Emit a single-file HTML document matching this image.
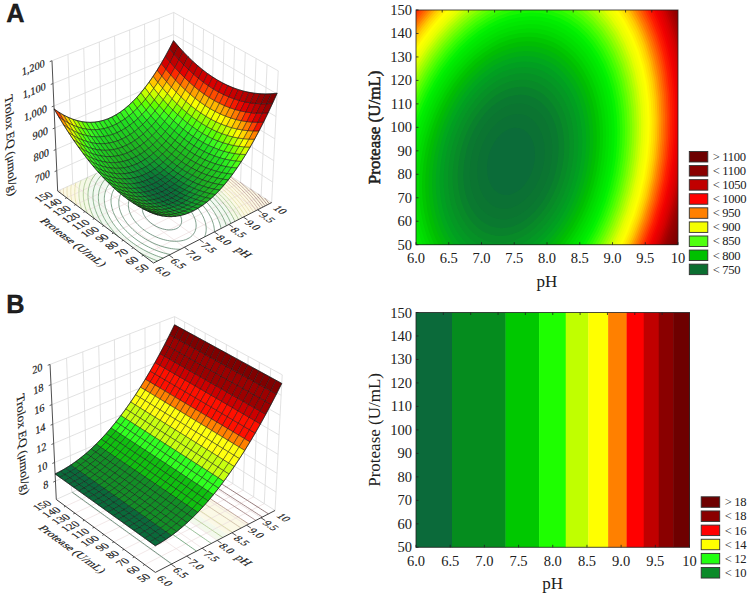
<!DOCTYPE html>
<html><head><meta charset="utf-8"><style>
html,body{margin:0;padding:0;background:#fff;}
body{width:750px;height:597px;overflow:hidden;position:relative;font-family:"Liberation Serif",serif;}
svg{position:absolute;left:0;top:0;}
</style></head><body>
<svg width="750" height="597" viewBox="0 0 750 597" fill="#202020">
<path d="M153.53,263.03 L156.68,261.42 L159.82,259.81 L162.91,258.23 L159.93,257.27 L156.54,256.06 L154.15,255.11 L151.83,254.13 L148.5,252.61 L146.36,251.55 L143.27,249.91 L141.29,248.79 L138.42,247.06 L135.67,245.28 L133.04,243.46 L130.51,241.59 L128.1,239.68 L125.79,237.73 L123.59,235.74 L121.83,234.06 L120.14,232.34 L118.21,230.25 L116.98,228.84 L115.22,226.69 L114.11,225.23 L112.93,223.6 L111.53,221.52 L110.59,220 L109.69,218.47 L108.76,216.73 L107.8,214.77 L107,212.93 L106.36,211.3 L105.78,209.65 L105.28,207.97 L104.88,206.42 L104.58,204.97 L104.34,203.57 L104.13,201.85 L104.01,200.02 L103.99,198.45 L104.04,197.19 L104.23,195.22 L104.43,193.96 L104.84,192.15 L105.2,190.93 L105.89,189.05 L106.52,187.67 L107.17,186.43 L108.19,184.81 L109.33,183.28 L110.59,181.85 L111.96,180.5 L114.23,178.65 L115.89,177.53 L118.6,176 L121.58,174.68 L124.85,173.56 L127.2,172.94 L129.69,172.43 L132.36,172.02 L135.17,171.74 L138.19,171.6 L141.06,171.59 L143.13,171.67 L146.25,171.89 L148.7,172.16 L150.87,172.47 L153.71,172.96 L156.42,173.52 L159.01,174.14 L161.49,174.8 L163.89,175.52 L166.2,176.27 L169.33,177.4 L171.68,178.32 L173.77,179.19 L176.8,180.56 L178.75,181.51 L181.6,182.98 L184.34,184.5 L187,186.08 L188.72,187.16 L191.23,188.83 L193.66,190.54 L195.23,191.72 L197.52,193.52 L199.73,195.36 L201.87,197.26 L203.25,198.56 L205.25,200.54 L206.54,201.89 L208.41,203.96 L209.61,205.38 L210.77,206.81 L212.41,208.98 L213.49,210.52 L214.5,212.05 L215.47,213.61 L216.39,215.2 L217.32,216.95 L218.17,218.7 L218.91,220.37 L219.55,221.98 L220.15,223.69 L220.7,225.51 L221.17,227.38 L221.7,228.17 L224.65,226.66 L227.59,225.15 L230.52,223.65 L233.44,222.16 L233.89,220.88 L233.09,219.19 L232.25,217.53 L231.36,215.9 L230.44,214.29 L229.3,212.44 L227.97,210.4 L226.91,208.88 L225.83,207.38 L224.72,205.91 L222.98,203.74 L221.79,202.32 L220.52,200.86 L218.68,198.87 L217.39,197.52 L215.4,195.53 L214.05,194.22 L211.95,192.31 L209.81,190.43 L208.34,189.2 L206.09,187.39 L203.78,185.62 L201.41,183.89 L198.98,182.2 L196.49,180.55 L193.93,178.94 L191.31,177.37 L188.62,175.85 L186.36,174.64 L183.97,173.41 L181.07,172 L179.1,171.09 L176.06,169.77 L173.98,168.92 L171.63,168 L168.58,166.9 L166.33,166.14 L164.02,165.41 L161.65,164.71 L159.21,164.05 L156.7,163.42 L154.09,162.84 L151.39,162.3 L148.58,161.82 L145.85,161.43 L143.91,161.19 L140.93,160.92 L138.48,160.76 L135.72,160.66 L133.52,160.65 L130.45,160.73 L127.53,160.92 L124.97,161.18 L122.17,161.59 L120.21,162.48 L117.31,163.8 L114.4,165.13 L111.49,166.46 L108.57,167.8 L105.64,169.13 L102.7,170.47 L99.76,171.82 L97.97,172.84 L96.65,174.21 L95.43,175.65 L94.3,177.17 L93.26,178.76 L92.31,180.42 L91.64,181.8 L91.08,183.07 L90.39,184.94 L90.02,186.17 L89.57,187.92 L89.31,189.23 L89.02,191.13 L88.91,192.25 L88.8,194.07 L88.77,195.79 L88.81,197.03 L88.91,198.65 L89.11,200.43 L89.37,202.19 L89.68,203.82 L90.01,205.3 L90.41,206.84 L90.88,208.44 L91.43,210.1 L92.06,211.82 L92.79,213.62 L93.6,215.44 L94.35,217.02 L95.15,218.58 L96.25,220.01 L98.64,221.81 L101.04,223.61 L103.45,225.42 L105.87,227.23 L108.29,229.05 L110.73,230.88 L113.17,232.71 L115.62,234.56 L118.08,236.4 L120.55,238.26 L123.03,240.12 L125.52,241.99 L128.02,243.87 L130.53,245.75 L133.05,247.64 L135.57,249.54 L138.11,251.45 L140.66,253.36 L143.21,255.28 L145.78,257.2 L148.35,259.14 L150.94,261.08 L153.53,263.03Z" fill="#f2f9f1" fill-rule="evenodd"/>
<path d="M234.27,221.74 L236.36,220.67 L239.27,219.18 L242.16,217.7 L242.56,216.45 L241.63,214.84 L240.66,213.25 L239.42,211.3 L238.12,209.37 L237.05,207.86 L235.95,206.37 L234.75,204.8 L233.09,202.73 L231.9,201.3 L230.6,199.8 L228.81,197.82 L227.54,196.46 L225.59,194.45 L224.25,193.13 L222.21,191.18 L220.82,189.9 L218.7,188.02 L216.52,186.16 L215.05,184.95 L212.79,183.16 L210.48,181.4 L208.12,179.68 L205.71,178 L203.25,176.35 L200.73,174.73 L198.16,173.15 L195.54,171.61 L192.86,170.1 L191.03,169.12 L188.25,167.68 L185.39,166.27 L183.45,165.36 L180.49,164.03 L178.46,163.16 L175.36,161.9 L173.25,161.09 L171.09,160.3 L168.32,159.34 L165.51,158.43 L163.19,157.73 L160.81,157.05 L158.38,156.41 L155.87,155.8 L153.3,155.22 L150.64,154.69 L147.91,154.2 L145.84,153.87 L143.57,153.55 L140.53,153.2 L138.38,154.18 L135.53,155.49 L132.67,156.79 L129.81,158.1 L126.94,159.41 L124.06,160.72 L123.43,161.39 L126.13,161.05 L128.97,160.81 L131.85,160.68 L133.83,160.64 L136.78,160.69 L139.26,160.8 L142.04,161.01 L144.12,161.22 L147.13,161.6 L149.96,162.05 L152.15,162.45 L154.44,162.91 L156.85,163.46 L159.39,164.09 L162.1,164.84 L165,165.71 L167.46,166.51 L169.68,167.29 L171.86,168.09 L175.03,169.34 L177.08,170.21 L180.09,171.54 L182.05,172.47 L184.91,173.89 L186.78,174.86 L189.52,176.35 L192.19,177.89 L194.79,179.47 L197.33,181.09 L199.8,182.76 L202.21,184.46 L204.56,186.2 L206.85,187.99 L209.08,189.81 L210.53,191.05 L212.66,192.94 L214.27,194.44 L216.07,196.19 L217.76,197.89 L219.32,199.55 L220.57,200.93 L222.39,203.03 L223.57,204.46 L224.76,205.97 L226.38,208.13 L227.44,209.64 L228.48,211.16 L229.48,212.72 L230.5,214.4 L231.57,216.26 L232.53,218.07 L233.39,219.81 L234.16,221.49Z" fill="#f5f9e6" fill-rule="evenodd"/>
<path d="M95.46,219.41 L95.15,218.58 L94.35,217.02 L93.6,215.44 L92.79,213.62 L92.06,211.82 L91.43,210.1 L90.88,208.44 L90.41,206.84 L90.01,205.3 L89.68,203.82 L89.37,202.19 L89.11,200.43 L88.91,198.65 L88.81,197.03 L88.77,195.79 L88.8,194.07 L88.91,192.25 L89.02,191.13 L89.31,189.23 L89.57,187.92 L90.02,186.17 L90.39,184.94 L91.08,183.07 L91.64,181.8 L92.31,180.42 L93.26,178.76 L94.3,177.17 L95.43,175.65 L96.65,174.21 L97.97,172.84 L96.81,173.17 L93.85,174.52 L90.88,175.87 L87.9,177.23 L84.91,178.6 L81.92,179.96 L79.27,181.18 L78.87,182.49 L78.43,184.25 L78.16,185.56 L77.9,187.21 L77.7,188.84 L77.6,190.07 L77.52,191.93 L77.51,193.56 L77.55,194.81 L77.65,196.47 L77.83,198.24 L78.06,199.98 L78.33,201.56 L78.63,203.02 L78.97,204.53 L79.38,206.08 L79.84,207.69 L82.1,209.38 L84.43,211.13 L86.78,212.9 L89.14,214.67 L91.5,216.44 L93.87,218.22Z" fill="#f5f9e6" fill-rule="evenodd"/>
<path d="M243.02,217.26 L245.06,216.22 L247.94,214.74 L250.81,213.27 L253.68,211.81 L256.54,210.35 L259.39,208.89 L262.23,207.44 L265.06,205.99 L267.89,204.54 L270.7,203.1 L269.87,201.47 L267.21,199.74 L264.56,198.02 L261.92,196.3 L259.3,194.6 L256.68,192.89 L254.07,191.2 L251.47,189.51 L248.88,187.82 L246.29,186.14 L243.72,184.47 L241.16,182.8 L238.6,181.14 L236.06,179.49 L233.52,177.84 L231,176.2 L228.48,174.56 L225.97,172.93 L223.47,171.3 L220.97,169.68 L218.49,168.07 L216.01,166.46 L213.55,164.86 L211.09,163.26 L208.64,161.67 L206.2,160.08 L203.77,158.5 L201.34,156.92 L198.93,155.35 L196.52,153.79 L194.12,152.23 L191.73,150.67 L189.35,149.12 L186.97,147.58 L184.6,146.04 L182.25,144.51 L179.9,142.98 L177.55,141.45 L175.22,139.94 L172.89,138.42 L170.13,139.68 L167.37,140.94 L164.6,142.21 L161.82,143.48 L159.03,144.75 L156.24,146.03 L153.44,147.31 L150.63,148.59 L147.82,149.87 L144.99,151.16 L142.16,152.46 L141.9,153.35 L143.84,153.59 L146.48,153.97 L149.28,154.43 L151.98,154.95 L154.6,155.5 L157.07,156.08 L159.6,156.73 L162.01,157.39 L164.36,158.08 L166.65,158.79 L168.89,159.53 L171.67,160.51 L174.31,161.5 L176.41,162.32 L179.48,163.59 L181.48,164.47 L184.43,165.82 L186.35,166.74 L189.18,168.15 L191.06,169.13 L193.76,170.6 L196.42,172.12 L199.03,173.67 L201.58,175.27 L204.08,176.89 L206.52,178.55 L208.91,180.25 L211.25,181.99 L213.55,183.75 L215.71,185.49 L217.25,186.78 L219.41,188.64 L221.14,190.19 L222.9,191.83 L224.92,193.78 L226.24,195.11 L228.04,196.98 L229.44,198.51 L230.68,199.89 L232.5,202.01 L233.67,203.45 L234.82,204.9 L236.47,207.07 L237.58,208.62 L238.64,210.14 L239.67,211.68 L240.69,213.29 L241.84,215.2 L242.9,217.05Z" fill="#fcf9e4" fill-rule="evenodd"/>
<path d="M79.77,207.63 L79.57,206.77 L79.12,205.1 L78.71,203.41 L78.36,201.71 L78.09,200.14 L77.89,198.76 L77.73,197.36 L77.59,195.57 L77.51,193.77 L77.51,192.34 L77.55,191.01 L77.67,189.13 L77.83,187.72 L78.05,186.23 L78.37,184.52 L78.68,183.24 L79.16,181.51 L77.92,181.79 L74.9,183.17 L71.88,184.55 L68.85,185.93 L65.82,187.32 L62.77,188.71 L59.72,190.1 L58.42,191.6 L60.68,193.29 L62.94,194.99 L65.21,196.69 L67.48,198.4 L69.77,200.12 L72.06,201.84 L74.36,203.57 L76.67,205.31 L78.99,207.05Z" fill="#fcf9e4" fill-rule="evenodd"/>
<line x1="169.06" y1="255.09" x2="72.77" y2="184.15" stroke="#ecdede" stroke-width="0.7"/>
<line x1="184.35" y1="247.27" x2="87.65" y2="177.35" stroke="#ecdede" stroke-width="0.7"/>
<line x1="199.43" y1="239.56" x2="102.34" y2="170.64" stroke="#ecdede" stroke-width="0.7"/>
<line x1="214.29" y1="231.96" x2="116.83" y2="164.03" stroke="#ecdede" stroke-width="0.7"/>
<line x1="228.93" y1="224.47" x2="131.12" y2="157.5" stroke="#ecdede" stroke-width="0.7"/>
<line x1="243.37" y1="217.08" x2="145.23" y2="151.06" stroke="#ecdede" stroke-width="0.7"/>
<line x1="257.61" y1="209.8" x2="159.15" y2="144.7" stroke="#ecdede" stroke-width="0.7"/>
<line x1="143.3" y1="255.34" x2="261.13" y2="195.79" stroke="#ecdede" stroke-width="0.7"/>
<line x1="133.21" y1="247.77" x2="250.78" y2="189.06" stroke="#ecdede" stroke-width="0.7"/>
<line x1="123.28" y1="240.31" x2="240.56" y2="182.42" stroke="#ecdede" stroke-width="0.7"/>
<line x1="113.5" y1="232.96" x2="230.49" y2="175.87" stroke="#ecdede" stroke-width="0.7"/>
<line x1="103.85" y1="225.72" x2="220.56" y2="169.41" stroke="#ecdede" stroke-width="0.7"/>
<line x1="94.35" y1="218.58" x2="210.76" y2="163.04" stroke="#ecdede" stroke-width="0.7"/>
<line x1="84.98" y1="211.55" x2="201.1" y2="156.76" stroke="#ecdede" stroke-width="0.7"/>
<line x1="75.75" y1="204.61" x2="191.57" y2="150.57" stroke="#ecdede" stroke-width="0.7"/>
<line x1="66.65" y1="197.78" x2="182.17" y2="144.45" stroke="#ecdede" stroke-width="0.7"/>
<line x1="72.77" y1="184.15" x2="67.98" y2="54.4" stroke="#dadada" stroke-width="0.8"/>
<line x1="87.65" y1="177.35" x2="83.73" y2="48.15" stroke="#dadada" stroke-width="0.8"/>
<line x1="102.34" y1="170.64" x2="99.27" y2="41.99" stroke="#dadada" stroke-width="0.8"/>
<line x1="116.83" y1="164.03" x2="114.58" y2="35.92" stroke="#dadada" stroke-width="0.8"/>
<line x1="131.12" y1="157.5" x2="129.67" y2="29.93" stroke="#dadada" stroke-width="0.8"/>
<line x1="145.23" y1="151.06" x2="144.56" y2="24.03" stroke="#dadada" stroke-width="0.8"/>
<line x1="159.15" y1="144.7" x2="159.24" y2="18.2" stroke="#dadada" stroke-width="0.8"/>
<line x1="172.89" y1="138.42" x2="173.72" y2="12.46" stroke="#dadada" stroke-width="0.8"/>
<line x1="271.64" y1="202.62" x2="278.24" y2="70.83" stroke="#dadada" stroke-width="0.8"/>
<line x1="261.13" y1="195.79" x2="267.08" y2="64.6" stroke="#dadada" stroke-width="0.8"/>
<line x1="250.78" y1="189.06" x2="256.09" y2="58.46" stroke="#dadada" stroke-width="0.8"/>
<line x1="240.56" y1="182.42" x2="245.26" y2="52.41" stroke="#dadada" stroke-width="0.8"/>
<line x1="230.49" y1="175.87" x2="234.59" y2="46.45" stroke="#dadada" stroke-width="0.8"/>
<line x1="220.56" y1="169.41" x2="224.07" y2="40.58" stroke="#dadada" stroke-width="0.8"/>
<line x1="210.76" y1="163.04" x2="213.71" y2="34.79" stroke="#dadada" stroke-width="0.8"/>
<line x1="201.1" y1="156.76" x2="203.5" y2="29.09" stroke="#dadada" stroke-width="0.8"/>
<line x1="191.57" y1="150.57" x2="193.43" y2="23.47" stroke="#dadada" stroke-width="0.8"/>
<line x1="182.17" y1="144.45" x2="183.5" y2="17.93" stroke="#dadada" stroke-width="0.8"/>
<polyline points="56.79,170.65 173.02,118.67 272.67,182.02" fill="none" stroke="#dadada" stroke-width="0.8"/>
<polyline points="55.86,149.48 173.16,98.17 273.75,160.61" fill="none" stroke="#dadada" stroke-width="0.8"/>
<polyline points="54.92,127.91 173.29,77.3 274.84,138.8" fill="none" stroke="#dadada" stroke-width="0.8"/>
<polyline points="53.96,105.94 173.43,56.07 275.95,116.57" fill="none" stroke="#dadada" stroke-width="0.8"/>
<polyline points="52.99,83.55 173.57,34.46 277.09,93.92" fill="none" stroke="#dadada" stroke-width="0.8"/>
<polyline points="51.99,60.74 173.72,12.46 278.24,70.83" fill="none" stroke="#dadada" stroke-width="0.8"/>
<polyline points="57.67,191.04 172.89,138.42 271.64,202.62" fill="none" stroke="#dadada" stroke-width="0.8"/>
<polyline points="175.67,228.96 173.47,229.59 171.25,229.89 168.82,229.93 166.61,229.73 164.76,229.42 162.28,228.81 160.17,228.11 158.02,227.24 156.15,226.34 153.86,225.03 152.28,223.99 150.35,222.52 149.02,221.37 147.4,219.76 146.31,218.5 145.33,217.19 144.45,215.83 143.7,214.42 143.08,212.94 142.76,211.92 142.44,210.32 142.36,209.18 142.41,207.99 142.64,206.71 143.18,205.29 143.88,204.11 145.05,202.82 146.52,201.74 148.97,200.65 151.2,200.12 153.13,199.92 155.52,199.92 157.52,200.12 159.7,200.5 161.68,201.01 163.83,201.71 165.8,202.51 168.21,203.68 169.87,204.63 171.92,205.98 173.8,207.43 175.11,208.57 176.69,210.17 177.77,211.43 178.76,212.75 179.63,214.12 180.38,215.56 180.89,216.79 181.3,218.13 181.55,219.4 181.66,220.9 181.55,222.26 181.25,223.49 180.8,224.61 179.83,226.1 178.54,227.36 176.93,228.4 175.67,228.96" fill="none" stroke="#5f8472" stroke-width="0.9" stroke-opacity="0.9"/>
<polyline points="185.53,239.7 183.36,240.37 180.95,240.87 178.77,241.15 176.34,241.28 174.24,241.27 171.97,241.12 169.49,240.82 167.55,240.49 165.26,240 163.29,239.49 160.95,238.78 158.75,238.01 156.66,237.18 154.68,236.3 152.64,235.31 150.39,234.1 148.12,232.76 146.51,231.72 144.46,230.28 142.53,228.8 141.15,227.65 139.41,226.08 137.78,224.47 136.63,223.23 135.53,221.97 134.32,220.44 133.23,218.92 132.35,217.56 131.56,216.21 130.93,215.02 130.36,213.81 129.76,212.34 129.26,210.88 128.96,209.8 128.63,208.25 128.48,207.14 128.38,205.89 128.38,204.45 128.49,203.09 128.71,201.84 129.04,200.62 129.45,199.49 129.96,198.39 130.85,196.94 131.67,195.88 132.73,194.76 134.17,193.56 136.17,192.29 138.55,191.19 140.62,190.5 142.94,189.97 145.2,189.63 147.54,189.47 149.87,189.45 151.99,189.57 154.02,189.77 155.84,190.04 158.26,190.51 159.96,190.91 162.22,191.53 164.35,192.22 166.38,192.97 168.31,193.76 170.16,194.59 172.52,195.76 174.2,196.68 176.36,197.96 178.4,199.3 180.35,200.69 182.21,202.13 183.54,203.25 185.23,204.79 186.44,205.97 187.96,207.6 189.04,208.86 190.07,210.16 191.04,211.48 191.94,212.85 192.78,214.24 193.55,215.68 194.09,216.82 194.66,218.18 195.19,219.71 195.5,220.83 195.83,222.28 196.03,223.65 196.12,224.85 196.13,226.09 196.03,227.43 195.82,228.74 195.44,230.18 194.86,231.67 194.32,232.74 193.33,234.22 192.16,235.58 190.79,236.81 189.23,237.91 186.85,239.17 185.53,239.7" fill="none" stroke="#608771" stroke-width="0.9" stroke-opacity="0.9"/>
<polyline points="180.45,249.26 177.97,249.24 175.7,249.11 173.59,248.9 171.59,248.63 169.26,248.23 167,247.76 164.71,247.19 162.85,246.67 160.53,245.93 158.3,245.15 156.17,244.33 154.12,243.47 152.15,242.57 149.63,241.32 147.82,240.35 145.5,239.02 143.83,237.99 141.68,236.57 139.63,235.12 137.67,233.64 135.8,232.11 134.45,230.95 132.73,229.36 131.24,227.88 129.93,226.5 128.8,225.25 127.38,223.55 126.38,222.24 125.42,220.92 124.51,219.58 123.66,218.22 122.86,216.84 122.12,215.43 121.44,214.01 120.96,212.89 120.45,211.56 119.95,210.06 119.64,208.99 119.29,207.49 119.09,206.4 118.88,204.81 118.8,203.7 118.77,202.55 118.83,201.15 118.97,199.81 119.19,198.54 119.49,197.32 119.85,196.16 120.29,195.05 121.01,193.59 121.67,192.5 122.65,191.14 123.45,190.21 124.65,189.01 126,187.88 128.01,186.52 129.67,185.61 131.46,184.8 134.07,183.89 136.21,183.32 138.5,182.88 140.85,182.58 142.75,182.43 144.82,182.37 147.11,182.4 149.21,182.52 151.17,182.71 153.33,183 155.63,183.39 157.33,183.73 159.64,184.28 161.89,184.9 163.78,185.48 165.7,186.13 167.83,186.92 170,187.8 171.86,188.62 173.66,189.46 175.97,190.64 177.64,191.55 179.8,192.81 181.88,194.12 183.88,195.46 185.81,196.85 187.67,198.28 189.35,199.67 190.75,200.89 192.42,202.44 193.62,203.62 194.78,204.84 196.24,206.46 197.33,207.76 198.35,209.06 199.33,210.38 200.26,211.73 201.14,213.11 201.97,214.53 202.61,215.71 203.23,216.95 203.9,218.46 204.42,219.77 204.87,221.06 205.3,222.5 205.62,223.79 205.86,225.02 206.08,226.59 206.18,227.88 206.21,229.12 206.16,230.4 206.03,231.73 205.79,233.12 205.42,234.58 204.97,235.89 204.53,236.95" fill="none" stroke="#618a70" stroke-width="0.9" stroke-opacity="0.9"/>
<polyline points="170.18,254.51 167.66,253.97 165.81,253.51 163.35,252.83 160.98,252.1 158.96,251.41 156.89,250.65 154.63,249.75 152.37,248.78 150.4,247.87 148.48,246.93 146.01,245.65 144.23,244.65 141.93,243.29 140.26,242.25 138.11,240.83 136.04,239.37 134.06,237.88 132.14,236.37 130.31,234.82 128.98,233.64 127.27,232.04 126.04,230.82 124.46,229.18 123.32,227.93 121.88,226.25 120.83,224.94 119.83,223.63 118.88,222.31 117.97,220.97 117.1,219.62 116.28,218.25 115.51,216.86 114.79,215.45 114.12,214.02 113.52,212.6 113.12,211.56 112.61,210.1 112.17,208.66 111.88,207.56 111.54,206.01 111.36,204.95 111.17,203.54 111.06,202.24 111.02,201.13 111.03,199.81 111.11,198.43 111.27,197.11 111.5,195.84 111.79,194.62 112.14,193.45 112.55,192.32 113.04,191.2 113.8,189.73 114.42,188.71 115.4,187.32 116.13,186.43 117.31,185.17 118.59,184 119.98,182.9 121.99,181.57 123.64,180.66 126,179.58 127.91,178.87 130.42,178.12 132.72,177.59 134.6,177.26 136.85,176.97 139.13,176.78 141.32,176.7 143.26,176.7 145.3,176.76 147.45,176.91 149.73,177.14 151.81,177.42 153.55,177.7 156.05,178.18 157.65,178.54 159.95,179.11 162.17,179.73 164.08,180.31 165.98,180.95 168.04,181.69 170.3,182.57 172.18,183.36 174.02,184.18 175.98,185.11 178.11,186.18 180.11,187.25 181.97,188.31 184.09,189.59 186.14,190.9 188.12,192.24 190.05,193.62 191.91,195.04 193.72,196.5 195.04,197.61 196.74,199.13 197.98,200.29 199.59,201.87 200.75,203.08 201.88,204.31 203.01,205.6 204.31,207.18 205.39,208.57 206.36,209.9 207.3,211.26 208.15,212.57 208.88,213.76 209.58,214.99 210.35,216.45 211.08,217.93 211.61,219.13 212.16,220.48 212.71,221.99 213.08,223.13 213.51,224.65 213.8,225.89 214.04,227.15 214.27,228.73 214.39,230 214.45,231.24 214.46,231.87" fill="none" stroke="#618d6f" stroke-width="0.9" stroke-opacity="0.9"/>
<polyline points="163.25,258.06 160.88,257.32 158.6,256.54 156.41,255.73 154.24,254.88 152.16,254 150.14,253.1 148.18,252.17 145.94,251.05 143.8,249.92 142.01,248.92 139.69,247.55 137.45,246.16 135.82,245.09 133.71,243.64 131.68,242.16 129.71,240.65 127.81,239.12 126.43,237.95 124.65,236.38 122.94,234.78 121.7,233.56 120.09,231.91 118.94,230.67 117.55,229.1 116.38,227.7 115.35,226.41 114.35,225.1 113.31,223.66 112.26,222.13 111.34,220.69 110.52,219.32 109.78,218.03 109.12,216.79 108.5,215.55 107.84,214.12 107.22,212.67 106.67,211.25 106.3,210.22 105.83,208.72 105.46,207.4 105.16,206.18 104.87,204.77 104.67,203.56 104.51,202.31 104.39,200.86 104.34,199.76 104.33,198.55 104.39,197.15 104.52,195.8 104.69,194.55 104.93,193.33 105.24,192.07 105.6,190.86 106.01,189.73 106.46,188.64 107.1,187.34 107.8,186.08 108.46,185.06 109.43,183.74 110.49,182.48 111.42,181.5 112.58,180.41 114.1,179.17 115.88,177.92 117.45,176.98 119.69,175.82 122.11,174.8 124.04,174.12 126.59,173.38 128.88,172.87 130.78,172.52 132.94,172.22 135.43,171.99 137.28,171.88 139.25,171.83 141.53,171.85 143.67,171.94 145.69,172.08 147.61,172.27 149.85,172.55 152.09,172.9 153.78,173.2 156.21,173.7 157.9,174.09 160.06,174.64 162.26,175.26 164.38,175.91 166.38,176.57 168.41,177.29 170.41,178.05 172.31,178.81 174.17,179.61 175.98,180.42 178.34,181.55 180.06,182.41 182.29,183.6 183.98,184.54 186.06,185.77 188.14,187.05 190.16,188.37 192.12,189.72 194.03,191.1 195.9,192.52 197.26,193.6 199.03,195.07 200.75,196.57 202.01,197.72 203.5,199.13 204.84,200.47 206,201.68 207.26,203.04 208.6,204.57 209.66,205.85 210.69,207.14 211.69,208.46 212.66,209.79 213.59,211.15 214.48,212.54 215.34,213.94 216.07,215.23 216.68,216.34 217.42,217.82 218.12,219.32 218.6,220.44 219.18,221.9 219.67,223.28 220.09,224.57 220.48,225.94 220.82,227.35 221.05,228.49 221.05,228.49" fill="none" stroke="#64926f" stroke-width="0.9" stroke-opacity="0.9"/>
<polyline points="157.63,260.93 155.42,260.11 153.28,259.25 151.19,258.37 149.16,257.46 146.62,256.26 144.61,255.25 142.75,254.28 140.33,252.94 139.37,252.39" fill="none" stroke="#6c9b72" stroke-width="0.9" stroke-opacity="0.9"/>
<polyline points="118.58,236.78 117.03,235.24 115.65,233.81 114.29,232.33 113.17,231.06 111.74,229.36 110.7,228.06 109.7,226.76 108.73,225.44 107.78,224.08 106.77,222.57 105.87,221.15 105.07,219.79 104.33,218.49 103.67,217.24 102.98,215.86 102.32,214.43 101.69,212.99 101.15,211.63 100.76,210.55 100.26,209.07 99.85,207.69 99.54,206.55 99.19,205.01 98.98,203.98 98.73,202.45 98.59,201.33 98.47,200.07 98.39,198.62 98.38,197.51 98.4,196.38 98.49,195 98.63,193.66 98.83,192.37 99.08,191.12 99.38,189.91 99.73,188.74 100.12,187.61 100.56,186.51 101.19,185.15 101.85,183.91 102.44,182.93 103.4,181.51 104.15,180.52 105.18,179.3 106.37,178.07 107.63,176.9 108.99,175.79 110.42,174.75 112.45,173.46 114.1,172.56 116.41,171.47 118.88,170.5 120.84,169.85 122.9,169.27 125.07,168.77 127.34,168.34 129.74,168 131.73,167.79 134.01,167.63 135.83,167.55 138.07,167.53 140.29,167.58 142.38,167.68 144.37,167.83 146.28,168.02 148.46,168.3 150.75,168.64 152.44,168.94 154.89,169.42 156.47,169.76 158.77,170.32 160.96,170.9 162.63,171.38 164.56,171.97 166.62,172.65 168.63,173.35 170.59,174.08 172.65,174.89 174.99,175.87 176.81,176.67 178.59,177.5 180.91,178.63 182.61,179.5 184.83,180.69 186.61,181.69 188.58,182.85 190.65,184.12 192.68,185.43 194.65,186.77 196.58,188.13 198.47,189.53 200.13,190.81 201.65,192.04 203.41,193.51 204.7,194.63 206.38,196.16 207.61,197.32 209.21,198.9 210.38,200.1 211.52,201.32 212.78,202.72 214.09,204.24 215.14,205.52 216.17,206.82 217.16,208.14 218.13,209.48 219.06,210.85 219.96,212.23 220.83,213.63 221.52,214.8 222.2,216.02 222.97,217.49 223.7,218.98 224.22,220.11 224.83,221.53 225.41,223.01 225.82,224.17 226.33,225.75 226.35,225.79" fill="none" stroke="#6c9b72" stroke-width="0.9" stroke-opacity="0.9"/>
<polyline points="103.29,225.29 102.29,223.81 101.43,222.45 100.6,221.09 99.8,219.71 99.04,218.32 98.4,217.08 97.82,215.89 97.2,214.55 96.58,213.11 96,211.66 95.56,210.45 95.14,209.21 94.68,207.71 94.36,206.59 94.01,205.18 93.74,203.91 93.5,202.6 93.31,201.39 93.15,199.96 93.05,198.88 92.98,197.49 92.96,196.13 92.99,195.01 93.05,193.87 93.17,192.56 93.35,191.25 93.58,189.98 93.85,188.75 94.17,187.55 94.53,186.39 94.94,185.27 95.46,183.99 96.12,182.6 96.67,181.58 97.36,180.41 98.18,179.17 99.03,178.02 99.92,176.93 101.07,175.67 102.3,174.48 103.6,173.34 104.97,172.26 106.43,171.23 108.48,169.96 110.12,169.08 112.41,167.99 114.86,167.01 116.79,166.34 118.86,165.73 121.36,165.12 123.42,164.7 125.45,164.36 127.88,164.05 129.85,163.87 132.19,163.72 134.01,163.66 136.1,163.64 138.31,163.69 140.41,163.78 142.41,163.92 144.33,164.1 146.53,164.36 148.85,164.68 150.56,164.96 152.82,165.37 154.65,165.75 156.99,166.27 158.56,166.66 160.73,167.23 162.88,167.85 164.99,168.49 167.04,169.16 169.04,169.86 171,170.58 172.92,171.32 174.79,172.09 176.63,172.87 178.97,173.92 180.79,174.78 182.52,175.62 184.78,176.78 186.71,177.81 188.61,178.88 190.73,180.12 192.8,181.38 194.83,182.68 196.82,184 198.76,185.35 200.66,186.72 202.52,188.13 204.34,189.56 205.68,190.65 207.43,192.12 208.78,193.31 210.39,194.78 211.62,195.94 213.22,197.51 214.4,198.71 215.55,199.92 217.01,201.53 218.14,202.82 219.21,204.1 220.26,205.39 221.28,206.69 222.27,208.02 223.23,209.36 224.16,210.72 225.07,212.11 225.94,213.51 226.79,214.94 227.42,216.06 228.12,217.36 228.87,218.85 229.54,220.27 230.03,221.39 230.68,222.94 230.88,223.47" fill="none" stroke="#74a376" stroke-width="0.9" stroke-opacity="0.9"/>
<polyline points="94.38,218.61 93.74,217.36 93.06,215.94 92.41,214.52 91.79,213.08 91.26,211.74 90.86,210.66 90.35,209.18 89.89,207.72 89.6,206.69 89.21,205.18 88.95,204.05 88.66,202.62 88.47,201.48 88.26,200 88.14,198.94 88.03,197.49 87.98,196.24 87.96,195.13 87.99,193.82 88.07,192.43 88.18,191.17 88.34,190 88.54,188.82 88.78,187.61 89.08,186.38 89.45,185.13 89.88,183.85 90.34,182.64 90.81,181.57 91.33,180.48 92.1,179.06 92.72,178.03 93.55,176.79 94.34,175.71 95.41,174.39 96.29,173.4 96.29,173.4" fill="none" stroke="#87b17f" stroke-width="0.9" stroke-opacity="0.9"/>
<polyline points="124.19,160.66 126.43,160.41 128.56,160.24 130.78,160.12 132.62,160.08 134.67,160.07 136.86,160.12 138.94,160.22 140.93,160.36 142.85,160.53 145.12,160.79 147.38,161.09 149.1,161.36 151.32,161.75 153.22,162.12 155.44,162.59 157.12,162.99 159.36,163.55 161.55,164.14 163.26,164.64 165.07,165.2 167.12,165.86 169.13,166.55 171.09,167.26 173.1,168.03 175.5,168.99 177.36,169.77 179.17,170.57 181.14,171.47 183.26,172.49 184.97,173.34 187.21,174.51 189.33,175.66 191,176.61 193.11,177.84 195.18,179.11 197.21,180.39 199.19,181.71 201.14,183.05 203.05,184.42 204.92,185.81 206.75,187.22 208.1,188.3 209.86,189.76 211.45,191.12 212.87,192.38 214.29,193.69 215.75,195.08 216.95,196.26 218.52,197.85 219.67,199.07 220.8,200.3 221.91,201.55 223.1,202.94 224.34,204.45 225.43,205.82 226.43,207.14 227.41,208.48 228.36,209.84 229.23,211.13 230.02,212.34 230.76,213.54 231.61,214.97 232.43,216.42 233.22,217.89 233.78,219.01 234.45,220.39 234.91,221.41" fill="none" stroke="#87b17f" stroke-width="0.9" stroke-opacity="0.9"/>
<polyline points="87.46,213.41 86.88,211.96 86.34,210.51 85.9,209.22 85.52,208.05 85.08,206.55 84.77,205.4 84.44,204.03 84.17,202.72 83.94,201.46 83.73,200.18 83.57,198.84 83.46,197.77 83.35,196.22 83.31,195.08 83.3,193.99 83.33,192.56 83.41,191.19 83.52,190.04 83.66,188.89 83.85,187.71 84.08,186.52 84.35,185.31 84.69,184.07 85.08,182.81 85.54,181.52 86.06,180.24 86.55,179.18 87.06,178.15 87.44,177.44" fill="none" stroke="#a8c690" stroke-width="0.9" stroke-opacity="0.9"/>
<polyline points="132.75,156.75 134.95,156.79 137.04,156.88 139.05,157.01 140.99,157.17 142.96,157.37 145.29,157.66 147.3,157.95 149,158.23 151.47,158.68 153.07,159 155.42,159.5 157.23,159.93 159.18,160.42 161.36,161.01 163.49,161.63 165.41,162.21 167.25,162.81 169.2,163.47 171.25,164.21 173.44,165.03 175.37,165.79 177.22,166.55 179.05,167.33 181.24,168.31 183.18,169.22 184.91,170.05 187.17,171.19 188.84,172.06 191.02,173.24 193.16,174.45 194.74,175.37 196.82,176.63 198.85,177.9 200.85,179.21 202.81,180.53 204.73,181.88 206.62,183.26 208.01,184.3 209.84,185.72 211.63,187.16 212.95,188.25 214.68,189.73 215.96,190.86 217.63,192.38 218.86,193.54 220.46,195.11 221.65,196.3 222.81,197.51 224.18,198.98 225.44,200.39 226.54,201.64 227.61,202.92 228.66,204.2 229.69,205.51 230.69,206.83 231.67,208.17 232.63,209.52 233.56,210.89 234.47,212.28 235.35,213.69 236.2,215.12 236.86,216.28 237.55,217.55 238.32,219.03 238.57,219.53" fill="none" stroke="#a8c690" stroke-width="0.9" stroke-opacity="0.9"/>
<polyline points="81.62,209.02 81.23,207.79 80.79,206.3 80.49,205.18 80.16,203.79 79.88,202.48 79.64,201.23 79.43,199.92 79.25,198.63 79.12,197.49 79,195.98 78.95,194.9 78.91,193.67 78.92,192.22 78.97,191.05 79.04,189.92 79.15,188.76 79.32,187.44 79.53,186.16 79.78,184.91 80.07,183.69 80.39,182.5 80.75,181.34 81.1,180.34" fill="none" stroke="#c5d59d" stroke-width="0.9" stroke-opacity="0.9"/>
<polyline points="138.8,153.99 140.7,154.17 142.54,154.37 144.61,154.63 146.93,154.97 148.61,155.25 150.89,155.66 152.66,156.01 155,156.52 156.52,156.87 158.76,157.43 160.94,158.01 162.78,158.53 164.49,159.04 166.53,159.68 168.55,160.34 170.53,161.03 172.47,161.74 174.41,162.47 176.79,163.42 178.71,164.22 180.52,165 182.3,165.8 184.64,166.88 186.36,167.71 188.61,168.85 190.27,169.71 192.46,170.89 194.6,172.09 196.18,173.01 198.26,174.25 200.3,175.52 202.31,176.8 204.28,178.12 206.22,179.45 208.12,180.81 209.99,182.19 211.37,183.24 213.19,184.66 214.97,186.1 216.28,187.2 218.01,188.68 219.28,189.81 220.95,191.33 222.18,192.49 223.79,194.06 224.97,195.25 226.14,196.45 227.44,197.83 228.79,199.32 229.89,200.57 230.98,201.83 232.04,203.12 233.08,204.41 234.1,205.72 235.09,207.05 236.07,208.4 237.02,209.76 237.95,211.14 238.85,212.53 239.73,213.95 240.59,215.38 241.22,216.49 241.95,217.81 241.95,217.81" fill="none" stroke="#c5d59d" stroke-width="0.9" stroke-opacity="0.9"/>
<polyline points="76.49,205.17 76.19,203.96 75.85,202.45 75.64,201.42 75.37,199.87 75.22,198.84 75.04,197.4 74.93,196.21 74.84,195.04 74.78,193.53 74.76,192.44 74.77,191.33 74.82,189.91 74.92,188.56 75.04,187.42 75.19,186.27 75.38,185.1 75.6,183.92 75.87,182.73 75.87,182.73" fill="none" stroke="#e0dea6" stroke-width="0.9" stroke-opacity="0.9"/>
<polyline points="143.73,151.74 145.46,151.99 147.91,152.38 149.63,152.69 151.85,153.12 153.6,153.48 155.89,154 157.57,154.41 159.59,154.93 161.75,155.52 163.86,156.13 165.77,156.71 167.6,157.3 169.52,157.94 171.53,158.64 173.66,159.42 175.72,160.22 177.59,160.96 179.42,161.72 181.23,162.49 183.59,163.55 185.34,164.36 187.32,165.31 189.32,166.31 191.4,167.38 193.19,168.33 195.34,169.51 197.17,170.56 199.02,171.65 201.08,172.9 203.11,174.17 205.1,175.46 207.05,176.78 208.98,178.11 210.88,179.47 212.74,180.85 214.12,181.9 215.93,183.32 217.71,184.76 219.03,185.86 220.75,187.33 222.03,188.46 223.7,189.98 224.94,191.13 226.36,192.49 227.75,193.87 228.93,195.07 230.11,196.3 231.6,197.91 232.72,199.15 233.82,200.41 234.89,201.68 235.95,202.97 236.99,204.27 238.01,205.58 239.01,206.91 239.98,208.26 240.94,209.62 241.87,211 242.78,212.39 243.67,213.81 244.53,215.24 245.09,216.2" fill="none" stroke="#e0dea6" stroke-width="0.9" stroke-opacity="0.9"/>
<polyline points="71.87,201.7 71.64,200.5 71.41,199.12 71.24,197.91 71.09,196.66 70.96,195.29 70.89,194.23 70.83,192.78 70.81,191.53 70.82,190.44 70.87,189.16 70.96,187.78 71.08,186.53 71.23,185.39 71.31,184.81" fill="none" stroke="#e5ddab" stroke-width="0.9" stroke-opacity="0.9"/>
<polyline points="147.99,149.79 150.39,150.23 152,150.56 154.32,151.06 155.97,151.44 158.06,151.95 160.25,152.52 162.19,153.06 163.88,153.55 165.85,154.15 167.88,154.8 169.87,155.46 171.83,156.15 173.76,156.85 175.66,157.56 177.95,158.47 179.97,159.3 181.78,160.07 183.56,160.86 185.9,161.92 187.63,162.74 189.89,163.85 191.57,164.7 193.77,165.85 195.4,166.72 197.54,167.91 199.64,169.13 201.57,170.27 203.25,171.3 205.27,172.57 207.25,173.86 209.21,175.17 211.13,176.51 212.56,177.52 214.43,178.89 216.27,180.28 218.09,181.69 219.43,182.76 221.2,184.21 222.8,185.57 224.22,186.8 225.75,188.17 227.15,189.45 228.38,190.61 229.99,192.17 231.18,193.35 232.35,194.55 233.89,196.17 235.03,197.4 236.14,198.64 237.24,199.9 238.32,201.17 239.4,202.47 240.54,203.89 241.61,205.27 242.61,206.61 243.56,207.91 244.46,209.18 245.34,210.47 246.26,211.86 247.16,213.27 248.04,214.69 248.04,214.69" fill="none" stroke="#e5ddab" stroke-width="0.9" stroke-opacity="0.9"/>
<polyline points="67.64,198.52 67.48,197.44 67.32,196.06 67.21,194.83 67.12,193.69 67.06,192.17 67.04,191.09 67.04,189.96 67.08,188.54 67.16,187.24 67.21,186.68" fill="none" stroke="#e5d9ae" stroke-width="0.9" stroke-opacity="0.9"/>
<polyline points="151.8,148.05 153.35,148.38 155.62,148.9 157.62,149.38 159.3,149.82 161.45,150.4 163.56,151 165.62,151.62 167.59,152.23 169.47,152.85 171.44,153.53 173.5,154.26 175.46,154.99 177.33,155.72 179.18,156.46 181.01,157.21 183.17,158.13 185.17,159.02 186.91,159.82 189.21,160.91 190.9,161.74 193.13,162.87 194.78,163.72 196.95,164.89 198.93,165.99 200.66,166.98 202.74,168.2 204.79,169.45 206.81,170.71 208.79,171.99 210.75,173.3 212.68,174.62 214.59,175.97 216.46,177.33 218.31,178.72 219.68,179.77 221.48,181.19 223.25,182.63 224.56,183.72 226.28,185.2 227.56,186.32 229.24,187.83 230.47,188.98 231.7,190.14 233.31,191.71 234.49,192.9 235.66,194.1 237.2,195.72 238.33,196.95 239.45,198.19 240.55,199.45 241.63,200.72 242.7,202.01 243.84,203.43 244.92,204.81 245.93,206.15 246.89,207.45 247.8,208.73 248.69,210.01 249.62,211.39 250.53,212.8 250.83,213.27" fill="none" stroke="#e5d9ae" stroke-width="0.9" stroke-opacity="0.9"/>
<polyline points="63.71,195.57 63.6,194.3 63.52,193.21 63.44,191.68 63.42,190.58 63.42,189.46 63.44,188.4" fill="none" stroke="#e1cead" stroke-width="0.9" stroke-opacity="0.9"/>
<polyline points="155.27,146.47 157.49,147.01 159.55,147.53 161.14,147.96 163.21,148.54 165.28,149.16 167.31,149.79 169.31,150.44 171.28,151.11 173.22,151.79 175.13,152.49 177.02,153.2 178.88,153.93 180.87,154.74 183.12,155.69 184.9,156.46 186.65,157.25 188.96,158.32 190.67,159.14 192.92,160.25 194.58,161.09 196.76,162.24 198.4,163.12 200.51,164.29 202.62,165.5 204.69,166.72 206.73,167.96 208.24,168.91 210.23,170.18 212.2,171.48 214.13,172.79 215.57,173.79 217.46,175.14 219.32,176.51 221.16,177.9 222.52,178.96 224.31,180.38 226.07,181.82 227.38,182.92 229.1,184.4 230.37,185.52 232.05,187.03 233.29,188.18 234.69,189.51 236.12,190.9 237.31,192.09 238.53,193.34 240.02,194.91 241.16,196.13 242.28,197.37 243.38,198.63 244.47,199.89 245.68,201.34 246.84,202.76 247.93,204.15 248.97,205.5 249.94,206.81 250.87,208.09 251.75,209.34 252.59,210.57 253.48,211.91 253.48,211.91" fill="none" stroke="#e1cead" stroke-width="0.9" stroke-opacity="0.9"/>
<polyline points="60.05,192.82 59.98,191.61 59.95,190.53 59.94,190" fill="none" stroke="#d1b6a5" stroke-width="0.9" stroke-opacity="0.9"/>
<polyline points="158.48,145 160.16,145.45 162.04,145.96 164.13,146.56 166.18,147.18 168.2,147.81 170.18,148.47 172.14,149.13 174.07,149.82 175.97,150.52 177.85,151.23 179.7,151.96 181.63,152.74 183.93,153.71 185.7,154.48 187.46,155.26 189.76,156.33 191.47,157.14 193.72,158.24 195.38,159.08 197.57,160.22 199.19,161.09 201.32,162.26 203.43,163.46 205.51,164.67 207.05,165.59 209.08,166.84 211.08,168.1 213.05,169.39 215,170.69 216.92,172.01 218.48,173.11 220.23,174.37 222.08,175.74 223.91,177.13 225.26,178.19 227.05,179.62 228.81,181.06 230.11,182.16 231.83,183.64 233.1,184.76 234.77,186.27 236.01,187.42 237.26,188.61 238.84,190.14 240.03,191.33 241.21,192.52 242.75,194.14 243.89,195.36 245.02,196.6 246.13,197.85 247.22,199.11 248.38,200.48 249.56,201.92 250.67,203.31 251.73,204.67 252.73,206 253.68,207.29 254.59,208.55 255.45,209.79 256.01,210.62" fill="none" stroke="#d1b6a5" stroke-width="0.9" stroke-opacity="0.9"/>
<polyline points="161.47,143.64 163.56,144.23 165.62,144.84 167.65,145.47 169.64,146.11 171.56,146.75 173.54,147.44 175.45,148.13 177.34,148.83 179.2,149.55 181.04,150.28 182.85,151.02 185.24,152.03 187,152.81 188.75,153.59 191.04,154.65 192.74,155.47 194.98,156.57 196.64,157.41 198.83,158.54 200.45,159.41 202.58,160.58 204.68,161.76 206.76,162.97 208.3,163.89 210.33,165.13 212.34,166.39 214.31,167.66 216.27,168.96 218.2,170.27 220.1,171.6 221.51,172.61 223.37,173.98 225.21,175.36 227.03,176.76 228.37,177.82 230.14,179.25 231.46,180.34 233.19,181.81 234.47,182.92 236.16,184.42 237.41,185.55 239.05,187.09 240.27,188.25 241.51,189.45 243.06,191 244.24,192.2 245.4,193.41 246.67,194.78 248.04,196.29 249.15,197.54 250.25,198.8 251.33,200.08 252.39,201.37 253.44,202.67 254.47,203.98 255.49,205.31 256.49,206.65 257.47,208.01 258.44,209.38 258.44,209.38" fill="none" stroke="#c3a39c" stroke-width="0.9" stroke-opacity="0.9"/>
<polyline points="221.28,169.88 222.72,170.9 224.59,172.25 226.43,173.63 228.26,175.02 229.61,176.07 231.4,177.49 232.82,178.66 234.46,180.02 236.12,181.44 237.46,182.61 238.88,183.87 240.38,185.25 241.62,186.4 243.24,187.95 244.44,189.13 245.63,190.32 247.09,191.81 248.35,193.13 249.49,194.36 250.62,195.59 251.74,196.84 252.97,198.26 254.22,199.73 255.35,201.09 256.4,202.39 257.43,203.71 258.45,205.03 259.46,206.37 260.44,207.73 260.77,208.18" fill="none" stroke="#b69693" stroke-width="0.9" stroke-opacity="0.9"/>
<polyline points="164.29,142.35 166.33,142.96 168.34,143.59 170.33,144.24 172.28,144.9 174.21,145.57 176.11,146.26 177.99,146.96 179.85,147.67 181.68,148.4 184.08,149.38 185.87,150.15 187.64,150.92 189.82,151.9 191.68,152.75 193.38,153.56 195.62,154.66 197.28,155.49 199.46,156.62 201.62,157.76 203.22,158.63 205.33,159.81 207.42,161.01 209.48,162.23 209.85,162.45" fill="none" stroke="#b69693" stroke-width="0.9" stroke-opacity="0.9"/>
<polyline points="240.23,182.2 241.64,183.46 242.88,184.6 244.52,186.14 245.74,187.3 246.96,188.5 248.52,190.06 249.69,191.26 250.85,192.48 252.05,193.76 253.51,195.35 254.62,196.6 255.72,197.86 256.81,199.13 257.88,200.42 258.94,201.72 259.98,203.03 261.01,204.35 262.02,205.69 263.01,207.03 263.01,207.03" fill="none" stroke="#a98989" stroke-width="0.9" stroke-opacity="0.9"/>
<polyline points="166.95,141.14 168.95,141.76 170.93,142.41 172.87,143.07 174.8,143.74 176.69,144.43 178.57,145.13 180.69,145.95 182.85,146.81 184.65,147.55 186.43,148.3 188.57,149.23 190.51,150.1 191.68,150.64" fill="none" stroke="#a98989" stroke-width="0.9" stroke-opacity="0.9"/>
<polyline points="250.21,188.69 251.74,190.24 252.91,191.45 254.06,192.66 255.2,193.89 256.58,195.41 257.81,196.8 258.91,198.07 259.99,199.35 261.06,200.64 262.11,201.94 263.15,203.26 264.17,204.58 265.18,205.92 265.18,205.92" fill="none" stroke="#a28282" stroke-width="0.9" stroke-opacity="0.9"/>
<polyline points="169.49,139.98 171.45,140.62 173.39,141.28 175.31,141.95 177.2,142.63 179.07,143.33 180.92,144.04 182.48,144.66" fill="none" stroke="#a28282" stroke-width="0.9" stroke-opacity="0.9"/>
<polyline points="258.03,193.77 259.44,195.34 260.57,196.62 261.67,197.89 262.75,199.17 263.82,200.46 264.88,201.76 265.92,203.08 266.94,204.4 267.28,204.85" fill="none" stroke="#9b7b7b" stroke-width="0.9" stroke-opacity="0.9"/>
<polyline points="171.91,138.87 173.85,139.53 175.45,140.09" fill="none" stroke="#9b7b7b" stroke-width="0.9" stroke-opacity="0.9"/>
<polyline points="264.71,198.11 265.82,199.44 266.89,200.74 267.94,202.05 268.98,203.37 269.32,203.81" fill="none" stroke="#947474" stroke-width="0.9" stroke-opacity="0.9"/>
<polyline points="270.65,201.98 271.3,202.8" fill="none" stroke="#8e6e6e" stroke-width="0.9" stroke-opacity="0.9"/>
<line x1="57.67" y1="191.04" x2="51.99" y2="60.74" stroke="#505050" stroke-width="1"/>
<line x1="56.79" y1="170.65" x2="54.64" y2="171.61" stroke="#505050" stroke-width="0.9"/>
<line x1="55.86" y1="149.48" x2="53.69" y2="150.43" stroke="#505050" stroke-width="0.9"/>
<line x1="54.92" y1="127.91" x2="52.73" y2="128.84" stroke="#505050" stroke-width="0.9"/>
<line x1="53.96" y1="105.94" x2="51.75" y2="106.86" stroke="#505050" stroke-width="0.9"/>
<line x1="52.99" y1="83.55" x2="50.75" y2="84.46" stroke="#505050" stroke-width="0.9"/>
<line x1="51.99" y1="60.74" x2="49.74" y2="61.63" stroke="#505050" stroke-width="0.9"/>
<polygon points="157.82,82.44 161.91,76.05 157.16,70.05 153.08,76.35" fill="#ff8500" stroke="#101010" stroke-opacity="0.6" stroke-width="0.75" stroke-linejoin="round"/>
<polygon points="161.91,76.05 166.01,69.25 161.25,63.34 157.16,70.05" fill="#fb2800" stroke="#101010" stroke-opacity="0.6" stroke-width="0.75" stroke-linejoin="round"/>
<polygon points="153.72,88.41 157.82,82.44 153.08,76.35 148.99,82.24" fill="#ffc700" stroke="#101010" stroke-opacity="0.6" stroke-width="0.75" stroke-linejoin="round"/>
<polygon points="166.01,69.25 170.11,62.02 165.34,56.2 161.25,63.34" fill="#d40000" stroke="#101010" stroke-opacity="0.6" stroke-width="0.75" stroke-linejoin="round"/>
<polygon points="149.62,93.98 153.72,88.41 148.99,82.24 144.9,87.73" fill="#fcff00" stroke="#101010" stroke-opacity="0.6" stroke-width="0.75" stroke-linejoin="round"/>
<polygon points="170.11,62.02 174.21,54.38 169.43,48.65 165.34,56.2" fill="#b00000" stroke="#101010" stroke-opacity="0.6" stroke-width="0.75" stroke-linejoin="round"/>
<polygon points="145.52,99.14 149.62,93.98 144.9,87.73 140.8,92.8" fill="#c1ff00" stroke="#101010" stroke-opacity="0.6" stroke-width="0.75" stroke-linejoin="round"/>
<polygon points="174.21,54.38 178.33,46.31 173.53,40.66 169.43,48.65" fill="#940000" stroke="#101010" stroke-opacity="0.6" stroke-width="0.75" stroke-linejoin="round"/>
<polygon points="141.41,103.9 145.52,99.14 140.8,92.8 136.69,97.47" fill="#8fff00" stroke="#101010" stroke-opacity="0.6" stroke-width="0.75" stroke-linejoin="round"/>
<polygon points="162.58,88.22 166.68,81.74 161.91,76.05 157.82,82.44" fill="#ffb100" stroke="#101010" stroke-opacity="0.6" stroke-width="0.75" stroke-linejoin="round"/>
<polygon points="137.29,108.26 141.41,103.9 136.69,97.47 132.57,101.74" fill="#62ff00" stroke="#101010" stroke-opacity="0.6" stroke-width="0.75" stroke-linejoin="round"/>
<polygon points="158.47,94.28 162.58,88.22 157.82,82.44 153.72,88.41" fill="#fff400" stroke="#101010" stroke-opacity="0.6" stroke-width="0.75" stroke-linejoin="round"/>
<polygon points="166.68,81.74 170.79,74.85 166.01,69.25 161.91,76.05" fill="#ff5f00" stroke="#101010" stroke-opacity="0.6" stroke-width="0.75" stroke-linejoin="round"/>
<polygon points="154.37,99.94 158.47,94.28 153.72,88.41 149.62,93.98" fill="#c9ff00" stroke="#101010" stroke-opacity="0.6" stroke-width="0.75" stroke-linejoin="round"/>
<polygon points="170.79,74.85 174.9,67.54 170.11,62.02 166.01,69.25" fill="#ec0800" stroke="#101010" stroke-opacity="0.6" stroke-width="0.75" stroke-linejoin="round"/>
<polygon points="150.25,105.19 154.37,99.94 149.62,93.98 145.52,99.14" fill="#8eff00" stroke="#101010" stroke-opacity="0.6" stroke-width="0.75" stroke-linejoin="round"/>
<polygon points="174.9,67.54 179.02,59.81 174.21,54.38 170.11,62.02" fill="#c10000" stroke="#101010" stroke-opacity="0.6" stroke-width="0.75" stroke-linejoin="round"/>
<polygon points="133.15,112.21 137.29,108.26 132.57,101.74 128.45,105.61" fill="#4fff11" stroke="#101010" stroke-opacity="0.6" stroke-width="0.75" stroke-linejoin="round"/>
<polygon points="146.14,110.03 150.25,105.19 145.52,99.14 141.41,103.9" fill="#5dff03" stroke="#101010" stroke-opacity="0.6" stroke-width="0.75" stroke-linejoin="round"/>
<polygon points="179.02,59.81 183.15,51.65 178.33,46.31 174.21,54.38" fill="#9f0000" stroke="#101010" stroke-opacity="0.6" stroke-width="0.75" stroke-linejoin="round"/>
<polygon points="142.01,114.47 146.14,110.03 141.41,103.9 137.29,108.26" fill="#47ff19" stroke="#101010" stroke-opacity="0.6" stroke-width="0.75" stroke-linejoin="round"/>
<polygon points="129.01,115.77 133.15,112.21 128.45,105.61 124.3,109.08" fill="#40ff20" stroke="#101010" stroke-opacity="0.6" stroke-width="0.75" stroke-linejoin="round"/>
<polygon points="167.36,93.69 171.48,87.13 166.68,81.74 162.58,88.22" fill="#ffd900" stroke="#101010" stroke-opacity="0.6" stroke-width="0.75" stroke-linejoin="round"/>
<polygon points="163.25,99.85 167.36,93.69 162.58,88.22 158.47,94.28" fill="#dfff00" stroke="#101010" stroke-opacity="0.6" stroke-width="0.75" stroke-linejoin="round"/>
<polygon points="171.48,87.13 175.6,80.15 170.79,74.85 166.68,81.74" fill="#ff8f00" stroke="#101010" stroke-opacity="0.6" stroke-width="0.75" stroke-linejoin="round"/>
<polygon points="159.13,105.59 163.25,99.85 158.47,94.28 154.37,99.94" fill="#9cff00" stroke="#101010" stroke-opacity="0.6" stroke-width="0.75" stroke-linejoin="round"/>
<polygon points="175.6,80.15 179.72,72.75 174.9,67.54 170.79,74.85" fill="#fc2900" stroke="#101010" stroke-opacity="0.6" stroke-width="0.75" stroke-linejoin="round"/>
<polygon points="155.01,110.93 159.13,105.59 154.37,99.94 150.25,105.19" fill="#60ff00" stroke="#101010" stroke-opacity="0.6" stroke-width="0.75" stroke-linejoin="round"/>
<polygon points="137.88,118.52 142.01,114.47 137.29,108.26 133.15,112.21" fill="#37f620" stroke="#101010" stroke-opacity="0.6" stroke-width="0.75" stroke-linejoin="round"/>
<polygon points="179.72,72.75 183.85,64.92 179.02,59.81 174.9,67.54" fill="#d00000" stroke="#101010" stroke-opacity="0.6" stroke-width="0.75" stroke-linejoin="round"/>
<polygon points="124.85,118.92 129.01,115.77 124.3,109.08 120.14,112.14" fill="#37f620" stroke="#101010" stroke-opacity="0.6" stroke-width="0.75" stroke-linejoin="round"/>
<polygon points="150.89,115.86 155.01,110.93 150.25,105.19 146.14,110.03" fill="#46ff1a" stroke="#101010" stroke-opacity="0.6" stroke-width="0.75" stroke-linejoin="round"/>
<polygon points="183.85,64.92 188,56.67 183.15,51.65 179.02,59.81" fill="#aa0000" stroke="#101010" stroke-opacity="0.6" stroke-width="0.75" stroke-linejoin="round"/>
<polygon points="133.73,122.16 137.88,118.52 133.15,112.21 129.01,115.77" fill="#2bea20" stroke="#101010" stroke-opacity="0.6" stroke-width="0.75" stroke-linejoin="round"/>
<polygon points="146.76,120.39 150.89,115.86 146.14,110.03 142.01,114.47" fill="#33f320" stroke="#101010" stroke-opacity="0.6" stroke-width="0.75" stroke-linejoin="round"/>
<polygon points="172.17,98.86 176.3,92.21 171.48,87.13 167.36,93.69" fill="#fffb00" stroke="#101010" stroke-opacity="0.6" stroke-width="0.75" stroke-linejoin="round"/>
<polygon points="168.05,105.11 172.17,98.86 167.36,93.69 163.25,99.85" fill="#b8ff00" stroke="#101010" stroke-opacity="0.6" stroke-width="0.75" stroke-linejoin="round"/>
<polygon points="120.67,121.68 124.85,118.92 120.14,112.14 115.96,114.81" fill="#30f020" stroke="#101010" stroke-opacity="0.6" stroke-width="0.75" stroke-linejoin="round"/>
<polygon points="176.3,92.21 180.43,85.14 175.6,80.15 171.48,87.13" fill="#ffb000" stroke="#101010" stroke-opacity="0.6" stroke-width="0.75" stroke-linejoin="round"/>
<polygon points="163.92,110.94 168.05,105.11 163.25,99.85 159.13,105.59" fill="#75ff00" stroke="#101010" stroke-opacity="0.6" stroke-width="0.75" stroke-linejoin="round"/>
<polygon points="142.62,124.52 146.76,120.39 142.01,114.47 137.88,118.52" fill="#24e420" stroke="#101010" stroke-opacity="0.6" stroke-width="0.75" stroke-linejoin="round"/>
<polygon points="180.43,85.14 184.57,77.65 179.72,72.75 175.6,80.15" fill="#ff5200" stroke="#101010" stroke-opacity="0.6" stroke-width="0.75" stroke-linejoin="round"/>
<polygon points="129.57,125.4 133.73,122.16 129.01,115.77 124.85,118.92" fill="#21e120" stroke="#101010" stroke-opacity="0.6" stroke-width="0.75" stroke-linejoin="round"/>
<polygon points="159.8,116.36 163.92,110.94 159.13,105.59 155.01,110.93" fill="#4cff14" stroke="#101010" stroke-opacity="0.6" stroke-width="0.75" stroke-linejoin="round"/>
<polygon points="184.57,77.65 188.72,69.73 183.85,64.92 179.72,72.75" fill="#e30000" stroke="#101010" stroke-opacity="0.6" stroke-width="0.75" stroke-linejoin="round"/>
<polygon points="155.67,121.38 159.8,116.36 155.01,110.93 150.89,115.86" fill="#35f420" stroke="#101010" stroke-opacity="0.6" stroke-width="0.75" stroke-linejoin="round"/>
<polygon points="138.47,128.25 142.62,124.52 137.88,118.52 133.73,122.16" fill="#20db20" stroke="#101010" stroke-opacity="0.6" stroke-width="0.75" stroke-linejoin="round"/>
<polygon points="188.72,69.73 192.87,61.39 188,56.67 183.85,64.92" fill="#b60000" stroke="#101010" stroke-opacity="0.6" stroke-width="0.75" stroke-linejoin="round"/>
<polygon points="116.47,124.03 120.67,121.68 115.96,114.81 111.76,117.07" fill="#2cec20" stroke="#101010" stroke-opacity="0.6" stroke-width="0.75" stroke-linejoin="round"/>
<polygon points="151.53,126 155.67,121.38 150.89,115.86 146.76,120.39" fill="#23e320" stroke="#101010" stroke-opacity="0.6" stroke-width="0.75" stroke-linejoin="round"/>
<polygon points="125.39,128.24 129.57,125.4 124.85,118.92 120.67,121.68" fill="#20dc20" stroke="#101010" stroke-opacity="0.6" stroke-width="0.75" stroke-linejoin="round"/>
<polygon points="172.87,110.06 177.01,103.73 172.17,98.86 168.05,105.11" fill="#97ff00" stroke="#101010" stroke-opacity="0.6" stroke-width="0.75" stroke-linejoin="round"/>
<polygon points="177.01,103.73 181.15,96.99 176.3,92.21 172.17,98.86" fill="#e3ff00" stroke="#101010" stroke-opacity="0.6" stroke-width="0.75" stroke-linejoin="round"/>
<polygon points="134.31,131.58 138.47,128.25 133.73,122.16 129.57,125.4" fill="#20d520" stroke="#101010" stroke-opacity="0.6" stroke-width="0.75" stroke-linejoin="round"/>
<polygon points="147.39,130.22 151.53,126 146.76,120.39 142.62,124.52" fill="#20d820" stroke="#101010" stroke-opacity="0.6" stroke-width="0.75" stroke-linejoin="round"/>
<polygon points="168.74,115.98 172.87,110.06 168.05,105.11 163.92,110.94" fill="#59ff07" stroke="#101010" stroke-opacity="0.6" stroke-width="0.75" stroke-linejoin="round"/>
<polygon points="181.15,96.99 185.29,89.82 180.43,85.14 176.3,92.21" fill="#ffcd00" stroke="#101010" stroke-opacity="0.6" stroke-width="0.75" stroke-linejoin="round"/>
<polygon points="164.6,121.5 168.74,115.98 163.92,110.94 159.8,116.36" fill="#3cfb20" stroke="#101010" stroke-opacity="0.6" stroke-width="0.75" stroke-linejoin="round"/>
<polygon points="185.29,89.82 189.45,82.24 184.57,77.65 180.43,85.14" fill="#ff7800" stroke="#101010" stroke-opacity="0.6" stroke-width="0.75" stroke-linejoin="round"/>
<polygon points="112.25,125.98 116.47,124.03 111.76,117.07 107.54,118.94" fill="#2aea20" stroke="#101010" stroke-opacity="0.6" stroke-width="0.75" stroke-linejoin="round"/>
<polygon points="121.19,130.68 125.39,128.24 120.67,121.68 116.47,124.03" fill="#20da20" stroke="#101010" stroke-opacity="0.6" stroke-width="0.75" stroke-linejoin="round"/>
<polygon points="160.46,126.61 164.6,121.5 159.8,116.36 155.67,121.38" fill="#27e720" stroke="#101010" stroke-opacity="0.6" stroke-width="0.75" stroke-linejoin="round"/>
<polygon points="189.45,82.24 193.61,74.23 188.72,69.73 184.57,77.65" fill="#ef0f00" stroke="#101010" stroke-opacity="0.6" stroke-width="0.75" stroke-linejoin="round"/>
<polygon points="143.23,134.04 147.39,130.22 142.62,124.52 138.47,128.25" fill="#20d020" stroke="#101010" stroke-opacity="0.6" stroke-width="0.75" stroke-linejoin="round"/>
<polygon points="130.13,134.51 134.31,131.58 129.57,125.4 125.39,128.24" fill="#20d020" stroke="#101010" stroke-opacity="0.6" stroke-width="0.75" stroke-linejoin="round"/>
<polygon points="156.32,131.32 160.46,126.61 155.67,121.38 151.53,126" fill="#20d920" stroke="#101010" stroke-opacity="0.6" stroke-width="0.75" stroke-linejoin="round"/>
<polygon points="193.61,74.23 197.79,65.79 192.87,61.39 188.72,69.73" fill="#c00000" stroke="#101010" stroke-opacity="0.6" stroke-width="0.75" stroke-linejoin="round"/>
<polygon points="139.06,137.45 143.23,134.04 138.47,128.25 134.31,131.58" fill="#20ca20" stroke="#101010" stroke-opacity="0.6" stroke-width="0.75" stroke-linejoin="round"/>
<polygon points="152.17,135.62 156.32,131.32 151.53,126 147.39,130.22" fill="#20cf20" stroke="#101010" stroke-opacity="0.6" stroke-width="0.75" stroke-linejoin="round"/>
<polygon points="177.73,114.72 181.88,108.29 177.01,103.73 172.87,110.06" fill="#7cff00" stroke="#101010" stroke-opacity="0.6" stroke-width="0.75" stroke-linejoin="round"/>
<polygon points="116.97,132.73 121.19,130.68 116.47,124.03 112.25,125.98" fill="#20d820" stroke="#101010" stroke-opacity="0.6" stroke-width="0.75" stroke-linejoin="round"/>
<polygon points="181.88,108.29 186.03,101.46 181.15,96.99 177.01,103.73" fill="#c8ff00" stroke="#101010" stroke-opacity="0.6" stroke-width="0.75" stroke-linejoin="round"/>
<polygon points="108,127.53 112.25,125.98 107.54,118.94 103.29,120.4" fill="#2beb20" stroke="#101010" stroke-opacity="0.6" stroke-width="0.75" stroke-linejoin="round"/>
<polygon points="173.58,120.73 177.73,114.72 172.87,110.06 168.74,115.98" fill="#4bff15" stroke="#101010" stroke-opacity="0.6" stroke-width="0.75" stroke-linejoin="round"/>
<polygon points="186.03,101.46 190.19,94.2 185.29,89.82 181.15,96.99" fill="#ffe400" stroke="#101010" stroke-opacity="0.6" stroke-width="0.75" stroke-linejoin="round"/>
<polygon points="125.93,137.04 130.13,134.51 125.39,128.24 121.19,130.68" fill="#20cd20" stroke="#101010" stroke-opacity="0.6" stroke-width="0.75" stroke-linejoin="round"/>
<polygon points="169.44,126.33 173.58,120.73 168.74,115.98 164.6,121.5" fill="#31f020" stroke="#101010" stroke-opacity="0.6" stroke-width="0.75" stroke-linejoin="round"/>
<polygon points="190.19,94.2 194.36,86.52 189.45,82.24 185.29,89.82" fill="#ff9100" stroke="#101010" stroke-opacity="0.6" stroke-width="0.75" stroke-linejoin="round"/>
<polygon points="148.01,139.53 152.17,135.62 147.39,130.22 143.23,134.04" fill="#20c720" stroke="#101010" stroke-opacity="0.6" stroke-width="0.75" stroke-linejoin="round"/>
<polygon points="165.29,131.53 169.44,126.33 164.6,121.5 160.46,126.61" fill="#20dd20" stroke="#101010" stroke-opacity="0.6" stroke-width="0.75" stroke-linejoin="round"/>
<polygon points="134.88,140.47 139.06,137.45 134.31,131.58 130.13,134.51" fill="#1fc520" stroke="#101010" stroke-opacity="0.6" stroke-width="0.75" stroke-linejoin="round"/>
<polygon points="194.36,86.52 198.54,78.42 193.61,74.23 189.45,82.24" fill="#f82200" stroke="#101010" stroke-opacity="0.6" stroke-width="0.75" stroke-linejoin="round"/>
<polygon points="161.14,136.33 165.29,131.53 160.46,126.61 156.32,131.32" fill="#20d220" stroke="#101010" stroke-opacity="0.6" stroke-width="0.75" stroke-linejoin="round"/>
<polygon points="198.54,78.42 202.73,69.88 197.79,65.79 193.61,74.23" fill="#c80000" stroke="#101010" stroke-opacity="0.6" stroke-width="0.75" stroke-linejoin="round"/>
<polygon points="143.84,143.03 148.01,139.53 143.23,134.04 139.06,137.45" fill="#1fc020" stroke="#101010" stroke-opacity="0.6" stroke-width="0.75" stroke-linejoin="round"/>
<polygon points="112.73,134.36 116.97,132.73 112.25,125.98 108,127.53" fill="#20d920" stroke="#101010" stroke-opacity="0.6" stroke-width="0.75" stroke-linejoin="round"/>
<polygon points="121.71,139.17 125.93,137.04 121.19,130.68 116.97,132.73" fill="#20cb20" stroke="#101010" stroke-opacity="0.6" stroke-width="0.75" stroke-linejoin="round"/>
<polygon points="103.73,128.68 108,127.53 103.29,120.4 99.01,121.45" fill="#2eee20" stroke="#101010" stroke-opacity="0.6" stroke-width="0.75" stroke-linejoin="round"/>
<polygon points="156.98,140.72 161.14,136.33 156.32,131.32 152.17,135.62" fill="#20c820" stroke="#101010" stroke-opacity="0.6" stroke-width="0.75" stroke-linejoin="round"/>
<polygon points="130.68,143.09 134.88,140.47 130.13,134.51 125.93,137.04" fill="#1fc220" stroke="#101010" stroke-opacity="0.6" stroke-width="0.75" stroke-linejoin="round"/>
<polygon points="182.61,119.06 186.78,112.55 181.88,108.29 177.73,114.72" fill="#65ff00" stroke="#101010" stroke-opacity="0.6" stroke-width="0.75" stroke-linejoin="round"/>
<polygon points="186.78,112.55 190.94,105.62 186.03,101.46 181.88,108.29" fill="#b3ff00" stroke="#101010" stroke-opacity="0.6" stroke-width="0.75" stroke-linejoin="round"/>
<polygon points="178.46,125.17 182.61,119.06 177.73,114.72 173.58,120.73" fill="#40ff20" stroke="#101010" stroke-opacity="0.6" stroke-width="0.75" stroke-linejoin="round"/>
<polygon points="190.94,105.62 195.12,98.27 190.19,94.2 186.03,101.46" fill="#fff600" stroke="#101010" stroke-opacity="0.6" stroke-width="0.75" stroke-linejoin="round"/>
<polygon points="174.3,130.86 178.46,125.17 173.58,120.73 169.44,126.33" fill="#28e820" stroke="#101010" stroke-opacity="0.6" stroke-width="0.75" stroke-linejoin="round"/>
<polygon points="139.66,146.14 143.84,143.03 139.06,137.45 134.88,140.47" fill="#1ebb20" stroke="#101010" stroke-opacity="0.6" stroke-width="0.75" stroke-linejoin="round"/>
<polygon points="152.82,144.71 156.98,140.72 152.17,135.62 148.01,139.53" fill="#1fbf20" stroke="#101010" stroke-opacity="0.6" stroke-width="0.75" stroke-linejoin="round"/>
<polygon points="195.12,98.27 199.3,90.5 194.36,86.52 190.19,94.2" fill="#ffa200" stroke="#101010" stroke-opacity="0.6" stroke-width="0.75" stroke-linejoin="round"/>
<polygon points="170.14,136.15 174.3,130.86 169.44,126.33 165.29,131.53" fill="#20d720" stroke="#101010" stroke-opacity="0.6" stroke-width="0.75" stroke-linejoin="round"/>
<polygon points="117.47,140.9 121.71,139.17 116.97,132.73 112.73,134.36" fill="#20cb20" stroke="#101010" stroke-opacity="0.6" stroke-width="0.75" stroke-linejoin="round"/>
<polygon points="108.46,135.6 112.73,134.36 108,127.53 103.73,128.68" fill="#20da20" stroke="#101010" stroke-opacity="0.6" stroke-width="0.75" stroke-linejoin="round"/>
<polygon points="199.3,90.5 203.5,82.29 198.54,78.42 194.36,86.52" fill="#ff3100" stroke="#101010" stroke-opacity="0.6" stroke-width="0.75" stroke-linejoin="round"/>
<polygon points="126.46,145.31 130.68,143.09 125.93,137.04 121.71,139.17" fill="#1fc020" stroke="#101010" stroke-opacity="0.6" stroke-width="0.75" stroke-linejoin="round"/>
<polygon points="165.98,141.04 170.14,136.15 165.29,131.53 161.14,136.33" fill="#20cb20" stroke="#101010" stroke-opacity="0.6" stroke-width="0.75" stroke-linejoin="round"/>
<polygon points="148.64,148.31 152.82,144.71 148.01,139.53 143.84,143.03" fill="#1db820" stroke="#101010" stroke-opacity="0.6" stroke-width="0.75" stroke-linejoin="round"/>
<polygon points="99.42,129.42 103.73,128.68 99.01,121.45 94.7,122.1" fill="#34f420" stroke="#101010" stroke-opacity="0.6" stroke-width="0.75" stroke-linejoin="round"/>
<polygon points="135.45,148.84 139.66,146.14 134.88,140.47 130.68,143.09" fill="#1db720" stroke="#101010" stroke-opacity="0.6" stroke-width="0.75" stroke-linejoin="round"/>
<polygon points="203.5,82.29 207.71,73.66 202.73,69.88 198.54,78.42" fill="#cf0000" stroke="#101010" stroke-opacity="0.6" stroke-width="0.75" stroke-linejoin="round"/>
<polygon points="161.82,145.52 165.98,141.04 161.14,136.33 156.98,140.72" fill="#1fc120" stroke="#101010" stroke-opacity="0.6" stroke-width="0.75" stroke-linejoin="round"/>
<polygon points="144.45,151.5 148.64,148.31 143.84,143.03 139.66,146.14" fill="#1cb220" stroke="#101010" stroke-opacity="0.6" stroke-width="0.75" stroke-linejoin="round"/>
<polygon points="187.53,123.11 191.71,116.5 186.78,112.55 182.61,119.06" fill="#5aff06" stroke="#101010" stroke-opacity="0.6" stroke-width="0.75" stroke-linejoin="round"/>
<polygon points="183.36,129.31 187.53,123.11 182.61,119.06 178.46,125.17" fill="#39f820" stroke="#101010" stroke-opacity="0.6" stroke-width="0.75" stroke-linejoin="round"/>
<polygon points="191.71,116.5 195.89,109.47 190.94,105.62 186.78,112.55" fill="#a3ff00" stroke="#101010" stroke-opacity="0.6" stroke-width="0.75" stroke-linejoin="round"/>
<polygon points="157.65,149.6 161.82,145.52 156.98,140.72 152.82,144.71" fill="#1db820" stroke="#101010" stroke-opacity="0.6" stroke-width="0.75" stroke-linejoin="round"/>
<polygon points="113.2,142.22 117.47,140.9 112.73,134.36 108.46,135.6" fill="#20cd20" stroke="#101010" stroke-opacity="0.6" stroke-width="0.75" stroke-linejoin="round"/>
<polygon points="122.22,147.13 126.46,145.31 121.71,139.17 117.47,140.9" fill="#1fbf20" stroke="#101010" stroke-opacity="0.6" stroke-width="0.75" stroke-linejoin="round"/>
<polygon points="179.2,135.09 183.36,129.31 178.46,125.17 174.3,130.86" fill="#21e120" stroke="#101010" stroke-opacity="0.6" stroke-width="0.75" stroke-linejoin="round"/>
<polygon points="195.89,109.47 200.08,102.03 195.12,98.27 190.94,105.62" fill="#faff00" stroke="#101010" stroke-opacity="0.6" stroke-width="0.75" stroke-linejoin="round"/>
<polygon points="104.16,136.43 108.46,135.6 103.73,128.68 99.42,129.42" fill="#20de20" stroke="#101010" stroke-opacity="0.6" stroke-width="0.75" stroke-linejoin="round"/>
<polygon points="131.23,151.15 135.45,148.84 130.68,143.09 126.46,145.31" fill="#1db520" stroke="#101010" stroke-opacity="0.6" stroke-width="0.75" stroke-linejoin="round"/>
<polygon points="175.03,140.47 179.2,135.09 174.3,130.86 170.14,136.15" fill="#20d320" stroke="#101010" stroke-opacity="0.6" stroke-width="0.75" stroke-linejoin="round"/>
<polygon points="200.08,102.03 204.29,94.16 199.3,90.5 195.12,98.27" fill="#ffaf00" stroke="#101010" stroke-opacity="0.6" stroke-width="0.75" stroke-linejoin="round"/>
<polygon points="95.09,129.75 99.42,129.42 94.7,122.1 90.36,122.33" fill="#3cfc20" stroke="#101010" stroke-opacity="0.6" stroke-width="0.75" stroke-linejoin="round"/>
<polygon points="153.46,153.29 157.65,149.6 152.82,144.71 148.64,148.31" fill="#1cb120" stroke="#101010" stroke-opacity="0.6" stroke-width="0.75" stroke-linejoin="round"/>
<polygon points="170.86,145.45 175.03,140.47 170.14,136.15 165.98,141.04" fill="#20c620" stroke="#101010" stroke-opacity="0.6" stroke-width="0.75" stroke-linejoin="round"/>
<polygon points="140.25,154.3 144.45,151.5 139.66,146.14 135.45,148.84" fill="#1bae21" stroke="#101010" stroke-opacity="0.6" stroke-width="0.75" stroke-linejoin="round"/>
<polygon points="204.29,94.16 208.5,85.86 203.5,82.29 199.3,90.5" fill="#ff4100" stroke="#101010" stroke-opacity="0.6" stroke-width="0.75" stroke-linejoin="round"/>
<polygon points="166.68,150.02 170.86,145.45 165.98,141.04 161.82,145.52" fill="#1ebc20" stroke="#101010" stroke-opacity="0.6" stroke-width="0.75" stroke-linejoin="round"/>
<polygon points="208.5,85.86 212.74,77.12 207.71,73.66 203.5,82.29" fill="#d50000" stroke="#101010" stroke-opacity="0.6" stroke-width="0.75" stroke-linejoin="round"/>
<polygon points="117.96,148.54 122.22,147.13 117.47,140.9 113.2,142.22" fill="#1fc120" stroke="#101010" stroke-opacity="0.6" stroke-width="0.75" stroke-linejoin="round"/>
<polygon points="108.91,143.14 113.2,142.22 108.46,135.6 104.16,136.43" fill="#20d020" stroke="#101010" stroke-opacity="0.6" stroke-width="0.75" stroke-linejoin="round"/>
<polygon points="126.99,153.05 131.23,151.15 126.46,145.31 122.22,147.13" fill="#1db520" stroke="#101010" stroke-opacity="0.6" stroke-width="0.75" stroke-linejoin="round"/>
<polygon points="149.27,156.57 153.46,153.29 148.64,148.31 144.45,151.5" fill="#19ab24" stroke="#101010" stroke-opacity="0.6" stroke-width="0.75" stroke-linejoin="round"/>
<polygon points="99.83,136.85 104.16,136.43 99.42,129.42 95.09,129.75" fill="#24e420" stroke="#101010" stroke-opacity="0.6" stroke-width="0.75" stroke-linejoin="round"/>
<polygon points="162.5,154.19 166.68,150.02 161.82,145.52 157.65,149.6" fill="#1cb320" stroke="#101010" stroke-opacity="0.6" stroke-width="0.75" stroke-linejoin="round"/>
<polygon points="136.03,156.69 140.25,154.3 135.45,148.84 131.23,151.15" fill="#1aac23" stroke="#101010" stroke-opacity="0.6" stroke-width="0.75" stroke-linejoin="round"/>
<polygon points="192.49,126.85 196.68,120.14 191.71,116.5 187.53,123.11" fill="#55ff0b" stroke="#101010" stroke-opacity="0.6" stroke-width="0.75" stroke-linejoin="round"/>
<polygon points="188.31,133.14 192.49,126.85 187.53,123.11 183.36,129.31" fill="#34f420" stroke="#101010" stroke-opacity="0.6" stroke-width="0.75" stroke-linejoin="round"/>
<polygon points="196.68,120.14 200.88,113.02 195.89,109.47 191.71,116.5" fill="#99ff00" stroke="#101010" stroke-opacity="0.6" stroke-width="0.75" stroke-linejoin="round"/>
<polygon points="184.12,139.02 188.31,133.14 183.36,129.31 179.2,135.09" fill="#20dd20" stroke="#101010" stroke-opacity="0.6" stroke-width="0.75" stroke-linejoin="round"/>
<polygon points="200.88,113.02 205.09,105.48 200.08,102.03 195.89,109.47" fill="#f1ff00" stroke="#101010" stroke-opacity="0.6" stroke-width="0.75" stroke-linejoin="round"/>
<polygon points="179.95,144.49 184.12,139.02 179.2,135.09 175.03,140.47" fill="#20cf20" stroke="#101010" stroke-opacity="0.6" stroke-width="0.75" stroke-linejoin="round"/>
<polygon points="90.72,129.66 95.09,129.75 90.36,122.33 85.98,122.16" fill="#49ff17" stroke="#101010" stroke-opacity="0.6" stroke-width="0.75" stroke-linejoin="round"/>
<polygon points="145.06,159.45 149.27,156.57 144.45,151.5 140.25,154.3" fill="#17a627" stroke="#101010" stroke-opacity="0.6" stroke-width="0.75" stroke-linejoin="round"/>
<polygon points="158.32,157.96 162.5,154.19 157.65,149.6 153.46,153.29" fill="#19ab24" stroke="#101010" stroke-opacity="0.6" stroke-width="0.75" stroke-linejoin="round"/>
<polygon points="205.09,105.48 209.31,97.51 204.29,94.16 200.08,102.03" fill="#ffb600" stroke="#101010" stroke-opacity="0.6" stroke-width="0.75" stroke-linejoin="round"/>
<polygon points="175.76,149.55 179.95,144.49 175.03,140.47 170.86,145.45" fill="#1fc320" stroke="#101010" stroke-opacity="0.6" stroke-width="0.75" stroke-linejoin="round"/>
<polygon points="113.67,149.55 117.96,148.54 113.2,142.22 108.91,143.14" fill="#1fc420" stroke="#101010" stroke-opacity="0.6" stroke-width="0.75" stroke-linejoin="round"/>
<polygon points="122.73,154.56 126.99,153.05 122.22,147.13 117.96,148.54" fill="#1db620" stroke="#101010" stroke-opacity="0.6" stroke-width="0.75" stroke-linejoin="round"/>
<polygon points="209.31,97.51 213.55,89.11 208.5,85.86 204.29,94.16" fill="#ff4a00" stroke="#101010" stroke-opacity="0.6" stroke-width="0.75" stroke-linejoin="round"/>
<polygon points="104.58,143.65 108.91,143.14 104.16,136.43 99.83,136.85" fill="#20d520" stroke="#101010" stroke-opacity="0.6" stroke-width="0.75" stroke-linejoin="round"/>
<polygon points="131.79,158.68 136.03,156.69 131.23,151.15 126.99,153.05" fill="#19ab24" stroke="#101010" stroke-opacity="0.6" stroke-width="0.75" stroke-linejoin="round"/>
<polygon points="171.58,154.22 175.76,149.55 170.86,145.45 166.68,150.02" fill="#1db820" stroke="#101010" stroke-opacity="0.6" stroke-width="0.75" stroke-linejoin="round"/>
<polygon points="154.12,161.33 158.32,157.96 153.46,153.29 149.27,156.57" fill="#15a429" stroke="#101010" stroke-opacity="0.6" stroke-width="0.75" stroke-linejoin="round"/>
<polygon points="213.55,89.11 217.8,80.27 212.74,77.12 208.5,85.86" fill="#d90000" stroke="#101010" stroke-opacity="0.6" stroke-width="0.75" stroke-linejoin="round"/>
<polygon points="95.47,136.86 99.83,136.85 95.09,129.75 90.72,129.66" fill="#2eee20" stroke="#101010" stroke-opacity="0.6" stroke-width="0.75" stroke-linejoin="round"/>
<polygon points="140.84,161.93 145.06,159.45 140.25,154.3 136.03,156.69" fill="#15a329" stroke="#101010" stroke-opacity="0.6" stroke-width="0.75" stroke-linejoin="round"/>
<polygon points="167.39,158.48 171.58,154.22 166.68,150.02 162.5,154.19" fill="#1bae21" stroke="#101010" stroke-opacity="0.6" stroke-width="0.75" stroke-linejoin="round"/>
<polygon points="197.49,130.27 201.69,123.47 196.68,120.14 192.49,126.85" fill="#52ff0e" stroke="#101010" stroke-opacity="0.6" stroke-width="0.75" stroke-linejoin="round"/>
<polygon points="193.29,136.66 197.49,130.27 192.49,126.85 188.31,133.14" fill="#31f120" stroke="#101010" stroke-opacity="0.6" stroke-width="0.75" stroke-linejoin="round"/>
<polygon points="201.69,123.47 205.91,116.25 200.88,113.02 196.68,120.14" fill="#94ff00" stroke="#101010" stroke-opacity="0.6" stroke-width="0.75" stroke-linejoin="round"/>
<polygon points="189.09,142.63 193.29,136.66 188.31,133.14 184.12,139.02" fill="#20db20" stroke="#101010" stroke-opacity="0.6" stroke-width="0.75" stroke-linejoin="round"/>
<polygon points="86.31,129.16 90.72,129.66 85.98,122.16 81.56,121.56" fill="#5bff05" stroke="#101010" stroke-opacity="0.6" stroke-width="0.75" stroke-linejoin="round"/>
<polygon points="118.44,155.66 122.73,154.56 117.96,148.54 113.67,149.55" fill="#1db820" stroke="#101010" stroke-opacity="0.6" stroke-width="0.75" stroke-linejoin="round"/>
<polygon points="149.91,164.3 154.12,161.33 149.27,156.57 145.06,159.45" fill="#139f2c" stroke="#101010" stroke-opacity="0.6" stroke-width="0.75" stroke-linejoin="round"/>
<polygon points="127.52,160.28 131.79,158.68 126.99,153.05 122.73,154.56" fill="#1aac23" stroke="#101010" stroke-opacity="0.6" stroke-width="0.75" stroke-linejoin="round"/>
<polygon points="109.35,150.15 113.67,149.55 108.91,143.14 104.58,143.65" fill="#20c820" stroke="#101010" stroke-opacity="0.6" stroke-width="0.75" stroke-linejoin="round"/>
<polygon points="205.91,116.25 210.14,108.61 205.09,105.48 200.88,113.02" fill="#ecff00" stroke="#101010" stroke-opacity="0.6" stroke-width="0.75" stroke-linejoin="round"/>
<polygon points="184.9,148.2 189.09,142.63 184.12,139.02 179.95,144.49" fill="#20cd20" stroke="#101010" stroke-opacity="0.6" stroke-width="0.75" stroke-linejoin="round"/>
<polygon points="163.2,162.34 167.39,158.48 162.5,154.19 158.32,157.96" fill="#16a528" stroke="#101010" stroke-opacity="0.6" stroke-width="0.75" stroke-linejoin="round"/>
<polygon points="136.6,164.01 140.84,161.93 136.03,156.69 131.79,158.68" fill="#14a22a" stroke="#101010" stroke-opacity="0.6" stroke-width="0.75" stroke-linejoin="round"/>
<polygon points="210.14,108.61 214.38,100.54 209.31,97.51 205.09,105.48" fill="#ffb900" stroke="#101010" stroke-opacity="0.6" stroke-width="0.75" stroke-linejoin="round"/>
<polygon points="100.23,143.76 104.58,143.65 99.83,136.85 95.47,136.86" fill="#20db20" stroke="#101010" stroke-opacity="0.6" stroke-width="0.75" stroke-linejoin="round"/>
<polygon points="180.71,153.36 184.9,148.2 179.95,144.49 175.76,149.55" fill="#1fc020" stroke="#101010" stroke-opacity="0.6" stroke-width="0.75" stroke-linejoin="round"/>
<polygon points="214.38,100.54 218.64,92.04 213.55,89.11 209.31,97.51" fill="#ff4c00" stroke="#101010" stroke-opacity="0.6" stroke-width="0.75" stroke-linejoin="round"/>
<polygon points="176.51,158.11 180.71,153.36 175.76,149.55 171.58,154.22" fill="#1db520" stroke="#101010" stroke-opacity="0.6" stroke-width="0.75" stroke-linejoin="round"/>
<polygon points="158.99,165.8 163.2,162.34 158.32,157.96 154.12,161.33" fill="#129e2d" stroke="#101010" stroke-opacity="0.6" stroke-width="0.75" stroke-linejoin="round"/>
<polygon points="145.68,166.87 149.91,164.3 145.06,159.45 140.84,161.93" fill="#119c2f" stroke="#101010" stroke-opacity="0.6" stroke-width="0.75" stroke-linejoin="round"/>
<polygon points="91.07,136.46 95.47,136.86 90.72,129.66 86.31,129.16" fill="#3bfa20" stroke="#101010" stroke-opacity="0.6" stroke-width="0.75" stroke-linejoin="round"/>
<polygon points="218.64,92.04 222.91,83.1 217.8,80.27 213.55,89.11" fill="#d90000" stroke="#101010" stroke-opacity="0.6" stroke-width="0.75" stroke-linejoin="round"/>
<polygon points="172.31,162.46 176.51,158.11 171.58,154.22 167.39,158.48" fill="#19ab24" stroke="#101010" stroke-opacity="0.6" stroke-width="0.75" stroke-linejoin="round"/>
<polygon points="123.24,161.46 127.52,160.28 122.73,154.56 118.44,155.66" fill="#1bae21" stroke="#101010" stroke-opacity="0.6" stroke-width="0.75" stroke-linejoin="round"/>
<polygon points="114.13,156.35 118.44,155.66 113.67,149.55 109.35,150.15" fill="#1ebc20" stroke="#101010" stroke-opacity="0.6" stroke-width="0.75" stroke-linejoin="round"/>
<polygon points="132.33,165.69 136.6,164.01 131.79,158.68 127.52,160.28" fill="#15a22a" stroke="#101010" stroke-opacity="0.6" stroke-width="0.75" stroke-linejoin="round"/>
<polygon points="104.99,150.35 109.35,150.15 104.58,143.65 100.23,143.76" fill="#20ce20" stroke="#101010" stroke-opacity="0.6" stroke-width="0.75" stroke-linejoin="round"/>
<polygon points="154.78,168.86 158.99,165.8 154.12,161.33 149.91,164.3" fill="#109830" stroke="#101010" stroke-opacity="0.6" stroke-width="0.75" stroke-linejoin="round"/>
<polygon points="81.86,128.25 86.31,129.16 81.56,121.56 77.1,120.55" fill="#80ff00" stroke="#101010" stroke-opacity="0.6" stroke-width="0.75" stroke-linejoin="round"/>
<polygon points="198.31,139.88 202.52,133.39 197.49,130.27 193.29,136.66" fill="#31f020" stroke="#101010" stroke-opacity="0.6" stroke-width="0.75" stroke-linejoin="round"/>
<polygon points="202.52,133.39 206.75,126.49 201.69,123.47 197.49,130.27" fill="#51ff0f" stroke="#101010" stroke-opacity="0.6" stroke-width="0.75" stroke-linejoin="round"/>
<polygon points="194.1,145.94 198.31,139.88 193.29,136.66 189.09,142.63" fill="#20da20" stroke="#101010" stroke-opacity="0.6" stroke-width="0.75" stroke-linejoin="round"/>
<polygon points="206.75,126.49 210.98,119.18 205.91,116.25 201.69,123.47" fill="#94ff00" stroke="#101010" stroke-opacity="0.6" stroke-width="0.75" stroke-linejoin="round"/>
<polygon points="168.11,166.41 172.31,162.46 167.39,158.48 163.2,162.34" fill="#14a22a" stroke="#101010" stroke-opacity="0.6" stroke-width="0.75" stroke-linejoin="round"/>
<polygon points="141.43,169.04 145.68,166.87 140.84,161.93 136.6,164.01" fill="#109a30" stroke="#101010" stroke-opacity="0.6" stroke-width="0.75" stroke-linejoin="round"/>
<polygon points="95.83,143.44 100.23,143.76 95.47,136.86 91.07,136.46" fill="#24e420" stroke="#101010" stroke-opacity="0.6" stroke-width="0.75" stroke-linejoin="round"/>
<polygon points="189.89,151.6 194.1,145.94 189.09,142.63 184.9,148.2" fill="#20cc20" stroke="#101010" stroke-opacity="0.6" stroke-width="0.75" stroke-linejoin="round"/>
<polygon points="210.98,119.18 215.23,111.43 210.14,108.61 205.91,116.25" fill="#eeff00" stroke="#101010" stroke-opacity="0.6" stroke-width="0.75" stroke-linejoin="round"/>
<polygon points="185.69,156.86 189.89,151.6 184.9,148.2 180.71,153.36" fill="#1ebf20" stroke="#101010" stroke-opacity="0.6" stroke-width="0.75" stroke-linejoin="round"/>
<polygon points="215.23,111.43 219.49,103.26 214.38,100.54 210.14,108.61" fill="#ffb600" stroke="#101010" stroke-opacity="0.6" stroke-width="0.75" stroke-linejoin="round"/>
<polygon points="150.54,171.52 154.78,168.86 149.91,164.3 145.68,166.87" fill="#0e8e32" stroke="#101010" stroke-opacity="0.6" stroke-width="0.75" stroke-linejoin="round"/>
<polygon points="163.9,169.96 168.11,166.41 163.2,162.34 158.99,165.8" fill="#109a30" stroke="#101010" stroke-opacity="0.6" stroke-width="0.75" stroke-linejoin="round"/>
<polygon points="86.63,135.63 91.07,136.46 86.31,129.16 81.86,128.25" fill="#4eff12" stroke="#101010" stroke-opacity="0.6" stroke-width="0.75" stroke-linejoin="round"/>
<polygon points="118.92,162.25 123.24,161.46 118.44,155.66 114.13,156.35" fill="#1cb220" stroke="#101010" stroke-opacity="0.6" stroke-width="0.75" stroke-linejoin="round"/>
<polygon points="181.48,161.7 185.69,156.86 180.71,153.36 176.51,158.11" fill="#1db320" stroke="#101010" stroke-opacity="0.6" stroke-width="0.75" stroke-linejoin="round"/>
<polygon points="128.05,166.97 132.33,165.69 127.52,160.28 123.24,161.46" fill="#16a528" stroke="#101010" stroke-opacity="0.6" stroke-width="0.75" stroke-linejoin="round"/>
<polygon points="109.78,156.63 114.13,156.35 109.35,150.15 104.99,150.35" fill="#1fc220" stroke="#101010" stroke-opacity="0.6" stroke-width="0.75" stroke-linejoin="round"/>
<polygon points="219.49,103.26 223.77,94.65 218.64,92.04 214.38,100.54" fill="#ff4700" stroke="#101010" stroke-opacity="0.6" stroke-width="0.75" stroke-linejoin="round"/>
<polygon points="137.17,170.81 141.43,169.04 136.6,164.01 132.33,165.69" fill="#109a30" stroke="#101010" stroke-opacity="0.6" stroke-width="0.75" stroke-linejoin="round"/>
<polygon points="100.61,150.13 104.99,150.35 100.23,143.76 95.83,143.44" fill="#20d520" stroke="#101010" stroke-opacity="0.6" stroke-width="0.75" stroke-linejoin="round"/>
<polygon points="177.27,166.14 181.48,161.7 176.51,158.11 172.31,162.46" fill="#18a925" stroke="#101010" stroke-opacity="0.6" stroke-width="0.75" stroke-linejoin="round"/>
<polygon points="223.77,94.65 228.07,85.61 222.91,83.1 218.64,92.04" fill="#d60000" stroke="#101010" stroke-opacity="0.6" stroke-width="0.75" stroke-linejoin="round"/>
<polygon points="159.68,173.11 163.9,169.96 158.99,165.8 154.78,168.86" fill="#0d8c33" stroke="#101010" stroke-opacity="0.6" stroke-width="0.75" stroke-linejoin="round"/>
<polygon points="77.37,126.9 81.86,128.25 77.1,120.55 72.6,119.11" fill="#b0ff00" stroke="#101010" stroke-opacity="0.6" stroke-width="0.75" stroke-linejoin="round"/>
<polygon points="146.3,173.77 150.54,171.52 145.68,166.87 141.43,169.04" fill="#0d8933" stroke="#101010" stroke-opacity="0.6" stroke-width="0.75" stroke-linejoin="round"/>
<polygon points="91.4,142.71 95.83,143.44 91.07,136.46 86.63,135.63" fill="#33f220" stroke="#101010" stroke-opacity="0.6" stroke-width="0.75" stroke-linejoin="round"/>
<polygon points="173.06,170.18 177.27,166.14 172.31,162.46 168.11,166.41" fill="#139f2c" stroke="#101010" stroke-opacity="0.6" stroke-width="0.75" stroke-linejoin="round"/>
<polygon points="203.37,142.78 207.6,136.2 202.52,133.39 198.31,139.88" fill="#32f120" stroke="#101010" stroke-opacity="0.6" stroke-width="0.75" stroke-linejoin="round"/>
<polygon points="207.6,136.2 211.84,129.2 206.75,126.49 202.52,133.39" fill="#53ff0d" stroke="#101010" stroke-opacity="0.6" stroke-width="0.75" stroke-linejoin="round"/>
<polygon points="199.14,148.95 203.37,142.78 198.31,139.88 194.1,145.94" fill="#20db20" stroke="#101010" stroke-opacity="0.6" stroke-width="0.75" stroke-linejoin="round"/>
<polygon points="211.84,129.2 216.1,121.78 210.98,119.18 206.75,126.49" fill="#99ff00" stroke="#101010" stroke-opacity="0.6" stroke-width="0.75" stroke-linejoin="round"/>
<polygon points="194.92,154.7 199.14,148.95 194.1,145.94 189.89,151.6" fill="#20cc20" stroke="#101010" stroke-opacity="0.6" stroke-width="0.75" stroke-linejoin="round"/>
<polygon points="123.74,167.84 128.05,166.97 123.24,161.46 118.92,162.25" fill="#18a826" stroke="#101010" stroke-opacity="0.6" stroke-width="0.75" stroke-linejoin="round"/>
<polygon points="114.58,162.62 118.92,162.25 114.13,156.35 109.78,156.63" fill="#1db720" stroke="#101010" stroke-opacity="0.6" stroke-width="0.75" stroke-linejoin="round"/>
<polygon points="216.1,121.78 220.37,113.94 215.23,111.43 210.98,119.18" fill="#f5ff00" stroke="#101010" stroke-opacity="0.6" stroke-width="0.75" stroke-linejoin="round"/>
<polygon points="132.88,172.18 137.17,170.81 132.33,165.69 128.05,166.97" fill="#119c2e" stroke="#101010" stroke-opacity="0.6" stroke-width="0.75" stroke-linejoin="round"/>
<polygon points="155.44,175.86 159.68,173.11 154.78,168.86 150.54,171.52" fill="#0b8135" stroke="#101010" stroke-opacity="0.6" stroke-width="0.75" stroke-linejoin="round"/>
<polygon points="190.7,160.05 194.92,154.7 189.89,151.6 185.69,156.86" fill="#1ebf20" stroke="#101010" stroke-opacity="0.6" stroke-width="0.75" stroke-linejoin="round"/>
<polygon points="105.4,156.5 109.78,156.63 104.99,150.35 100.61,150.13" fill="#20c920" stroke="#101010" stroke-opacity="0.6" stroke-width="0.75" stroke-linejoin="round"/>
<polygon points="168.84,173.82 173.06,170.18 168.11,166.41 163.9,169.96" fill="#0f9431" stroke="#101010" stroke-opacity="0.6" stroke-width="0.75" stroke-linejoin="round"/>
<polygon points="82.15,134.39 86.63,135.63 81.86,128.25 77.37,126.9" fill="#6aff00" stroke="#101010" stroke-opacity="0.6" stroke-width="0.75" stroke-linejoin="round"/>
<polygon points="220.37,113.94 224.65,105.66 219.49,103.26 215.23,111.43" fill="#ffaf00" stroke="#101010" stroke-opacity="0.6" stroke-width="0.75" stroke-linejoin="round"/>
<polygon points="142.03,175.63 146.3,173.77 141.43,169.04 137.17,170.81" fill="#0d8933" stroke="#101010" stroke-opacity="0.6" stroke-width="0.75" stroke-linejoin="round"/>
<polygon points="186.49,164.99 190.7,160.05 185.69,156.86 181.48,161.7" fill="#1cb320" stroke="#101010" stroke-opacity="0.6" stroke-width="0.75" stroke-linejoin="round"/>
<polygon points="96.19,149.49 100.61,150.13 95.83,143.44 91.4,142.71" fill="#20de20" stroke="#101010" stroke-opacity="0.6" stroke-width="0.75" stroke-linejoin="round"/>
<polygon points="224.65,105.66 228.96,96.95 223.77,94.65 219.49,103.26" fill="#ff3b00" stroke="#101010" stroke-opacity="0.6" stroke-width="0.75" stroke-linejoin="round"/>
<polygon points="182.27,169.52 186.49,164.99 181.48,161.7 177.27,166.14" fill="#18a826" stroke="#101010" stroke-opacity="0.6" stroke-width="0.75" stroke-linejoin="round"/>
<polygon points="164.61,177.06 168.84,173.82 163.9,169.96 159.68,173.11" fill="#0c8434" stroke="#101010" stroke-opacity="0.6" stroke-width="0.75" stroke-linejoin="round"/>
<polygon points="151.19,178.2 155.44,175.86 150.54,171.52 146.3,173.77" fill="#0a7b36" stroke="#101010" stroke-opacity="0.6" stroke-width="0.75" stroke-linejoin="round"/>
<polygon points="72.84,125.13 77.37,126.9 72.6,119.11 68.05,117.24" fill="#e8ff00" stroke="#101010" stroke-opacity="0.6" stroke-width="0.75" stroke-linejoin="round"/>
<polygon points="228.96,96.95 233.28,87.79 228.07,85.61 223.77,94.65" fill="#d10000" stroke="#101010" stroke-opacity="0.6" stroke-width="0.75" stroke-linejoin="round"/>
<polygon points="86.93,141.56 91.4,142.71 86.63,135.63 82.15,134.39" fill="#45ff1b" stroke="#101010" stroke-opacity="0.6" stroke-width="0.75" stroke-linejoin="round"/>
<polygon points="119.39,168.3 123.74,167.84 118.92,162.25 114.58,162.62" fill="#1bae21" stroke="#101010" stroke-opacity="0.6" stroke-width="0.75" stroke-linejoin="round"/>
<polygon points="128.57,173.13 132.88,172.18 128.05,166.97 123.74,167.84" fill="#13a02c" stroke="#101010" stroke-opacity="0.6" stroke-width="0.75" stroke-linejoin="round"/>
<polygon points="110.2,162.58 114.58,162.62 109.78,156.63 105.4,156.5" fill="#1ebe20" stroke="#101010" stroke-opacity="0.6" stroke-width="0.75" stroke-linejoin="round"/>
<polygon points="178.04,173.65 182.27,169.52 177.27,166.14 173.06,170.18" fill="#129e2d" stroke="#101010" stroke-opacity="0.6" stroke-width="0.75" stroke-linejoin="round"/>
<polygon points="137.74,177.08 142.03,175.63 137.17,170.81 132.88,172.18" fill="#0e8d32" stroke="#101010" stroke-opacity="0.6" stroke-width="0.75" stroke-linejoin="round"/>
<polygon points="208.48,145.37 212.73,138.69 207.6,136.2 203.37,142.78" fill="#35f420" stroke="#101010" stroke-opacity="0.6" stroke-width="0.75" stroke-linejoin="round"/>
<polygon points="212.73,138.69 216.99,131.59 211.84,129.2 207.6,136.2" fill="#58ff08" stroke="#101010" stroke-opacity="0.6" stroke-width="0.75" stroke-linejoin="round"/>
<polygon points="204.23,151.64 208.48,145.37 203.37,142.78 199.14,148.95" fill="#20dc20" stroke="#101010" stroke-opacity="0.6" stroke-width="0.75" stroke-linejoin="round"/>
<polygon points="100.98,155.96 105.4,156.5 100.61,150.13 96.19,149.49" fill="#20d220" stroke="#101010" stroke-opacity="0.6" stroke-width="0.75" stroke-linejoin="round"/>
<polygon points="160.37,179.89 164.61,177.06 159.68,173.11 155.44,175.86" fill="#0a7936" stroke="#101010" stroke-opacity="0.6" stroke-width="0.75" stroke-linejoin="round"/>
<polygon points="216.99,131.59 221.26,124.07 216.1,121.78 211.84,129.2" fill="#a4ff00" stroke="#101010" stroke-opacity="0.6" stroke-width="0.75" stroke-linejoin="round"/>
<polygon points="200,157.49 204.23,151.64 199.14,148.95 194.92,154.7" fill="#20cd20" stroke="#101010" stroke-opacity="0.6" stroke-width="0.75" stroke-linejoin="round"/>
<polygon points="146.92,180.14 151.19,178.2 146.3,173.77 142.03,175.63" fill="#0a7a36" stroke="#101010" stroke-opacity="0.6" stroke-width="0.75" stroke-linejoin="round"/>
<polygon points="173.81,177.38 178.04,173.65 173.06,170.18 168.84,173.82" fill="#0e9032" stroke="#101010" stroke-opacity="0.6" stroke-width="0.75" stroke-linejoin="round"/>
<polygon points="221.26,124.07 225.56,116.12 220.37,113.94 216.1,121.78" fill="#fffd00" stroke="#101010" stroke-opacity="0.6" stroke-width="0.75" stroke-linejoin="round"/>
<polygon points="77.62,132.71 82.15,134.39 77.37,126.9 72.84,125.13" fill="#a0ff00" stroke="#101010" stroke-opacity="0.6" stroke-width="0.75" stroke-linejoin="round"/>
<polygon points="195.76,162.93 200,157.49 194.92,154.7 190.7,160.05" fill="#1fc020" stroke="#101010" stroke-opacity="0.6" stroke-width="0.75" stroke-linejoin="round"/>
<polygon points="91.72,148.43 96.19,149.49 91.4,142.71 86.93,141.56" fill="#2eed20" stroke="#101010" stroke-opacity="0.6" stroke-width="0.75" stroke-linejoin="round"/>
<polygon points="225.56,116.12 229.86,107.74 224.65,105.66 220.37,113.94" fill="#ffa300" stroke="#101010" stroke-opacity="0.6" stroke-width="0.75" stroke-linejoin="round"/>
<polygon points="191.53,167.96 195.76,162.93 190.7,160.05 186.49,164.99" fill="#1db420" stroke="#101010" stroke-opacity="0.6" stroke-width="0.75" stroke-linejoin="round"/>
<polygon points="124.23,173.69 128.57,173.13 123.74,167.84 119.39,168.3" fill="#16a528" stroke="#101010" stroke-opacity="0.6" stroke-width="0.75" stroke-linejoin="round"/>
<polygon points="156.11,182.33 160.37,179.89 155.44,175.86 151.19,178.2" fill="#0a7438" stroke="#101010" stroke-opacity="0.6" stroke-width="0.75" stroke-linejoin="round"/>
<polygon points="115.02,168.35 119.39,168.3 114.58,162.62 110.2,162.58" fill="#1db520" stroke="#101010" stroke-opacity="0.6" stroke-width="0.75" stroke-linejoin="round"/>
<polygon points="169.58,180.71 173.81,177.38 168.84,173.82 164.61,177.06" fill="#0b7f35" stroke="#101010" stroke-opacity="0.6" stroke-width="0.75" stroke-linejoin="round"/>
<polygon points="229.86,107.74 234.19,98.91 228.96,96.95 224.65,105.66" fill="#fd2b00" stroke="#101010" stroke-opacity="0.6" stroke-width="0.75" stroke-linejoin="round"/>
<polygon points="133.43,178.13 137.74,177.08 132.88,172.18 128.57,173.13" fill="#0f9631" stroke="#101010" stroke-opacity="0.6" stroke-width="0.75" stroke-linejoin="round"/>
<polygon points="187.3,172.59 191.53,167.96 186.49,164.99 182.27,169.52" fill="#18a925" stroke="#101010" stroke-opacity="0.6" stroke-width="0.75" stroke-linejoin="round"/>
<polygon points="105.79,162.13 110.2,162.58 105.4,156.5 100.98,155.96" fill="#20c720" stroke="#101010" stroke-opacity="0.6" stroke-width="0.75" stroke-linejoin="round"/>
<polygon points="82.42,139.98 86.93,141.56 82.15,134.39 77.62,132.71" fill="#5fff01" stroke="#101010" stroke-opacity="0.6" stroke-width="0.75" stroke-linejoin="round"/>
<polygon points="68.25,122.92 72.84,125.13 68.05,117.24 63.45,114.93" fill="#ffdb00" stroke="#101010" stroke-opacity="0.6" stroke-width="0.75" stroke-linejoin="round"/>
<polygon points="142.63,181.68 146.92,180.14 142.03,175.63 137.74,177.08" fill="#0b7e35" stroke="#101010" stroke-opacity="0.6" stroke-width="0.75" stroke-linejoin="round"/>
<polygon points="234.19,98.91 238.54,89.65 233.28,87.79 228.96,96.95" fill="#c90000" stroke="#101010" stroke-opacity="0.6" stroke-width="0.75" stroke-linejoin="round"/>
<polygon points="183.07,176.81 187.3,172.59 182.27,169.52 178.04,173.65" fill="#139f2d" stroke="#101010" stroke-opacity="0.6" stroke-width="0.75" stroke-linejoin="round"/>
<polygon points="96.53,154.99 100.98,155.96 96.19,149.49 91.72,148.43" fill="#20dc20" stroke="#101010" stroke-opacity="0.6" stroke-width="0.75" stroke-linejoin="round"/>
<polygon points="165.33,183.63 169.58,180.71 164.61,177.06 160.37,179.89" fill="#0a7537" stroke="#101010" stroke-opacity="0.6" stroke-width="0.75" stroke-linejoin="round"/>
<polygon points="151.84,184.36 156.11,182.33 151.19,178.2 146.92,180.14" fill="#0a7238" stroke="#101010" stroke-opacity="0.6" stroke-width="0.75" stroke-linejoin="round"/>
<polygon points="213.63,147.65 217.9,140.87 212.73,138.69 208.48,145.37" fill="#3af920" stroke="#101010" stroke-opacity="0.6" stroke-width="0.75" stroke-linejoin="round"/>
<polygon points="209.37,154.01 213.63,147.65 208.48,145.37 204.23,151.64" fill="#20df20" stroke="#101010" stroke-opacity="0.6" stroke-width="0.75" stroke-linejoin="round"/>
<polygon points="217.9,140.87 222.19,133.67 216.99,131.59 212.73,138.69" fill="#5fff01" stroke="#101010" stroke-opacity="0.6" stroke-width="0.75" stroke-linejoin="round"/>
<polygon points="205.12,159.96 209.37,154.01 204.23,151.64 200,157.49" fill="#20d020" stroke="#101010" stroke-opacity="0.6" stroke-width="0.75" stroke-linejoin="round"/>
<polygon points="178.83,180.63 183.07,176.81 178.04,173.65 173.81,177.38" fill="#0e9032" stroke="#101010" stroke-opacity="0.6" stroke-width="0.75" stroke-linejoin="round"/>
<polygon points="222.19,133.67 226.48,126.04 221.26,124.07 216.99,131.59" fill="#b4ff00" stroke="#101010" stroke-opacity="0.6" stroke-width="0.75" stroke-linejoin="round"/>
<polygon points="73.05,130.6 77.62,132.71 72.84,125.13 68.25,122.92" fill="#deff00" stroke="#101010" stroke-opacity="0.6" stroke-width="0.75" stroke-linejoin="round"/>
<polygon points="87.22,146.95 91.72,148.43 86.93,141.56 82.42,139.98" fill="#42ff1e" stroke="#101010" stroke-opacity="0.6" stroke-width="0.75" stroke-linejoin="round"/>
<polygon points="119.86,173.82 124.23,173.69 119.39,168.3 115.02,168.35" fill="#1aac23" stroke="#101010" stroke-opacity="0.6" stroke-width="0.75" stroke-linejoin="round"/>
<polygon points="200.87,165.5 205.12,159.96 200,157.49 195.76,162.93" fill="#1fc220" stroke="#101010" stroke-opacity="0.6" stroke-width="0.75" stroke-linejoin="round"/>
<polygon points="129.09,178.77 133.43,178.13 128.57,173.13 124.23,173.69" fill="#129e2d" stroke="#101010" stroke-opacity="0.6" stroke-width="0.75" stroke-linejoin="round"/>
<polygon points="226.48,126.04 230.8,117.98 225.56,116.12 221.26,124.07" fill="#ffed00" stroke="#101010" stroke-opacity="0.6" stroke-width="0.75" stroke-linejoin="round"/>
<polygon points="110.62,167.99 115.02,168.35 110.2,162.58 105.79,162.13" fill="#1ebd20" stroke="#101010" stroke-opacity="0.6" stroke-width="0.75" stroke-linejoin="round"/>
<polygon points="138.32,182.82 142.63,181.68 137.74,177.08 133.43,178.13" fill="#0c8634" stroke="#101010" stroke-opacity="0.6" stroke-width="0.75" stroke-linejoin="round"/>
<polygon points="196.62,170.63 200.87,165.5 195.76,162.93 191.53,167.96" fill="#1db620" stroke="#101010" stroke-opacity="0.6" stroke-width="0.75" stroke-linejoin="round"/>
<polygon points="161.06,186.15 165.33,183.63 160.37,179.89 156.11,182.33" fill="#0a6f39" stroke="#101010" stroke-opacity="0.6" stroke-width="0.75" stroke-linejoin="round"/>
<polygon points="230.8,117.98 235.13,109.49 229.86,107.74 225.56,116.12" fill="#ff9200" stroke="#101010" stroke-opacity="0.6" stroke-width="0.75" stroke-linejoin="round"/>
<polygon points="101.34,161.25 105.79,162.13 100.98,155.96 96.53,154.99" fill="#20d120" stroke="#101010" stroke-opacity="0.6" stroke-width="0.75" stroke-linejoin="round"/>
<polygon points="174.58,184.05 178.83,180.63 173.81,177.38 169.58,180.71" fill="#0b7e35" stroke="#101010" stroke-opacity="0.6" stroke-width="0.75" stroke-linejoin="round"/>
<polygon points="192.38,175.35 196.62,170.63 191.53,167.96 187.3,172.59" fill="#19ab24" stroke="#101010" stroke-opacity="0.6" stroke-width="0.75" stroke-linejoin="round"/>
<polygon points="147.54,185.99 151.84,184.36 146.92,180.14 142.63,181.68" fill="#0a7437" stroke="#101010" stroke-opacity="0.6" stroke-width="0.75" stroke-linejoin="round"/>
<polygon points="77.86,137.97 82.42,139.98 77.62,132.71 73.05,130.6" fill="#9aff00" stroke="#101010" stroke-opacity="0.6" stroke-width="0.75" stroke-linejoin="round"/>
<polygon points="235.13,109.49 239.48,100.56 234.19,98.91 229.86,107.74" fill="#f51b00" stroke="#101010" stroke-opacity="0.6" stroke-width="0.75" stroke-linejoin="round"/>
<polygon points="63.62,120.27 68.25,122.92 63.45,114.93 58.8,112.18" fill="#ff9b00" stroke="#101010" stroke-opacity="0.6" stroke-width="0.75" stroke-linejoin="round"/>
<polygon points="92.03,153.6 96.53,154.99 91.72,148.43 87.22,146.95" fill="#2dec20" stroke="#101010" stroke-opacity="0.6" stroke-width="0.75" stroke-linejoin="round"/>
<polygon points="188.13,179.66 192.38,175.35 187.3,172.59 183.07,176.81" fill="#14a02b" stroke="#101010" stroke-opacity="0.6" stroke-width="0.75" stroke-linejoin="round"/>
<polygon points="170.32,187.06 174.58,184.05 169.58,180.71 165.33,183.63" fill="#0a7438" stroke="#101010" stroke-opacity="0.6" stroke-width="0.75" stroke-linejoin="round"/>
<polygon points="156.79,188.27 161.06,186.15 156.11,182.33 151.84,184.36" fill="#0a6d39" stroke="#101010" stroke-opacity="0.6" stroke-width="0.75" stroke-linejoin="round"/>
<polygon points="239.48,100.56 243.86,91.18 238.54,89.65 234.19,98.91" fill="#c20000" stroke="#101010" stroke-opacity="0.6" stroke-width="0.75" stroke-linejoin="round"/>
<polygon points="124.73,178.99 129.09,178.77 124.23,173.69 119.86,173.82" fill="#16a429" stroke="#101010" stroke-opacity="0.6" stroke-width="0.75" stroke-linejoin="round"/>
<polygon points="115.46,173.55 119.86,173.82 115.02,168.35 110.62,167.99" fill="#1db420" stroke="#101010" stroke-opacity="0.6" stroke-width="0.75" stroke-linejoin="round"/>
<polygon points="133.98,183.54 138.32,182.82 133.43,178.13 129.09,178.77" fill="#0f9331" stroke="#101010" stroke-opacity="0.6" stroke-width="0.75" stroke-linejoin="round"/>
<polygon points="218.84,149.61 223.13,142.73 217.9,140.87 213.63,147.65" fill="#42ff1e" stroke="#101010" stroke-opacity="0.6" stroke-width="0.75" stroke-linejoin="round"/>
<polygon points="106.18,167.21 110.62,167.99 105.79,162.13 101.34,161.25" fill="#20c720" stroke="#101010" stroke-opacity="0.6" stroke-width="0.75" stroke-linejoin="round"/>
<polygon points="214.56,156.07 218.84,149.61 213.63,147.65 209.37,154.01" fill="#26e620" stroke="#101010" stroke-opacity="0.6" stroke-width="0.75" stroke-linejoin="round"/>
<polygon points="183.88,183.57 188.13,179.66 183.07,176.81 178.83,180.63" fill="#0f9431" stroke="#101010" stroke-opacity="0.6" stroke-width="0.75" stroke-linejoin="round"/>
<polygon points="82.67,145.03 87.22,146.95 82.42,139.98 77.86,137.97" fill="#5eff02" stroke="#101010" stroke-opacity="0.6" stroke-width="0.75" stroke-linejoin="round"/>
<polygon points="223.13,142.73 227.43,135.42 222.19,133.67 217.9,140.87" fill="#73ff00" stroke="#101010" stroke-opacity="0.6" stroke-width="0.75" stroke-linejoin="round"/>
<polygon points="68.43,128.06 73.05,130.6 68.25,122.92 63.62,120.27" fill="#ffdf00" stroke="#101010" stroke-opacity="0.6" stroke-width="0.75" stroke-linejoin="round"/>
<polygon points="210.29,162.12 214.56,156.07 209.37,154.01 205.12,159.96" fill="#20d420" stroke="#101010" stroke-opacity="0.6" stroke-width="0.75" stroke-linejoin="round"/>
<polygon points="143.23,187.21 147.54,185.99 142.63,181.68 138.32,182.82" fill="#0a7a36" stroke="#101010" stroke-opacity="0.6" stroke-width="0.75" stroke-linejoin="round"/>
<polygon points="227.43,135.42 231.75,127.68 226.48,126.04 222.19,133.67" fill="#caff00" stroke="#101010" stroke-opacity="0.6" stroke-width="0.75" stroke-linejoin="round"/>
<polygon points="206.02,167.76 210.29,162.12 205.12,159.96 200.87,165.5" fill="#20c620" stroke="#101010" stroke-opacity="0.6" stroke-width="0.75" stroke-linejoin="round"/>
<polygon points="166.05,189.67 170.32,187.06 165.33,183.63 161.06,186.15" fill="#0a6e39" stroke="#101010" stroke-opacity="0.6" stroke-width="0.75" stroke-linejoin="round"/>
<polygon points="96.86,159.96 101.34,161.25 96.53,154.99 92.03,153.6" fill="#20dc20" stroke="#101010" stroke-opacity="0.6" stroke-width="0.75" stroke-linejoin="round"/>
<polygon points="231.75,127.68 236.09,119.52 230.8,117.98 226.48,126.04" fill="#ffd900" stroke="#101010" stroke-opacity="0.6" stroke-width="0.75" stroke-linejoin="round"/>
<polygon points="201.76,172.98 206.02,167.76 200.87,165.5 196.62,170.63" fill="#1eb920" stroke="#101010" stroke-opacity="0.6" stroke-width="0.75" stroke-linejoin="round"/>
<polygon points="152.49,189.98 156.79,188.27 151.84,184.36 147.54,185.99" fill="#0a6f39" stroke="#101010" stroke-opacity="0.6" stroke-width="0.75" stroke-linejoin="round"/>
<polygon points="179.63,187.08 183.88,183.57 178.83,180.63 174.58,184.05" fill="#0b8235" stroke="#101010" stroke-opacity="0.6" stroke-width="0.75" stroke-linejoin="round"/>
<polygon points="236.09,119.52 240.45,110.91 235.13,109.49 230.8,117.98" fill="#ff7a00" stroke="#101010" stroke-opacity="0.6" stroke-width="0.75" stroke-linejoin="round"/>
<polygon points="197.5,177.8 201.76,172.98 196.62,170.63 192.38,175.35" fill="#1bae21" stroke="#101010" stroke-opacity="0.6" stroke-width="0.75" stroke-linejoin="round"/>
<polygon points="73.25,135.52 77.86,137.97 73.05,130.6 68.43,128.06" fill="#ddff00" stroke="#101010" stroke-opacity="0.6" stroke-width="0.75" stroke-linejoin="round"/>
<polygon points="87.49,151.78 92.03,153.6 87.22,146.95 82.67,145.03" fill="#43ff1d" stroke="#101010" stroke-opacity="0.6" stroke-width="0.75" stroke-linejoin="round"/>
<polygon points="120.33,178.81 124.73,178.99 119.86,173.82 115.46,173.55" fill="#1aad22" stroke="#101010" stroke-opacity="0.6" stroke-width="0.75" stroke-linejoin="round"/>
<polygon points="129.61,183.86 133.98,183.54 129.09,178.77 124.73,178.99" fill="#129e2d" stroke="#101010" stroke-opacity="0.6" stroke-width="0.75" stroke-linejoin="round"/>
<polygon points="240.45,110.91 244.83,101.87 239.48,100.56 235.13,109.49" fill="#eb0700" stroke="#101010" stroke-opacity="0.6" stroke-width="0.75" stroke-linejoin="round"/>
<polygon points="58.92,117.18 63.62,120.27 58.8,112.18 54.1,108.98" fill="#ff4400" stroke="#101010" stroke-opacity="0.6" stroke-width="0.75" stroke-linejoin="round"/>
<polygon points="111.03,172.86 115.46,173.55 110.62,167.99 106.18,167.21" fill="#1ebe20" stroke="#101010" stroke-opacity="0.6" stroke-width="0.75" stroke-linejoin="round"/>
<polygon points="161.77,191.87 166.05,189.67 161.06,186.15 156.79,188.27" fill="#0a6b3a" stroke="#101010" stroke-opacity="0.6" stroke-width="0.75" stroke-linejoin="round"/>
<polygon points="138.89,188.02 143.23,187.21 138.32,182.82 133.98,183.54" fill="#0c8634" stroke="#101010" stroke-opacity="0.6" stroke-width="0.75" stroke-linejoin="round"/>
<polygon points="175.36,190.18 179.63,187.08 174.58,184.05 170.32,187.06" fill="#0a7537" stroke="#101010" stroke-opacity="0.6" stroke-width="0.75" stroke-linejoin="round"/>
<polygon points="193.24,182.2 197.5,177.8 192.38,175.35 188.13,179.66" fill="#15a429" stroke="#101010" stroke-opacity="0.6" stroke-width="0.75" stroke-linejoin="round"/>
<polygon points="101.7,166 106.18,167.21 101.34,161.25 96.86,159.96" fill="#20d220" stroke="#101010" stroke-opacity="0.6" stroke-width="0.75" stroke-linejoin="round"/>
<polygon points="244.83,101.87 249.24,92.37 243.86,91.18 239.48,100.56" fill="#b80000" stroke="#101010" stroke-opacity="0.6" stroke-width="0.75" stroke-linejoin="round"/>
<polygon points="148.17,191.29 152.49,189.98 147.54,185.99 143.23,187.21" fill="#0a7338" stroke="#101010" stroke-opacity="0.6" stroke-width="0.75" stroke-linejoin="round"/>
<polygon points="78.07,142.68 82.67,145.03 77.86,137.97 73.25,135.52" fill="#9eff00" stroke="#101010" stroke-opacity="0.6" stroke-width="0.75" stroke-linejoin="round"/>
<polygon points="188.98,186.21 193.24,182.2 188.13,179.66 183.88,183.57" fill="#109b2f" stroke="#101010" stroke-opacity="0.6" stroke-width="0.75" stroke-linejoin="round"/>
<polygon points="63.75,125.06 68.43,128.06 63.62,120.27 58.92,117.18" fill="#ff9b00" stroke="#101010" stroke-opacity="0.6" stroke-width="0.75" stroke-linejoin="round"/>
<polygon points="219.8,157.81 224.1,151.25 218.84,149.61 214.56,156.07" fill="#2eee20" stroke="#101010" stroke-opacity="0.6" stroke-width="0.75" stroke-linejoin="round"/>
<polygon points="224.1,151.25 228.41,144.26 223.13,142.73 218.84,149.61" fill="#4eff12" stroke="#101010" stroke-opacity="0.6" stroke-width="0.75" stroke-linejoin="round"/>
<polygon points="215.51,163.96 219.8,157.81 214.56,156.07 210.29,162.12" fill="#20d920" stroke="#101010" stroke-opacity="0.6" stroke-width="0.75" stroke-linejoin="round"/>
<polygon points="92.33,158.23 96.86,159.96 92.03,153.6 87.49,151.78" fill="#2fef20" stroke="#101010" stroke-opacity="0.6" stroke-width="0.75" stroke-linejoin="round"/>
<polygon points="228.41,144.26 232.74,136.85 227.43,135.42 223.13,142.73" fill="#8cff00" stroke="#101010" stroke-opacity="0.6" stroke-width="0.75" stroke-linejoin="round"/>
<polygon points="171.08,192.88 175.36,190.18 170.32,187.06 166.05,189.67" fill="#0a6f39" stroke="#101010" stroke-opacity="0.6" stroke-width="0.75" stroke-linejoin="round"/>
<polygon points="157.47,193.68 161.77,191.87 156.79,188.27 152.49,189.98" fill="#0a6c3a" stroke="#101010" stroke-opacity="0.6" stroke-width="0.75" stroke-linejoin="round"/>
<polygon points="211.23,169.7 215.51,163.96 210.29,162.12 206.02,167.76" fill="#20cb20" stroke="#101010" stroke-opacity="0.6" stroke-width="0.75" stroke-linejoin="round"/>
<polygon points="232.74,136.85 237.08,129 231.75,127.68 227.43,135.42" fill="#e5ff00" stroke="#101010" stroke-opacity="0.6" stroke-width="0.75" stroke-linejoin="round"/>
<polygon points="125.22,183.76 129.61,183.86 124.73,178.99 120.33,178.81" fill="#17a627" stroke="#101010" stroke-opacity="0.6" stroke-width="0.75" stroke-linejoin="round"/>
<polygon points="184.71,189.8 188.98,186.21 183.88,183.57 179.63,187.08" fill="#0d8933" stroke="#101010" stroke-opacity="0.6" stroke-width="0.75" stroke-linejoin="round"/>
<polygon points="206.95,175.02 211.23,169.7 206.02,167.76 201.76,172.98" fill="#1ebe20" stroke="#101010" stroke-opacity="0.6" stroke-width="0.75" stroke-linejoin="round"/>
<polygon points="237.08,129 241.45,120.72 236.09,119.52 231.75,127.68" fill="#ffbf00" stroke="#101010" stroke-opacity="0.6" stroke-width="0.75" stroke-linejoin="round"/>
<polygon points="115.9,178.2 120.33,178.81 115.46,173.55 111.03,172.86" fill="#1db620" stroke="#101010" stroke-opacity="0.6" stroke-width="0.75" stroke-linejoin="round"/>
<polygon points="134.53,188.42 138.89,188.02 133.98,183.54 129.61,183.86" fill="#0f9731" stroke="#101010" stroke-opacity="0.6" stroke-width="0.75" stroke-linejoin="round"/>
<polygon points="106.55,171.74 111.03,172.86 106.18,167.21 101.7,166" fill="#20c920" stroke="#101010" stroke-opacity="0.6" stroke-width="0.75" stroke-linejoin="round"/>
<polygon points="68.59,132.63 73.25,135.52 68.43,128.06 63.75,125.06" fill="#ffdb00" stroke="#101010" stroke-opacity="0.6" stroke-width="0.75" stroke-linejoin="round"/>
<polygon points="82.91,149.53 87.49,151.78 82.67,145.03 78.07,142.68" fill="#64ff00" stroke="#101010" stroke-opacity="0.6" stroke-width="0.75" stroke-linejoin="round"/>
<polygon points="143.83,192.19 148.17,191.29 143.23,187.21 138.89,188.02" fill="#0a7c36" stroke="#101010" stroke-opacity="0.6" stroke-width="0.75" stroke-linejoin="round"/>
<polygon points="202.68,179.93 206.95,175.02 201.76,172.98 197.5,177.8" fill="#1cb320" stroke="#101010" stroke-opacity="0.6" stroke-width="0.75" stroke-linejoin="round"/>
<polygon points="241.45,120.72 245.83,112.01 240.45,110.91 236.09,119.52" fill="#ff5400" stroke="#101010" stroke-opacity="0.6" stroke-width="0.75" stroke-linejoin="round"/>
<polygon points="166.79,195.17 171.08,192.88 166.05,189.67 161.77,191.87" fill="#0a6b3a" stroke="#101010" stroke-opacity="0.6" stroke-width="0.75" stroke-linejoin="round"/>
<polygon points="180.44,193 184.71,189.8 179.63,187.08 175.36,190.18" fill="#0a7a36" stroke="#101010" stroke-opacity="0.6" stroke-width="0.75" stroke-linejoin="round"/>
<polygon points="97.17,164.36 101.7,166 96.86,159.96 92.33,158.23" fill="#20df20" stroke="#101010" stroke-opacity="0.6" stroke-width="0.75" stroke-linejoin="round"/>
<polygon points="198.4,184.43 202.68,179.93 197.5,177.8 193.24,182.2" fill="#18a826" stroke="#101010" stroke-opacity="0.6" stroke-width="0.75" stroke-linejoin="round"/>
<polygon points="245.83,112.01 250.24,102.84 244.83,101.87 240.45,110.91" fill="#dc0000" stroke="#101010" stroke-opacity="0.6" stroke-width="0.75" stroke-linejoin="round"/>
<polygon points="153.15,195.07 157.47,193.68 152.49,189.98 148.17,191.29" fill="#0a7039" stroke="#101010" stroke-opacity="0.6" stroke-width="0.75" stroke-linejoin="round"/>
<polygon points="73.42,139.89 78.07,142.68 73.25,135.52 68.59,132.63" fill="#e6ff00" stroke="#101010" stroke-opacity="0.6" stroke-width="0.75" stroke-linejoin="round"/>
<polygon points="194.13,188.53 198.4,184.43 193.24,182.2 188.98,186.21" fill="#139f2c" stroke="#101010" stroke-opacity="0.6" stroke-width="0.75" stroke-linejoin="round"/>
<polygon points="250.24,102.84 254.68,93.23 249.24,92.37 244.83,101.87" fill="#ac0000" stroke="#101010" stroke-opacity="0.6" stroke-width="0.75" stroke-linejoin="round"/>
<polygon points="87.75,156.07 92.33,158.23 87.49,151.78 82.91,149.53" fill="#48ff18" stroke="#101010" stroke-opacity="0.6" stroke-width="0.75" stroke-linejoin="round"/>
<polygon points="120.79,183.24 125.22,183.76 120.33,178.81 115.9,178.2" fill="#1cb020" stroke="#101010" stroke-opacity="0.6" stroke-width="0.75" stroke-linejoin="round"/>
<polygon points="130.13,188.41 134.53,188.42 129.61,183.86 125.22,183.76" fill="#14a12b" stroke="#101010" stroke-opacity="0.6" stroke-width="0.75" stroke-linejoin="round"/>
<polygon points="176.15,195.78 180.44,193 175.36,190.18 171.08,192.88" fill="#0a7338" stroke="#101010" stroke-opacity="0.6" stroke-width="0.75" stroke-linejoin="round"/>
<polygon points="162.49,197.06 166.79,195.17 161.77,191.87 157.47,193.68" fill="#0a6c3a" stroke="#101010" stroke-opacity="0.6" stroke-width="0.75" stroke-linejoin="round"/>
<polygon points="111.43,177.17 115.9,178.2 111.03,172.86 106.55,171.74" fill="#1fc120" stroke="#101010" stroke-opacity="0.6" stroke-width="0.75" stroke-linejoin="round"/>
<polygon points="139.47,192.68 143.83,192.19 138.89,188.02 134.53,188.42" fill="#0d8c33" stroke="#101010" stroke-opacity="0.6" stroke-width="0.75" stroke-linejoin="round"/>
<polygon points="225.1,159.23 229.42,152.56 224.1,151.25 219.8,157.81" fill="#39f820" stroke="#101010" stroke-opacity="0.6" stroke-width="0.75" stroke-linejoin="round"/>
<polygon points="229.42,152.56 233.75,145.47 228.41,144.26 224.1,151.25" fill="#5cff04" stroke="#101010" stroke-opacity="0.6" stroke-width="0.75" stroke-linejoin="round"/>
<polygon points="220.79,165.48 225.1,159.23 219.8,157.81 215.51,163.96" fill="#20df20" stroke="#101010" stroke-opacity="0.6" stroke-width="0.75" stroke-linejoin="round"/>
<polygon points="233.75,145.47 238.1,137.94 232.74,136.85 228.41,144.26" fill="#abff00" stroke="#101010" stroke-opacity="0.6" stroke-width="0.75" stroke-linejoin="round"/>
<polygon points="216.49,171.32 220.79,165.48 215.51,163.96 211.23,169.7" fill="#20d120" stroke="#101010" stroke-opacity="0.6" stroke-width="0.75" stroke-linejoin="round"/>
<polygon points="189.85,192.22 194.13,188.53 188.98,186.21 184.71,189.8" fill="#0f9331" stroke="#101010" stroke-opacity="0.6" stroke-width="0.75" stroke-linejoin="round"/>
<polygon points="238.1,137.94 242.47,129.99 237.08,129 232.74,136.85" fill="#fff900" stroke="#101010" stroke-opacity="0.6" stroke-width="0.75" stroke-linejoin="round"/>
<polygon points="102.04,170.19 106.55,171.74 101.7,166 97.17,164.36" fill="#20d520" stroke="#101010" stroke-opacity="0.6" stroke-width="0.75" stroke-linejoin="round"/>
<polygon points="148.81,196.05 153.15,195.07 148.17,191.29 143.83,192.19" fill="#0a7737" stroke="#101010" stroke-opacity="0.6" stroke-width="0.75" stroke-linejoin="round"/>
<polygon points="212.19,176.74 216.49,171.32 211.23,169.7 206.95,175.02" fill="#1fc420" stroke="#101010" stroke-opacity="0.6" stroke-width="0.75" stroke-linejoin="round"/>
<polygon points="78.27,146.83 82.91,149.53 78.07,142.68 73.42,139.89" fill="#abff00" stroke="#101010" stroke-opacity="0.6" stroke-width="0.75" stroke-linejoin="round"/>
<polygon points="242.47,129.99 246.86,121.6 241.45,120.72 237.08,129" fill="#ffa000" stroke="#101010" stroke-opacity="0.6" stroke-width="0.75" stroke-linejoin="round"/>
<polygon points="171.85,198.17 176.15,195.78 171.08,192.88 166.79,195.17" fill="#0a6f39" stroke="#101010" stroke-opacity="0.6" stroke-width="0.75" stroke-linejoin="round"/>
<polygon points="207.9,181.74 212.19,176.74 206.95,175.02 202.68,179.93" fill="#1db820" stroke="#101010" stroke-opacity="0.6" stroke-width="0.75" stroke-linejoin="round"/>
<polygon points="92.61,162.3 97.17,164.36 92.33,158.23 87.75,156.07" fill="#35f420" stroke="#101010" stroke-opacity="0.6" stroke-width="0.75" stroke-linejoin="round"/>
<polygon points="158.16,198.54 162.49,197.06 157.47,193.68 153.15,195.07" fill="#0a6f39" stroke="#101010" stroke-opacity="0.6" stroke-width="0.75" stroke-linejoin="round"/>
<polygon points="246.86,121.6 251.28,112.76 245.83,112.01 241.45,120.72" fill="#fc2a00" stroke="#101010" stroke-opacity="0.6" stroke-width="0.75" stroke-linejoin="round"/>
<polygon points="185.56,195.5 189.85,192.22 184.71,189.8 180.44,193" fill="#0c8434" stroke="#101010" stroke-opacity="0.6" stroke-width="0.75" stroke-linejoin="round"/>
<polygon points="203.61,186.34 207.9,181.74 202.68,179.93 198.4,184.43" fill="#1bae22" stroke="#101010" stroke-opacity="0.6" stroke-width="0.75" stroke-linejoin="round"/>
<polygon points="125.71,187.98 130.13,188.41 125.22,183.76 120.79,183.24" fill="#19aa24" stroke="#101010" stroke-opacity="0.6" stroke-width="0.75" stroke-linejoin="round"/>
<polygon points="135.07,192.75 139.47,192.68 134.53,188.42 130.13,188.41" fill="#119d2e" stroke="#101010" stroke-opacity="0.6" stroke-width="0.75" stroke-linejoin="round"/>
<polygon points="116.33,182.3 120.79,183.24 115.9,178.2 111.43,177.17" fill="#1eba20" stroke="#101010" stroke-opacity="0.6" stroke-width="0.75" stroke-linejoin="round"/>
<polygon points="251.28,112.76 255.71,103.48 250.24,102.84 245.83,112.01" fill="#ca0000" stroke="#101010" stroke-opacity="0.6" stroke-width="0.75" stroke-linejoin="round"/>
<polygon points="144.44,196.63 148.81,196.05 143.83,192.19 139.47,192.68" fill="#0c8634" stroke="#101010" stroke-opacity="0.6" stroke-width="0.75" stroke-linejoin="round"/>
<polygon points="83.13,153.46 87.75,156.07 82.91,149.53 78.27,146.83" fill="#75ff00" stroke="#101010" stroke-opacity="0.6" stroke-width="0.75" stroke-linejoin="round"/>
<polygon points="106.92,175.72 111.43,177.17 106.55,171.74 102.04,170.19" fill="#20cd20" stroke="#101010" stroke-opacity="0.6" stroke-width="0.75" stroke-linejoin="round"/>
<polygon points="167.54,200.14 171.85,198.17 166.79,195.17 162.49,197.06" fill="#0a6e39" stroke="#101010" stroke-opacity="0.6" stroke-width="0.75" stroke-linejoin="round"/>
<polygon points="199.32,190.53 203.61,186.34 198.4,184.43 194.13,188.53" fill="#16a528" stroke="#101010" stroke-opacity="0.6" stroke-width="0.75" stroke-linejoin="round"/>
<polygon points="181.26,198.38 185.56,195.5 180.44,193 176.15,195.78" fill="#0a7936" stroke="#101010" stroke-opacity="0.6" stroke-width="0.75" stroke-linejoin="round"/>
<polygon points="255.71,103.48 260.18,93.74 254.68,93.23 250.24,102.84" fill="#a10000" stroke="#101010" stroke-opacity="0.6" stroke-width="0.75" stroke-linejoin="round"/>
<polygon points="153.82,199.61 158.16,198.54 153.15,195.07 148.81,196.05" fill="#0a7637" stroke="#101010" stroke-opacity="0.6" stroke-width="0.75" stroke-linejoin="round"/>
<polygon points="97.48,168.22 102.04,170.19 97.17,164.36 92.61,162.3" fill="#25e520" stroke="#101010" stroke-opacity="0.6" stroke-width="0.75" stroke-linejoin="round"/>
<polygon points="230.45,160.32 234.8,153.54 229.42,152.56 225.1,159.23" fill="#48ff18" stroke="#101010" stroke-opacity="0.6" stroke-width="0.75" stroke-linejoin="round"/>
<polygon points="234.8,153.54 239.15,146.34 233.75,145.47 229.42,152.56" fill="#7cff00" stroke="#101010" stroke-opacity="0.6" stroke-width="0.75" stroke-linejoin="round"/>
<polygon points="226.12,166.68 230.45,160.32 225.1,159.23 220.79,165.48" fill="#2beb20" stroke="#101010" stroke-opacity="0.6" stroke-width="0.75" stroke-linejoin="round"/>
<polygon points="195.03,194.31 199.32,190.53 194.13,188.53 189.85,192.22" fill="#129d2e" stroke="#101010" stroke-opacity="0.6" stroke-width="0.75" stroke-linejoin="round"/>
<polygon points="239.15,146.34 243.53,138.71 238.1,137.94 233.75,145.47" fill="#d0ff00" stroke="#101010" stroke-opacity="0.6" stroke-width="0.75" stroke-linejoin="round"/>
<polygon points="221.8,172.61 226.12,166.68 220.79,165.48 216.49,171.32" fill="#20d820" stroke="#101010" stroke-opacity="0.6" stroke-width="0.75" stroke-linejoin="round"/>
<polygon points="243.53,138.71 247.93,130.64 242.47,129.99 238.1,137.94" fill="#ffd600" stroke="#101010" stroke-opacity="0.6" stroke-width="0.75" stroke-linejoin="round"/>
<polygon points="217.49,178.13 221.8,172.61 216.49,171.32 212.19,176.74" fill="#20cb20" stroke="#101010" stroke-opacity="0.6" stroke-width="0.75" stroke-linejoin="round"/>
<polygon points="176.96,200.85 181.26,198.38 176.15,195.78 171.85,198.17" fill="#0a7537" stroke="#101010" stroke-opacity="0.6" stroke-width="0.75" stroke-linejoin="round"/>
<polygon points="163.21,201.71 167.54,200.14 162.49,197.06 158.16,198.54" fill="#0a7138" stroke="#101010" stroke-opacity="0.6" stroke-width="0.75" stroke-linejoin="round"/>
<polygon points="87.99,159.79 92.61,162.3 87.75,156.07 83.13,153.46" fill="#53ff0d" stroke="#101010" stroke-opacity="0.6" stroke-width="0.75" stroke-linejoin="round"/>
<polygon points="130.65,192.41 135.07,192.75 130.13,188.41 125.71,187.98" fill="#16a627" stroke="#101010" stroke-opacity="0.6" stroke-width="0.75" stroke-linejoin="round"/>
<polygon points="121.25,187.12 125.71,187.98 120.79,183.24 116.33,182.3" fill="#1db520" stroke="#101010" stroke-opacity="0.6" stroke-width="0.75" stroke-linejoin="round"/>
<polygon points="247.93,130.64 252.34,122.13 246.86,121.6 242.47,129.99" fill="#ff7a00" stroke="#101010" stroke-opacity="0.6" stroke-width="0.75" stroke-linejoin="round"/>
<polygon points="213.18,183.24 217.49,178.13 212.19,176.74 207.9,181.74" fill="#1ebf20" stroke="#101010" stroke-opacity="0.6" stroke-width="0.75" stroke-linejoin="round"/>
<polygon points="140.05,196.79 144.44,196.63 139.47,192.68 135.07,192.75" fill="#109a30" stroke="#101010" stroke-opacity="0.6" stroke-width="0.75" stroke-linejoin="round"/>
<polygon points="190.73,197.69 195.03,194.31 189.85,192.22 185.56,195.5" fill="#0e9232" stroke="#101010" stroke-opacity="0.6" stroke-width="0.75" stroke-linejoin="round"/>
<polygon points="111.82,180.93 116.33,182.3 111.43,177.17 106.92,175.72" fill="#20c620" stroke="#101010" stroke-opacity="0.6" stroke-width="0.75" stroke-linejoin="round"/>
<polygon points="252.34,122.13 256.79,113.18 251.28,112.76 246.86,121.6" fill="#ed0a00" stroke="#101010" stroke-opacity="0.6" stroke-width="0.75" stroke-linejoin="round"/>
<polygon points="149.45,200.27 153.82,199.61 148.81,196.05 144.44,196.63" fill="#0c8334" stroke="#101010" stroke-opacity="0.6" stroke-width="0.75" stroke-linejoin="round"/>
<polygon points="208.87,187.93 213.18,183.24 207.9,181.74 203.61,186.34" fill="#1db520" stroke="#101010" stroke-opacity="0.6" stroke-width="0.75" stroke-linejoin="round"/>
<polygon points="102.37,173.83 106.92,175.72 102.04,170.19 97.48,168.22" fill="#20db20" stroke="#101010" stroke-opacity="0.6" stroke-width="0.75" stroke-linejoin="round"/>
<polygon points="172.64,202.91 176.96,200.85 171.85,198.17 167.54,200.14" fill="#0a7438" stroke="#101010" stroke-opacity="0.6" stroke-width="0.75" stroke-linejoin="round"/>
<polygon points="256.79,113.18 261.26,103.78 255.71,103.48 251.28,112.76" fill="#bb0000" stroke="#101010" stroke-opacity="0.6" stroke-width="0.75" stroke-linejoin="round"/>
<polygon points="186.42,200.65 190.73,197.69 185.56,195.5 181.26,198.38" fill="#0c8634" stroke="#101010" stroke-opacity="0.6" stroke-width="0.75" stroke-linejoin="round"/>
<polygon points="204.57,192.22 208.87,187.93 203.61,186.34 199.32,190.53" fill="#1aab23" stroke="#101010" stroke-opacity="0.6" stroke-width="0.75" stroke-linejoin="round"/>
<polygon points="158.86,202.86 163.21,201.71 158.16,198.54 153.82,199.61" fill="#0a7837" stroke="#101010" stroke-opacity="0.6" stroke-width="0.75" stroke-linejoin="round"/>
<polygon points="92.87,165.8 97.48,168.22 92.61,162.3 87.99,159.79" fill="#3efd20" stroke="#101010" stroke-opacity="0.6" stroke-width="0.75" stroke-linejoin="round"/>
<polygon points="261.26,103.78 265.75,93.91 260.18,93.74 255.71,103.48" fill="#960000" stroke="#101010" stroke-opacity="0.6" stroke-width="0.75" stroke-linejoin="round"/>
<polygon points="126.19,191.64 130.65,192.41 125.71,187.98 121.25,187.12" fill="#1cb120" stroke="#101010" stroke-opacity="0.6" stroke-width="0.75" stroke-linejoin="round"/>
<polygon points="200.26,196.09 204.57,192.22 199.32,190.53 195.03,194.31" fill="#15a429" stroke="#101010" stroke-opacity="0.6" stroke-width="0.75" stroke-linejoin="round"/>
<polygon points="135.62,196.53 140.05,196.79 135.07,192.75 130.65,192.41" fill="#15a32a" stroke="#101010" stroke-opacity="0.6" stroke-width="0.75" stroke-linejoin="round"/>
<polygon points="116.75,185.84 121.25,187.12 116.33,182.3 111.82,180.93" fill="#1fc120" stroke="#101010" stroke-opacity="0.6" stroke-width="0.75" stroke-linejoin="round"/>
<polygon points="235.87,161.08 240.24,154.2 234.8,153.54 230.45,160.32" fill="#5bff05" stroke="#101010" stroke-opacity="0.6" stroke-width="0.75" stroke-linejoin="round"/>
<polygon points="231.51,167.54 235.87,161.08 230.45,160.32 226.12,166.68" fill="#3af920" stroke="#101010" stroke-opacity="0.6" stroke-width="0.75" stroke-linejoin="round"/>
<polygon points="240.24,154.2 244.62,146.88 239.15,146.34 234.8,153.54" fill="#a4ff00" stroke="#101010" stroke-opacity="0.6" stroke-width="0.75" stroke-linejoin="round"/>
<polygon points="182.11,203.21 186.42,200.65 181.26,198.38 176.96,200.85" fill="#0b7f35" stroke="#101010" stroke-opacity="0.6" stroke-width="0.75" stroke-linejoin="round"/>
<polygon points="168.3,204.56 172.64,202.91 167.54,200.14 163.21,201.71" fill="#0a7637" stroke="#101010" stroke-opacity="0.6" stroke-width="0.75" stroke-linejoin="round"/>
<polygon points="227.17,173.58 231.51,167.54 226.12,166.68 221.8,172.61" fill="#21e120" stroke="#101010" stroke-opacity="0.6" stroke-width="0.75" stroke-linejoin="round"/>
<polygon points="244.62,146.88 249.02,139.14 243.53,138.71 239.15,146.34" fill="#faff00" stroke="#101010" stroke-opacity="0.6" stroke-width="0.75" stroke-linejoin="round"/>
<polygon points="145.05,200.52 149.45,200.27 144.44,196.63 140.05,196.79" fill="#0f9631" stroke="#101010" stroke-opacity="0.6" stroke-width="0.75" stroke-linejoin="round"/>
<polygon points="107.28,179.14 111.82,180.93 106.92,175.72 102.37,173.83" fill="#20d420" stroke="#101010" stroke-opacity="0.6" stroke-width="0.75" stroke-linejoin="round"/>
<polygon points="222.84,179.2 227.17,173.58 221.8,172.61 217.49,178.13" fill="#20d320" stroke="#101010" stroke-opacity="0.6" stroke-width="0.75" stroke-linejoin="round"/>
<polygon points="249.02,139.14 253.45,130.95 247.93,130.64 243.53,138.71" fill="#ffaf00" stroke="#101010" stroke-opacity="0.6" stroke-width="0.75" stroke-linejoin="round"/>
<polygon points="195.95,199.56 200.26,196.09 195.03,194.31 190.73,197.69" fill="#129d2e" stroke="#101010" stroke-opacity="0.6" stroke-width="0.75" stroke-linejoin="round"/>
<polygon points="154.49,203.61 158.86,202.86 153.82,199.61 149.45,200.27" fill="#0c8434" stroke="#101010" stroke-opacity="0.6" stroke-width="0.75" stroke-linejoin="round"/>
<polygon points="218.51,184.41 222.84,179.2 217.49,178.13 213.18,183.24" fill="#20c720" stroke="#101010" stroke-opacity="0.6" stroke-width="0.75" stroke-linejoin="round"/>
<polygon points="253.45,130.95 257.89,122.33 252.34,122.13 247.93,130.64" fill="#ff4100" stroke="#101010" stroke-opacity="0.6" stroke-width="0.75" stroke-linejoin="round"/>
<polygon points="97.77,171.5 102.37,173.83 97.48,168.22 92.87,165.8" fill="#30f020" stroke="#101010" stroke-opacity="0.6" stroke-width="0.75" stroke-linejoin="round"/>
<polygon points="214.19,189.2 218.51,184.41 213.18,183.24 208.87,187.93" fill="#1ebc20" stroke="#101010" stroke-opacity="0.6" stroke-width="0.75" stroke-linejoin="round"/>
<polygon points="177.78,205.36 182.11,203.21 176.96,200.85 172.64,202.91" fill="#0a7c36" stroke="#101010" stroke-opacity="0.6" stroke-width="0.75" stroke-linejoin="round"/>
<polygon points="257.89,122.33 262.37,113.25 256.79,113.18 252.34,122.13" fill="#d60000" stroke="#101010" stroke-opacity="0.6" stroke-width="0.75" stroke-linejoin="round"/>
<polygon points="163.95,205.8 168.3,204.56 163.21,201.71 158.86,202.86" fill="#0a7c36" stroke="#101010" stroke-opacity="0.6" stroke-width="0.75" stroke-linejoin="round"/>
<polygon points="191.63,202.61 195.95,199.56 190.73,197.69 186.42,200.65" fill="#0f9731" stroke="#101010" stroke-opacity="0.6" stroke-width="0.75" stroke-linejoin="round"/>
<polygon points="131.17,195.85 135.62,196.53 130.65,192.41 126.19,191.64" fill="#1bad22" stroke="#101010" stroke-opacity="0.6" stroke-width="0.75" stroke-linejoin="round"/>
<polygon points="121.7,190.45 126.19,191.64 121.25,187.12 116.75,185.84" fill="#1ebc20" stroke="#101010" stroke-opacity="0.6" stroke-width="0.75" stroke-linejoin="round"/>
<polygon points="209.87,193.58 214.19,189.2 208.87,187.93 204.57,192.22" fill="#1db320" stroke="#101010" stroke-opacity="0.6" stroke-width="0.75" stroke-linejoin="round"/>
<polygon points="262.37,113.25 266.87,103.72 261.26,103.78 256.79,113.18" fill="#a90000" stroke="#101010" stroke-opacity="0.6" stroke-width="0.75" stroke-linejoin="round"/>
<polygon points="140.63,200.34 145.05,200.52 140.05,196.79 135.62,196.53" fill="#14a12b" stroke="#101010" stroke-opacity="0.6" stroke-width="0.75" stroke-linejoin="round"/>
<polygon points="112.21,184.13 116.75,185.84 111.82,180.93 107.28,179.14" fill="#20ce20" stroke="#101010" stroke-opacity="0.6" stroke-width="0.75" stroke-linejoin="round"/>
<polygon points="150.09,203.94 154.49,203.61 149.45,200.27 145.05,200.52" fill="#0f9731" stroke="#101010" stroke-opacity="0.6" stroke-width="0.75" stroke-linejoin="round"/>
<polygon points="173.44,207.1 177.78,205.36 172.64,202.91 168.3,204.56" fill="#0b7f35" stroke="#101010" stroke-opacity="0.6" stroke-width="0.75" stroke-linejoin="round"/>
<polygon points="205.55,197.55 209.87,193.58 204.57,192.22 200.26,196.09" fill="#1aab23" stroke="#101010" stroke-opacity="0.6" stroke-width="0.75" stroke-linejoin="round"/>
<polygon points="102.69,176.9 107.28,179.14 102.37,173.83 97.77,171.5" fill="#24e420" stroke="#101010" stroke-opacity="0.6" stroke-width="0.75" stroke-linejoin="round"/>
<polygon points="266.87,103.72 271.4,93.73 265.75,93.91 261.26,103.78" fill="#8b0000" stroke="#101010" stroke-opacity="0.6" stroke-width="0.75" stroke-linejoin="round"/>
<polygon points="187.31,205.26 191.63,202.61 186.42,200.65 182.11,203.21" fill="#0e8f32" stroke="#101010" stroke-opacity="0.6" stroke-width="0.75" stroke-linejoin="round"/>
<polygon points="241.35,161.51 245.74,154.51 240.24,154.2 235.87,161.08" fill="#82ff00" stroke="#101010" stroke-opacity="0.6" stroke-width="0.75" stroke-linejoin="round"/>
<polygon points="236.97,168.07 241.35,161.51 235.87,161.08 231.51,167.54" fill="#4dff13" stroke="#101010" stroke-opacity="0.6" stroke-width="0.75" stroke-linejoin="round"/>
<polygon points="245.74,154.51 250.15,147.08 244.62,146.88 240.24,154.2" fill="#d2ff00" stroke="#101010" stroke-opacity="0.6" stroke-width="0.75" stroke-linejoin="round"/>
<polygon points="232.61,174.22 236.97,168.07 231.51,167.54 227.17,173.58" fill="#31f020" stroke="#101010" stroke-opacity="0.6" stroke-width="0.75" stroke-linejoin="round"/>
<polygon points="159.57,206.63 163.95,205.8 158.86,202.86 154.49,203.61" fill="#0d8933" stroke="#101010" stroke-opacity="0.6" stroke-width="0.75" stroke-linejoin="round"/>
<polygon points="250.15,147.08 254.58,139.22 249.02,139.14 244.62,146.88" fill="#ffd800" stroke="#101010" stroke-opacity="0.6" stroke-width="0.75" stroke-linejoin="round"/>
<polygon points="228.25,179.94 232.61,174.22 227.17,173.58 222.84,179.2" fill="#20dd20" stroke="#101010" stroke-opacity="0.6" stroke-width="0.75" stroke-linejoin="round"/>
<polygon points="201.22,201.11 205.55,197.55 200.26,196.09 195.95,199.56" fill="#16a528" stroke="#101010" stroke-opacity="0.6" stroke-width="0.75" stroke-linejoin="round"/>
<polygon points="254.58,139.22 259.04,130.92 253.45,130.95 249.02,139.14" fill="#ff8200" stroke="#101010" stroke-opacity="0.6" stroke-width="0.75" stroke-linejoin="round"/>
<polygon points="223.91,185.25 228.25,179.94 222.84,179.2 218.51,184.41" fill="#20d020" stroke="#101010" stroke-opacity="0.6" stroke-width="0.75" stroke-linejoin="round"/>
<polygon points="126.68,194.74 131.17,195.85 126.19,191.64 121.7,190.45" fill="#1db920" stroke="#101010" stroke-opacity="0.6" stroke-width="0.75" stroke-linejoin="round"/>
<polygon points="182.97,207.5 187.31,205.26 182.11,203.21 177.78,205.36" fill="#0d8b33" stroke="#101010" stroke-opacity="0.6" stroke-width="0.75" stroke-linejoin="round"/>
<polygon points="259.04,130.92 263.51,122.17 257.89,122.33 253.45,130.95" fill="#f11300" stroke="#101010" stroke-opacity="0.6" stroke-width="0.75" stroke-linejoin="round"/>
<polygon points="136.18,199.75 140.63,200.34 135.62,196.53 131.17,195.85" fill="#1aac23" stroke="#101010" stroke-opacity="0.6" stroke-width="0.75" stroke-linejoin="round"/>
<polygon points="117.17,188.82 121.7,190.45 116.75,185.84 112.21,184.13" fill="#20c920" stroke="#101010" stroke-opacity="0.6" stroke-width="0.75" stroke-linejoin="round"/>
<polygon points="169.08,208.43 173.44,207.1 168.3,204.56 163.95,205.8" fill="#0c8634" stroke="#101010" stroke-opacity="0.6" stroke-width="0.75" stroke-linejoin="round"/>
<polygon points="219.57,190.14 223.91,185.25 218.51,184.41 214.19,189.2" fill="#20c520" stroke="#101010" stroke-opacity="0.6" stroke-width="0.75" stroke-linejoin="round"/>
<polygon points="145.67,203.85 150.09,203.94 145.05,200.52 140.63,200.34" fill="#14a12b" stroke="#101010" stroke-opacity="0.6" stroke-width="0.75" stroke-linejoin="round"/>
<polygon points="196.89,204.26 201.22,201.11 195.95,199.56 191.63,202.61" fill="#13a02c" stroke="#101010" stroke-opacity="0.6" stroke-width="0.75" stroke-linejoin="round"/>
<polygon points="107.63,181.98 112.21,184.13 107.28,179.14 102.69,176.9" fill="#20dd20" stroke="#101010" stroke-opacity="0.6" stroke-width="0.75" stroke-linejoin="round"/>
<polygon points="263.51,122.17 268.02,112.97 262.37,113.25 257.89,122.33" fill="#c00000" stroke="#101010" stroke-opacity="0.6" stroke-width="0.75" stroke-linejoin="round"/>
<polygon points="215.23,194.62 219.57,190.14 214.19,189.2 209.87,193.58" fill="#1ebc20" stroke="#101010" stroke-opacity="0.6" stroke-width="0.75" stroke-linejoin="round"/>
<polygon points="155.17,207.05 159.57,206.63 154.49,203.61 150.09,203.94" fill="#109a30" stroke="#101010" stroke-opacity="0.6" stroke-width="0.75" stroke-linejoin="round"/>
<polygon points="268.02,112.97 272.56,103.32 266.87,103.72 262.37,113.25" fill="#9b0000" stroke="#101010" stroke-opacity="0.6" stroke-width="0.75" stroke-linejoin="round"/>
<polygon points="178.62,209.33 182.97,207.5 177.78,205.36 173.44,207.1" fill="#0e8d32" stroke="#101010" stroke-opacity="0.6" stroke-width="0.75" stroke-linejoin="round"/>
<polygon points="192.56,206.99 196.89,204.26 191.63,202.61 187.31,205.26" fill="#129d2e" stroke="#101010" stroke-opacity="0.6" stroke-width="0.75" stroke-linejoin="round"/>
<polygon points="210.89,198.68 215.23,194.62 209.87,193.58 205.55,197.55" fill="#1db420" stroke="#101010" stroke-opacity="0.6" stroke-width="0.75" stroke-linejoin="round"/>
<polygon points="164.7,209.34 169.08,208.43 163.95,205.8 159.57,206.63" fill="#0e9232" stroke="#101010" stroke-opacity="0.6" stroke-width="0.75" stroke-linejoin="round"/>
<polygon points="272.56,103.32 277.12,93.19 271.4,93.73 266.87,103.72" fill="#820000" stroke="#101010" stroke-opacity="0.6" stroke-width="0.75" stroke-linejoin="round"/>
<polygon points="131.69,198.72 136.18,199.75 131.17,195.85 126.68,194.74" fill="#1db720" stroke="#101010" stroke-opacity="0.6" stroke-width="0.75" stroke-linejoin="round"/>
<polygon points="122.15,193.2 126.68,194.74 121.7,190.45 117.17,188.82" fill="#20c620" stroke="#101010" stroke-opacity="0.6" stroke-width="0.75" stroke-linejoin="round"/>
<polygon points="141.22,203.33 145.67,203.85 140.63,200.34 136.18,199.75" fill="#19ab24" stroke="#101010" stroke-opacity="0.6" stroke-width="0.75" stroke-linejoin="round"/>
<polygon points="206.55,202.33 210.89,198.68 205.55,197.55 201.22,201.11" fill="#1bae21" stroke="#101010" stroke-opacity="0.6" stroke-width="0.75" stroke-linejoin="round"/>
<polygon points="112.59,186.76 117.17,188.82 112.21,184.13 107.63,181.98" fill="#20d820" stroke="#101010" stroke-opacity="0.6" stroke-width="0.75" stroke-linejoin="round"/>
<polygon points="150.75,207.04 155.17,207.05 150.09,203.94 145.67,203.85" fill="#15a22a" stroke="#101010" stroke-opacity="0.6" stroke-width="0.75" stroke-linejoin="round"/>
<polygon points="188.21,209.32 192.56,206.99 187.31,205.26 182.97,207.5" fill="#119c2f" stroke="#101010" stroke-opacity="0.6" stroke-width="0.75" stroke-linejoin="round"/>
<polygon points="174.25,210.74 178.62,209.33 173.44,207.1 169.08,208.43" fill="#0f9331" stroke="#101010" stroke-opacity="0.6" stroke-width="0.75" stroke-linejoin="round"/>
<polygon points="202.21,205.57 206.55,202.33 201.22,201.11 196.89,204.26" fill="#18a925" stroke="#101010" stroke-opacity="0.6" stroke-width="0.75" stroke-linejoin="round"/>
<polygon points="160.29,209.84 164.7,209.34 159.57,206.63 155.17,207.05" fill="#129d2e" stroke="#101010" stroke-opacity="0.6" stroke-width="0.75" stroke-linejoin="round"/>
<polygon points="183.85,211.23 188.21,209.32 182.97,207.5 178.62,209.33" fill="#119c2f" stroke="#101010" stroke-opacity="0.6" stroke-width="0.75" stroke-linejoin="round"/>
<polygon points="127.16,197.27 131.69,198.72 126.68,194.74 122.15,193.2" fill="#1fc320" stroke="#101010" stroke-opacity="0.6" stroke-width="0.75" stroke-linejoin="round"/>
<polygon points="169.87,211.74 174.25,210.74 169.08,208.43 164.7,209.34" fill="#119c2f" stroke="#101010" stroke-opacity="0.6" stroke-width="0.75" stroke-linejoin="round"/>
<polygon points="136.73,202.39 141.22,203.33 136.18,199.75 131.69,198.72" fill="#1db620" stroke="#101010" stroke-opacity="0.6" stroke-width="0.75" stroke-linejoin="round"/>
<polygon points="197.86,208.4 202.21,205.57 196.89,204.26 192.56,206.99" fill="#16a528" stroke="#101010" stroke-opacity="0.6" stroke-width="0.75" stroke-linejoin="round"/>
<polygon points="117.58,191.22 122.15,193.2 117.17,188.82 112.59,186.76" fill="#20d420" stroke="#101010" stroke-opacity="0.6" stroke-width="0.75" stroke-linejoin="round"/>
<polygon points="146.29,206.61 150.75,207.04 145.67,203.85 141.22,203.33" fill="#1aac23" stroke="#101010" stroke-opacity="0.6" stroke-width="0.75" stroke-linejoin="round"/>
<polygon points="155.87,209.92 160.29,209.84 155.17,207.05 150.75,207.04" fill="#16a528" stroke="#101010" stroke-opacity="0.6" stroke-width="0.75" stroke-linejoin="round"/>
<polygon points="179.47,212.73 183.85,211.23 178.62,209.33 174.25,210.74" fill="#129e2d" stroke="#101010" stroke-opacity="0.6" stroke-width="0.75" stroke-linejoin="round"/>
<polygon points="193.5,210.82 197.86,208.4 192.56,206.99 188.21,209.32" fill="#15a429" stroke="#101010" stroke-opacity="0.6" stroke-width="0.75" stroke-linejoin="round"/>
<polygon points="165.46,212.32 169.87,211.74 164.7,209.34 160.29,209.84" fill="#14a12b" stroke="#101010" stroke-opacity="0.6" stroke-width="0.75" stroke-linejoin="round"/>
<polygon points="132.21,201.02 136.73,202.39 131.69,198.72 127.16,197.27" fill="#1fc220" stroke="#101010" stroke-opacity="0.6" stroke-width="0.75" stroke-linejoin="round"/>
<polygon points="122.6,195.37 127.16,197.27 122.15,193.2 117.58,191.22" fill="#20d120" stroke="#101010" stroke-opacity="0.6" stroke-width="0.75" stroke-linejoin="round"/>
<polygon points="141.81,205.75 146.29,206.61 141.22,203.33 136.73,202.39" fill="#1db720" stroke="#101010" stroke-opacity="0.6" stroke-width="0.75" stroke-linejoin="round"/>
<polygon points="189.13,212.82 193.5,210.82 188.21,209.32 183.85,211.23" fill="#15a429" stroke="#101010" stroke-opacity="0.6" stroke-width="0.75" stroke-linejoin="round"/>
<polygon points="175.08,213.81 179.47,212.73 174.25,210.74 169.87,211.74" fill="#14a22b" stroke="#101010" stroke-opacity="0.6" stroke-width="0.75" stroke-linejoin="round"/>
<polygon points="151.41,209.57 155.87,209.92 150.75,207.04 146.29,206.61" fill="#1bae21" stroke="#101010" stroke-opacity="0.6" stroke-width="0.75" stroke-linejoin="round"/>
<polygon points="161.03,212.48 165.46,212.32 160.29,209.84 155.87,209.92" fill="#18a925" stroke="#101010" stroke-opacity="0.6" stroke-width="0.75" stroke-linejoin="round"/>
<polygon points="184.75,214.4 189.13,212.82 183.85,211.23 179.47,212.73" fill="#16a528" stroke="#101010" stroke-opacity="0.6" stroke-width="0.75" stroke-linejoin="round"/>
<polygon points="170.67,214.48 175.08,213.81 169.87,211.74 165.46,212.32" fill="#17a727" stroke="#101010" stroke-opacity="0.6" stroke-width="0.75" stroke-linejoin="round"/>
<polygon points="127.64,199.21 132.21,201.02 127.16,197.27 122.6,195.37" fill="#20d020" stroke="#101010" stroke-opacity="0.6" stroke-width="0.75" stroke-linejoin="round"/>
<polygon points="137.28,204.46 141.81,205.75 136.73,202.39 132.21,201.02" fill="#1fc320" stroke="#101010" stroke-opacity="0.6" stroke-width="0.75" stroke-linejoin="round"/>
<polygon points="146.92,208.79 151.41,209.57 146.29,206.61 141.81,205.75" fill="#1db820" stroke="#101010" stroke-opacity="0.6" stroke-width="0.75" stroke-linejoin="round"/>
<polygon points="156.57,212.21 161.03,212.48 155.87,209.92 151.41,209.57" fill="#1cb220" stroke="#101010" stroke-opacity="0.6" stroke-width="0.75" stroke-linejoin="round"/>
<polygon points="180.35,215.57 184.75,214.4 179.47,212.73 175.08,213.81" fill="#18a925" stroke="#101010" stroke-opacity="0.6" stroke-width="0.75" stroke-linejoin="round"/>
<polygon points="166.23,214.72 170.67,214.48 165.46,212.32 161.03,212.48" fill="#1bae21" stroke="#101010" stroke-opacity="0.6" stroke-width="0.75" stroke-linejoin="round"/>
<polygon points="132.73,202.73 137.28,204.46 132.21,201.02 127.64,199.21" fill="#20d020" stroke="#101010" stroke-opacity="0.6" stroke-width="0.75" stroke-linejoin="round"/>
<polygon points="142.4,207.58 146.92,208.79 141.81,205.75 137.28,204.46" fill="#1fc420" stroke="#101010" stroke-opacity="0.6" stroke-width="0.75" stroke-linejoin="round"/>
<polygon points="175.93,216.31 180.35,215.57 175.08,213.81 170.67,214.48" fill="#1bae22" stroke="#101010" stroke-opacity="0.6" stroke-width="0.75" stroke-linejoin="round"/>
<polygon points="152.08,211.52 156.57,212.21 151.41,209.57 146.92,208.79" fill="#1ebb20" stroke="#101010" stroke-opacity="0.6" stroke-width="0.75" stroke-linejoin="round"/>
<polygon points="161.77,214.54 166.23,214.72 161.03,212.48 156.57,212.21" fill="#1db620" stroke="#101010" stroke-opacity="0.6" stroke-width="0.75" stroke-linejoin="round"/>
<polygon points="171.49,216.64 175.93,216.31 170.67,214.48 166.23,214.72" fill="#1db420" stroke="#101010" stroke-opacity="0.6" stroke-width="0.75" stroke-linejoin="round"/>
<polygon points="137.84,205.94 142.4,207.58 137.28,204.46 132.73,202.73" fill="#20d120" stroke="#101010" stroke-opacity="0.6" stroke-width="0.75" stroke-linejoin="round"/>
<polygon points="147.56,210.39 152.08,211.52 146.92,208.79 142.4,207.58" fill="#20c720" stroke="#101010" stroke-opacity="0.6" stroke-width="0.75" stroke-linejoin="round"/>
<polygon points="157.28,213.92 161.77,214.54 156.57,212.21 152.08,211.52" fill="#1fc020" stroke="#101010" stroke-opacity="0.6" stroke-width="0.75" stroke-linejoin="round"/>
<polygon points="167.02,216.54 171.49,216.64 166.23,214.72 161.77,214.54" fill="#1ebc20" stroke="#101010" stroke-opacity="0.6" stroke-width="0.75" stroke-linejoin="round"/>
<polygon points="143,208.82 147.56,210.39 142.4,207.58 137.84,205.94" fill="#20d420" stroke="#101010" stroke-opacity="0.6" stroke-width="0.75" stroke-linejoin="round"/>
<polygon points="152.76,212.87 157.28,213.92 152.08,211.52 147.56,210.39" fill="#20cb20" stroke="#101010" stroke-opacity="0.6" stroke-width="0.75" stroke-linejoin="round"/>
<polygon points="162.53,216 167.02,216.54 161.77,214.54 157.28,213.92" fill="#20c520" stroke="#101010" stroke-opacity="0.6" stroke-width="0.75" stroke-linejoin="round"/>
<polygon points="148.2,211.38 152.76,212.87 147.56,210.39 143,208.82" fill="#20d720" stroke="#101010" stroke-opacity="0.6" stroke-width="0.75" stroke-linejoin="round"/>
<polygon points="158,215.03 162.53,216 157.28,213.92 152.76,212.87" fill="#20d020" stroke="#101010" stroke-opacity="0.6" stroke-width="0.75" stroke-linejoin="round"/>
<polygon points="153.44,213.62 158,215.03 152.76,212.87 148.2,211.38" fill="#20dc20" stroke="#101010" stroke-opacity="0.6" stroke-width="0.75" stroke-linejoin="round"/>
<polygon points="153.44,213.62 158,215.03 162.53,216 167.02,216.54 171.49,216.64 175.93,216.31 180.35,215.57 184.75,214.4 189.13,212.82 193.5,210.82 197.86,208.4 202.21,205.57 206.55,202.33 210.89,198.68 215.23,194.62 219.57,190.14 223.91,185.25 228.25,179.94 232.61,174.22 236.97,168.07 241.35,161.51 245.74,154.51 250.15,147.08 254.58,139.22 259.04,130.92 263.51,122.17 268.02,112.97 272.56,103.32 277.12,93.19 277.12,93.19 271.4,93.73 265.75,93.91 260.18,93.74 254.68,93.23 249.24,92.37 243.86,91.18 238.54,89.65 233.28,87.79 228.07,85.61 222.91,83.1 217.8,80.27 212.74,77.12 207.71,73.66 202.73,69.88 197.79,65.79 192.87,61.39 188,56.67 183.15,51.65 178.33,46.31 173.53,40.66 173.53,40.66 169.43,48.65 165.34,56.2 161.25,63.34 157.16,70.05 153.08,76.35 148.99,82.24 144.9,87.73 140.8,92.8 136.69,97.47 132.57,101.74 128.45,105.61 124.3,109.08 120.14,112.14 115.96,114.81 111.76,117.07 107.54,118.94 103.29,120.4 99.01,121.45 94.7,122.1 90.36,122.33 85.98,122.16 81.56,121.56 77.1,120.55 72.6,119.11 68.05,117.24 63.45,114.93 58.8,112.18 54.1,108.98 54.1,108.98 58.92,117.18 63.75,125.06 68.59,132.63 73.42,139.89 78.27,146.83 83.13,153.46 87.99,159.79 92.87,165.8 97.77,171.5 102.69,176.9 107.63,181.98 112.59,186.76 117.58,191.22 122.6,195.37 127.64,199.21 132.73,202.73 137.84,205.94 143,208.82 148.2,211.38 153.44,213.62" fill="none" stroke="#181818" stroke-opacity="0.75" stroke-width="0.8" stroke-linejoin="round"/>
<polyline points="57.67,191.04 153.53,263.03 271.64,202.62" fill="none" stroke="#404040" stroke-width="1"/>
<line x1="143.3" y1="255.34" x2="141.74" y2="256.13" stroke="#404040" stroke-width="0.9"/>
<line x1="133.21" y1="247.77" x2="131.66" y2="248.55" stroke="#404040" stroke-width="0.9"/>
<line x1="123.28" y1="240.31" x2="121.73" y2="241.08" stroke="#404040" stroke-width="0.9"/>
<line x1="113.5" y1="232.96" x2="111.95" y2="233.71" stroke="#404040" stroke-width="0.9"/>
<line x1="103.85" y1="225.72" x2="102.31" y2="226.46" stroke="#404040" stroke-width="0.9"/>
<line x1="94.35" y1="218.58" x2="92.81" y2="219.31" stroke="#404040" stroke-width="0.9"/>
<line x1="84.98" y1="211.55" x2="83.45" y2="212.27" stroke="#404040" stroke-width="0.9"/>
<line x1="75.75" y1="204.61" x2="74.22" y2="205.32" stroke="#404040" stroke-width="0.9"/>
<line x1="66.65" y1="197.78" x2="65.12" y2="198.48" stroke="#404040" stroke-width="0.9"/>
<line x1="169.06" y1="255.09" x2="173.21" y2="258.15" stroke="#404040" stroke-width="0.9"/>
<line x1="184.35" y1="247.27" x2="188.52" y2="250.28" stroke="#404040" stroke-width="0.9"/>
<line x1="199.43" y1="239.56" x2="203.61" y2="242.53" stroke="#404040" stroke-width="0.9"/>
<line x1="214.29" y1="231.96" x2="218.48" y2="234.88" stroke="#404040" stroke-width="0.9"/>
<line x1="228.93" y1="224.47" x2="233.14" y2="227.35" stroke="#404040" stroke-width="0.9"/>
<line x1="243.37" y1="217.08" x2="247.59" y2="219.92" stroke="#404040" stroke-width="0.9"/>
<line x1="257.61" y1="209.8" x2="261.84" y2="212.6" stroke="#404040" stroke-width="0.9"/>
<text transform="matrix(0.91 -0.41 0.04 1 50.02 176.68)" font-family="Liberation Serif" font-size="11" text-anchor="end" stroke="#1a1a1a" stroke-width="0.18"  >700</text>
<text transform="matrix(0.92 -0.4 0.04 1 49.03 155.47)" font-family="Liberation Serif" font-size="11" text-anchor="end" stroke="#1a1a1a" stroke-width="0.18"  >800</text>
<text transform="matrix(0.92 -0.39 0.04 1 48.02 133.86)" font-family="Liberation Serif" font-size="11" text-anchor="end" stroke="#1a1a1a" stroke-width="0.18"  >900</text>
<text transform="matrix(0.92 -0.39 0.04 1 47 111.84)" font-family="Liberation Serif" font-size="11" text-anchor="end" stroke="#1a1a1a" stroke-width="0.18"  >1,000</text>
<text transform="matrix(0.93 -0.38 0.04 1 45.95 89.42)" font-family="Liberation Serif" font-size="11" text-anchor="end" stroke="#1a1a1a" stroke-width="0.18"  >1,100</text>
<text transform="matrix(0.93 -0.37 0.04 1 44.89 66.56)" font-family="Liberation Serif" font-size="11" text-anchor="end" stroke="#1a1a1a" stroke-width="0.18"  >1,200</text>
<text transform="matrix(0.91 -0.42 0.8 0.6 54.02 195.7)" font-family="Liberation Serif" font-size="11" text-anchor="end" stroke="#1a1a1a" stroke-width="0.18"  >150</text>
<text transform="matrix(0.91 -0.42 0.8 0.6 62.98 202.47)" font-family="Liberation Serif" font-size="11" text-anchor="end" stroke="#1a1a1a" stroke-width="0.18"  >140</text>
<text transform="matrix(0.91 -0.42 0.8 0.6 72.07 209.33)" font-family="Liberation Serif" font-size="11" text-anchor="end" stroke="#1a1a1a" stroke-width="0.18"  >130</text>
<text transform="matrix(0.9 -0.43 0.8 0.6 81.3 216.28)" font-family="Liberation Serif" font-size="11" text-anchor="end" stroke="#1a1a1a" stroke-width="0.18"  >120</text>
<text transform="matrix(0.9 -0.43 0.8 0.6 90.65 223.34)" font-family="Liberation Serif" font-size="11" text-anchor="end" stroke="#1a1a1a" stroke-width="0.18"  >110</text>
<text transform="matrix(0.9 -0.43 0.8 0.6 100.14 230.51)" font-family="Liberation Serif" font-size="11" text-anchor="end" stroke="#1a1a1a" stroke-width="0.18"  >100</text>
<text transform="matrix(0.9 -0.44 0.8 0.6 109.78 237.77)" font-family="Liberation Serif" font-size="11" text-anchor="end" stroke="#1a1a1a" stroke-width="0.18"  >90</text>
<text transform="matrix(0.9 -0.44 0.8 0.6 119.55 245.15)" font-family="Liberation Serif" font-size="11" text-anchor="end" stroke="#1a1a1a" stroke-width="0.18"  >80</text>
<text transform="matrix(0.89 -0.45 0.8 0.6 129.48 252.64)" font-family="Liberation Serif" font-size="11" text-anchor="end" stroke="#1a1a1a" stroke-width="0.18"  >70</text>
<text transform="matrix(0.89 -0.45 0.8 0.6 139.55 260.24)" font-family="Liberation Serif" font-size="11" text-anchor="end" stroke="#1a1a1a" stroke-width="0.18"  >60</text>
<text transform="matrix(0.89 -0.46 0.8 0.6 149.77 267.95)" font-family="Liberation Serif" font-size="11" text-anchor="end" stroke="#1a1a1a" stroke-width="0.18"  >50</text>
<text transform="matrix(0.8 0.6 -0.89 0.46 154.07 269.14)" font-family="Liberation Serif" font-size="11" text-anchor="start" stroke="#1a1a1a" stroke-width="0.18"  >6.0</text>
<text transform="matrix(0.81 0.59 -0.89 0.46 169.61 261.15)" font-family="Liberation Serif" font-size="11" text-anchor="start" stroke="#1a1a1a" stroke-width="0.18"  >6.5</text>
<text transform="matrix(0.81 0.59 -0.89 0.46 184.92 253.28)" font-family="Liberation Serif" font-size="11" text-anchor="start" stroke="#1a1a1a" stroke-width="0.18"  >7.0</text>
<text transform="matrix(0.82 0.58 -0.89 0.46 200.01 245.53)" font-family="Liberation Serif" font-size="11" text-anchor="start" stroke="#1a1a1a" stroke-width="0.18"  >7.5</text>
<text transform="matrix(0.82 0.57 -0.89 0.46 214.88 237.88)" font-family="Liberation Serif" font-size="11" text-anchor="start" stroke="#1a1a1a" stroke-width="0.18"  >8.0</text>
<text transform="matrix(0.83 0.56 -0.89 0.46 229.54 230.35)" font-family="Liberation Serif" font-size="11" text-anchor="start" stroke="#1a1a1a" stroke-width="0.18"  >8.5</text>
<text transform="matrix(0.83 0.56 -0.89 0.46 243.99 222.92)" font-family="Liberation Serif" font-size="11" text-anchor="start" stroke="#1a1a1a" stroke-width="0.18"  >9.0</text>
<text transform="matrix(0.83 0.55 -0.89 0.46 258.24 215.6)" font-family="Liberation Serif" font-size="11" text-anchor="start" stroke="#1a1a1a" stroke-width="0.18"  >9.5</text>
<text transform="matrix(0.84 0.55 -0.89 0.46 272.29 208.38)" font-family="Liberation Serif" font-size="11" text-anchor="start" stroke="#1a1a1a" stroke-width="0.18"  >10</text>
<text transform="matrix(0.8 0.6 -0.9 0.43 70 244)" font-family="Liberation Serif" font-size="11.5" text-anchor="middle" stroke="#1a1a1a" stroke-width="0.18"  >Protease (U/mL)</text>
<text transform="matrix(0.82 0.57 -0.89 0.46 240.2 254.2)" font-family="Liberation Serif" font-size="12" text-anchor="middle" stroke="#1a1a1a" stroke-width="0.18"  >pH</text>
<text transform="matrix(0.04 1 -0.92 0.39 7 147)" font-family="Liberation Serif" font-size="12.4" text-anchor="middle" stroke="#1a1a1a" stroke-width="0.18"  >Trolox EQ (&#956;mol/g)</text>
<path d="M217.37,540.32 L219.69,539.12 L222.7,537.57 L225.69,536.02 L227.9,534.87 L225.18,533.04 L222.46,531.22 L219.76,529.4 L217.07,527.59 L214.39,525.79 L211.72,523.99 L209.06,522.2 L206.41,520.42 L203.77,518.64 L201.14,516.87 L198.52,515.1 L195.91,513.35 L193.31,511.6 L190.72,509.85 L188.14,508.12 L185.57,506.38 L183,504.66 L180.45,502.94 L177.91,501.23 L175.37,499.52 L172.85,497.82 L170.33,496.13 L167.82,494.44 L165.33,492.76 L162.84,491.09 L160.36,489.42 L157.89,487.75 L155.43,486.1 L152.97,484.45 L150.53,482.8 L148.09,481.16 L145.67,479.53 L143.25,477.9 L140.84,476.28 L138.44,474.67 L136.05,473.06 L133.66,471.45 L131.29,469.85 L128.92,468.26 L127.13,467.3 L124.2,468.63 L121.26,469.97 L118.31,471.3 L117.8,472.43 L120.16,474.04 L122.52,475.65 L124.9,477.27 L127.28,478.89 L129.68,480.53 L132.08,482.16 L134.49,483.81 L136.9,485.45 L139.33,487.11 L141.77,488.77 L144.21,490.44 L146.67,492.11 L149.13,493.79 L151.6,495.47 L154.08,497.17 L156.57,498.86 L159.07,500.57 L161.58,502.28 L164.09,503.99 L166.62,505.72 L169.16,507.45 L171.7,509.18 L174.26,510.92 L176.82,512.67 L179.39,514.43 L181.98,516.19 L184.57,517.96 L187.17,519.73 L189.79,521.51 L192.41,523.3 L195.04,525.1 L197.68,526.9 L200.34,528.71 L203,530.52 L205.67,532.34 L208.35,534.17 L211.05,536.01 L213.75,537.85 L216.46,539.7Z" fill="#f3f9ec" fill-rule="evenodd"/>
<path d="M227.9,534.87 L230.65,533.45 L233.61,531.92 L236.57,530.39 L239.52,528.86 L242.45,527.34 L245.38,525.83 L248.29,524.32 L247,522.85 L244.28,521.07 L241.57,519.29 L238.87,517.52 L236.18,515.75 L233.49,513.99 L230.82,512.24 L228.16,510.5 L225.51,508.76 L222.87,507.03 L220.24,505.3 L217.61,503.58 L215,501.87 L212.4,500.16 L209.8,498.46 L207.22,496.76 L204.65,495.07 L202.08,493.39 L199.52,491.71 L196.98,490.04 L194.44,488.38 L191.91,486.72 L189.39,485.07 L186.88,483.42 L184.38,481.78 L181.89,480.15 L179.41,478.52 L176.93,476.9 L174.47,475.28 L172.01,473.67 L169.56,472.06 L167.12,470.46 L164.69,468.87 L162.27,467.28 L159.86,465.7 L157.45,464.12 L155.06,462.55 L152.67,460.98 L150.29,459.42 L147.92,457.87 L145.49,458.97 L142.61,460.27 L139.73,461.58 L136.84,462.9 L133.94,464.21 L131.03,465.53 L128.11,466.86 L128.92,468.26 L131.29,469.85 L133.66,471.45 L136.05,473.06 L138.44,474.67 L140.84,476.28 L143.25,477.9 L145.67,479.53 L148.09,481.16 L150.53,482.8 L152.97,484.45 L155.43,486.1 L157.89,487.75 L160.36,489.42 L162.84,491.09 L165.33,492.76 L167.82,494.44 L170.33,496.13 L172.85,497.82 L175.37,499.52 L177.91,501.23 L180.45,502.94 L183,504.66 L185.57,506.38 L188.14,508.12 L190.72,509.85 L193.31,511.6 L195.91,513.35 L198.52,515.1 L201.14,516.87 L203.77,518.64 L206.41,520.42 L209.06,522.2 L211.72,523.99 L214.39,525.79 L217.07,527.59 L219.76,529.4 L222.46,531.22 L225.18,533.04 L227.9,534.87Z" fill="#fbf9e6" fill-rule="evenodd"/>
<line x1="171.19" y1="564.21" x2="71.78" y2="492.43" stroke="#ecdede" stroke-width="0.7"/>
<line x1="186.78" y1="556.15" x2="87.04" y2="485.5" stroke="#ecdede" stroke-width="0.7"/>
<line x1="202.11" y1="548.21" x2="102.05" y2="478.69" stroke="#ecdede" stroke-width="0.7"/>
<line x1="217.19" y1="540.42" x2="116.83" y2="471.98" stroke="#ecdede" stroke-width="0.7"/>
<line x1="232.01" y1="532.75" x2="131.39" y2="465.37" stroke="#ecdede" stroke-width="0.7"/>
<line x1="246.59" y1="525.2" x2="145.72" y2="458.86" stroke="#ecdede" stroke-width="0.7"/>
<line x1="260.94" y1="517.78" x2="159.84" y2="452.45" stroke="#ecdede" stroke-width="0.7"/>
<line x1="144.73" y1="564.61" x2="264.26" y2="503.62" stroke="#ecdede" stroke-width="0.7"/>
<line x1="134.3" y1="556.92" x2="253.62" y2="496.86" stroke="#ecdede" stroke-width="0.7"/>
<line x1="124.02" y1="549.35" x2="243.13" y2="490.2" stroke="#ecdede" stroke-width="0.7"/>
<line x1="113.9" y1="541.9" x2="232.79" y2="483.64" stroke="#ecdede" stroke-width="0.7"/>
<line x1="103.94" y1="534.56" x2="222.6" y2="477.17" stroke="#ecdede" stroke-width="0.7"/>
<line x1="94.12" y1="527.33" x2="212.56" y2="470.79" stroke="#ecdede" stroke-width="0.7"/>
<line x1="84.45" y1="520.2" x2="202.65" y2="464.5" stroke="#ecdede" stroke-width="0.7"/>
<line x1="74.92" y1="513.19" x2="192.88" y2="458.29" stroke="#ecdede" stroke-width="0.7"/>
<line x1="65.54" y1="506.27" x2="183.25" y2="452.18" stroke="#ecdede" stroke-width="0.7"/>
<line x1="71.78" y1="492.43" x2="66.54" y2="358.08" stroke="#dadada" stroke-width="0.8"/>
<line x1="87.04" y1="485.5" x2="82.75" y2="351.86" stroke="#dadada" stroke-width="0.8"/>
<line x1="102.05" y1="478.69" x2="98.69" y2="345.75" stroke="#dadada" stroke-width="0.8"/>
<line x1="116.83" y1="471.98" x2="114.37" y2="339.73" stroke="#dadada" stroke-width="0.8"/>
<line x1="131.39" y1="465.37" x2="129.8" y2="333.81" stroke="#dadada" stroke-width="0.8"/>
<line x1="145.72" y1="458.86" x2="144.98" y2="327.98" stroke="#dadada" stroke-width="0.8"/>
<line x1="159.84" y1="452.45" x2="159.92" y2="322.25" stroke="#dadada" stroke-width="0.8"/>
<line x1="173.75" y1="446.14" x2="174.61" y2="316.61" stroke="#dadada" stroke-width="0.8"/>
<line x1="275.05" y1="510.48" x2="282.22" y2="374.8" stroke="#dadada" stroke-width="0.8"/>
<line x1="264.26" y1="503.62" x2="270.71" y2="368.57" stroke="#dadada" stroke-width="0.8"/>
<line x1="253.62" y1="496.86" x2="259.38" y2="362.44" stroke="#dadada" stroke-width="0.8"/>
<line x1="243.13" y1="490.2" x2="248.21" y2="356.41" stroke="#dadada" stroke-width="0.8"/>
<line x1="232.79" y1="483.64" x2="237.22" y2="350.47" stroke="#dadada" stroke-width="0.8"/>
<line x1="222.6" y1="477.17" x2="226.4" y2="344.61" stroke="#dadada" stroke-width="0.8"/>
<line x1="212.56" y1="470.79" x2="215.73" y2="338.85" stroke="#dadada" stroke-width="0.8"/>
<line x1="202.65" y1="464.5" x2="205.22" y2="333.16" stroke="#dadada" stroke-width="0.8"/>
<line x1="192.88" y1="458.29" x2="194.87" y2="327.57" stroke="#dadada" stroke-width="0.8"/>
<line x1="183.25" y1="452.18" x2="184.67" y2="322.05" stroke="#dadada" stroke-width="0.8"/>
<polyline points="55.44,481.12 173.87,428.5 276.03,492.07" fill="none" stroke="#dadada" stroke-width="0.8"/>
<polyline points="54.58,462.48 173.99,410.58 277.01,473.34" fill="none" stroke="#dadada" stroke-width="0.8"/>
<polyline points="53.7,443.53 174.11,392.38 278.02,454.3" fill="none" stroke="#dadada" stroke-width="0.8"/>
<polyline points="52.82,424.25 174.23,373.89 279.04,434.94" fill="none" stroke="#dadada" stroke-width="0.8"/>
<polyline points="51.91,404.64 174.36,355.11 280.08,415.24" fill="none" stroke="#dadada" stroke-width="0.8"/>
<polyline points="50.99,384.7 174.48,336.02 281.14,395.19" fill="none" stroke="#dadada" stroke-width="0.8"/>
<polyline points="50.05,364.41 174.61,316.61 282.22,374.8" fill="none" stroke="#dadada" stroke-width="0.8"/>
<polyline points="56.29,499.46 173.75,446.14 275.05,510.48" fill="none" stroke="#dadada" stroke-width="0.8"/>
<polyline points="72.29,492.2 74.14,493.54 76,494.88 77.87,496.23 79.74,497.58 81.62,498.94 83.51,500.29 85.4,501.66 87.29,503.03 89.19,504.4 91.1,505.77 93.01,507.15 94.93,508.54 96.85,509.92 98.78,511.32 100.71,512.71 102.65,514.11 104.6,515.52 106.55,516.93 108.51,518.34 110.47,519.76 112.44,521.18 114.42,522.6 116.4,524.03 118.39,525.47 120.38,526.91 122.38,528.35 124.39,529.8 126.4,531.25 128.42,532.7 130.44,534.16 132.47,535.63 134.51,537.1 136.55,538.57 138.6,540.05 140.65,541.53 142.71,543.02 144.78,544.51 146.85,546.01 148.93,547.51 151.02,549.02 153.11,550.53 155.21,552.04 157.32,553.56 159.43,555.09 161.55,556.62 163.68,558.15 165.81,559.69 167.95,561.23 170.09,562.78 171.71,563.95" fill="none" stroke="#507a64" stroke-width="0.9" stroke-opacity="0.9"/>
<polyline points="96.57,481.17 98.44,482.48 100.31,483.79 102.19,485.11 104.07,486.43 105.96,487.75 107.86,489.08 109.76,490.41 111.67,491.74 113.58,493.08 115.5,494.42 117.42,495.76 119.35,497.11 121.28,498.47 123.22,499.82 125.17,501.19 127.12,502.55 129.08,503.92 131.04,505.29 133.01,506.67 134.98,508.05 136.96,509.44 138.95,510.83 140.94,512.22 142.94,513.62 144.94,515.02 146.95,516.43 148.97,517.84 150.99,519.26 153.02,520.67 155.05,522.1 157.09,523.53 159.14,524.96 161.19,526.39 163.25,527.83 165.32,529.28 167.39,530.73 169.47,532.18 171.55,533.64 173.64,535.1 175.74,536.57 177.84,538.04 179.95,539.52 182.06,541 184.19,542.48 186.31,543.97 188.45,545.47 190.59,546.96 192.74,548.47 194.9,549.98 196.52,551.11" fill="none" stroke="#5e9a6a" stroke-width="0.9" stroke-opacity="0.9"/>
<polyline points="111.08,474.59 112.95,475.88 114.83,477.17 116.72,478.46 118.61,479.76 120.51,481.06 122.41,482.37 124.32,483.68 126.23,485 128.15,486.31 130.07,487.63 132,488.96 133.94,490.29 135.88,491.62 137.82,492.96 139.77,494.3 141.73,495.65 143.7,496.99 145.66,498.35 147.64,499.7 149.62,501.06 151.61,502.43 153.6,503.8 155.6,505.17 157.6,506.55 159.61,507.93 161.63,509.31 163.65,510.7 165.68,512.09 167.71,513.49 169.75,514.89 171.8,516.3 173.85,517.71 175.91,519.12 177.97,520.54 180.04,521.96 182.12,523.39 184.2,524.82 186.29,526.26 188.39,527.7 190.49,529.14 192.6,530.59 194.71,532.04 196.83,533.5 198.96,534.96 201.09,536.43 203.23,537.9 205.38,539.37 207.53,540.85 209.69,542.33 211.32,543.45" fill="none" stroke="#80b080" stroke-width="0.9" stroke-opacity="0.9"/>
<polyline points="122.4,469.45 124.28,470.72 126.16,472 128.05,473.28 129.95,474.56 131.85,475.85 133.76,477.14 135.67,478.44 137.59,479.74 139.51,481.04 141.44,482.34 143.37,483.65 145.31,484.97 147.26,486.28 149.21,487.61 151.17,488.93 153.13,490.26 155.1,491.59 157.07,492.93 159.05,494.27 161.03,495.61 163.02,496.96 165.02,498.31 167.02,499.67 169.03,501.03 171.05,502.4 173.07,503.76 175.09,505.14 177.12,506.51 179.16,507.89 181.21,509.28 183.26,510.67 185.31,512.06 187.38,513.45 189.44,514.86 191.52,516.26 193.6,517.67 195.69,519.08 197.78,520.5 199.88,521.92 201.99,523.35 204.1,524.78 206.22,526.21 208.34,527.65 210.47,529.1 212.61,530.55 214.76,532 216.91,533.45 219.06,534.91 221.23,536.38 222.86,537.48" fill="none" stroke="#b0c890" stroke-width="0.9" stroke-opacity="0.9"/>
<polyline points="131.96,465.11 133.84,466.37 135.73,467.64 137.62,468.9 139.52,470.17 141.43,471.45 143.34,472.73 145.25,474.01 147.18,475.3 149.1,476.58 151.03,477.88 152.97,479.17 154.92,480.47 156.87,481.78 158.82,483.09 160.78,484.4 162.75,485.71 164.72,487.03 166.69,488.36 168.68,489.68 170.67,491.01 172.66,492.35 174.66,493.69 176.67,495.03 178.68,496.38 180.7,497.73 182.72,499.08 184.75,500.44 186.79,501.8 188.83,503.17 190.88,504.54 192.93,505.91 194.99,507.29 197.05,508.67 199.13,510.06 201.2,511.45 203.29,512.84 205.38,514.24 207.48,515.64 209.58,517.05 211.69,518.46 213.8,519.88 215.93,521.3 218.05,522.72 220.19,524.15 222.33,525.58 224.48,527.02 226.63,528.46 228.79,529.91 230.96,531.36 232.59,532.45" fill="none" stroke="#d6d6a0" stroke-width="0.9" stroke-opacity="0.9"/>
<polyline points="140.36,461.3 142.24,462.55 144.14,463.8 146.03,465.06 147.94,466.32 149.84,467.58 151.76,468.85 153.68,470.12 155.6,471.39 157.53,472.67 159.47,473.95 161.41,475.24 163.36,476.53 165.31,477.82 167.27,479.12 169.23,480.42 171.2,481.72 173.17,483.03 175.15,484.34 177.14,485.65 179.13,486.97 181.13,488.3 183.13,489.62 185.14,490.95 187.16,492.29 189.18,493.62 191.2,494.97 193.24,496.31 195.27,497.66 197.32,499.02 199.37,500.37 201.43,501.73 203.49,503.1 205.56,504.47 207.63,505.84 209.71,507.22 211.8,508.6 213.89,509.99 215.99,511.38 218.1,512.77 220.21,514.17 222.33,515.57 224.45,516.98 226.58,518.39 228.72,519.81 230.86,521.23 233.01,522.65 235.17,524.08 237.33,525.51 239.5,526.95 241.13,528.03" fill="none" stroke="#cbb8a0" stroke-width="0.9" stroke-opacity="0.9"/>
<polyline points="147.92,457.87 149.81,459.1 151.7,460.35 153.6,461.59 155.51,462.84 157.42,464.1 159.34,465.36 161.26,466.62 163.19,467.88 165.12,469.15 167.06,470.42 169,471.69 170.95,472.97 172.91,474.26 174.87,475.54 176.83,476.83 178.81,478.12 180.78,479.42 182.77,480.72 184.76,482.03 186.75,483.33 188.75,484.65 190.76,485.96 192.77,487.28 194.79,488.6 196.81,489.93 198.84,491.26 200.87,492.6 202.91,493.94 204.96,495.28 207.01,496.63 209.07,497.98 211.14,499.33 213.21,500.69 215.29,502.05 217.37,503.42 219.46,504.79 221.55,506.16 223.66,507.54 225.76,508.92 227.88,510.31 230,511.7 232.13,513.1 234.26,514.49 236.4,515.9 238.54,517.3 240.7,518.72 242.85,520.13 245.02,521.55 247.19,522.98 248.82,524.05" fill="none" stroke="#b09088" stroke-width="0.9" stroke-opacity="0.9"/>
<polyline points="154.84,454.72 156.73,455.95 158.63,457.19 160.53,458.43 162.44,459.67 164.36,460.91 166.28,462.16 168.2,463.41 170.13,464.67 172.07,465.92 174.01,467.19 175.95,468.45 177.91,469.72 179.86,470.99 181.83,472.27 183.79,473.55 185.77,474.83 187.75,476.12 189.73,477.41 191.73,478.71 193.72,480 195.72,481.31 197.73,482.61 199.75,483.92 201.77,485.24 203.79,486.55 205.82,487.87 207.86,489.2 209.91,490.53 211.95,491.86 214.01,493.2 216.07,494.54 218.14,495.88 220.21,497.23 222.29,498.58 224.38,499.94 226.47,501.3 228.56,502.66 230.67,504.03 232.78,505.4 234.89,506.78 237.02,508.16 239.15,509.54 241.28,510.93 243.42,512.32 245.57,513.72 247.72,515.12 249.88,516.52 252.05,517.93 254.22,519.35 255.86,520.41" fill="none" stroke="#9c7c7c" stroke-width="0.9" stroke-opacity="0.9"/>
<polyline points="161.25,451.81 163.15,453.04 165.05,454.26 166.95,455.49 168.86,456.72 170.78,457.96 172.7,459.2 174.63,460.44 176.56,461.69 178.5,462.94 180.44,464.19 182.39,465.45 184.35,466.71 186.3,467.97 188.27,469.24 190.24,470.51 192.22,471.79 194.2,473.06 196.19,474.35 198.18,475.63 200.18,476.92 202.18,478.21 204.19,479.51 206.21,480.81 208.23,482.12 210.26,483.42 212.29,484.74 214.33,486.05 216.38,487.37 218.43,488.69 220.49,490.02 222.55,491.35 224.62,492.69 226.69,494.03 228.78,495.37 230.86,496.71 232.96,498.06 235.06,499.42 237.16,500.78 239.27,502.14 241.39,503.5 243.51,504.88 245.64,506.25 247.78,507.63 249.92,509.01 252.07,510.4 254.23,511.79 256.39,513.18 258.56,514.58 260.74,515.98 262.37,517.04" fill="none" stroke="#8c6c6c" stroke-width="0.9" stroke-opacity="0.9"/>
<polyline points="167.25,449.09 169.14,450.31 171.05,451.53 172.95,452.75 174.87,453.97 176.78,455.2 178.71,456.43 180.64,457.67 182.57,458.9 184.51,460.15 186.46,461.39 188.41,462.64 190.36,463.89 192.32,465.15 194.29,466.41 196.26,467.67 198.24,468.94 200.23,470.21 202.22,471.48 204.21,472.76 206.21,474.04 208.22,475.33 210.23,476.61 212.25,477.91 214.27,479.2 216.3,480.5 218.34,481.8 220.38,483.11 222.43,484.42 224.48,485.74 226.54,487.05 228.6,488.38 230.67,489.7 232.75,491.03 234.83,492.37 236.92,493.7 239.02,495.04 241.12,496.39 243.23,497.74 245.34,499.09 247.46,500.45 249.58,501.81 251.72,503.17 253.86,504.54 256,505.92 258.15,507.29 260.31,508.67 262.47,510.06 264.64,511.45 266.82,512.84 268.45,513.89" fill="none" stroke="#7c5c5c" stroke-width="0.9" stroke-opacity="0.9"/>
<line x1="56.29" y1="499.46" x2="50.05" y2="364.41" stroke="#505050" stroke-width="1"/>
<line x1="55.44" y1="481.12" x2="53.23" y2="482.11" stroke="#505050" stroke-width="0.9"/>
<line x1="54.58" y1="462.48" x2="52.35" y2="463.45" stroke="#505050" stroke-width="0.9"/>
<line x1="53.7" y1="443.53" x2="51.46" y2="444.48" stroke="#505050" stroke-width="0.9"/>
<line x1="52.82" y1="424.25" x2="50.55" y2="425.19" stroke="#505050" stroke-width="0.9"/>
<line x1="51.91" y1="404.64" x2="49.62" y2="405.57" stroke="#505050" stroke-width="0.9"/>
<line x1="50.99" y1="384.7" x2="48.68" y2="385.61" stroke="#505050" stroke-width="0.9"/>
<line x1="50.05" y1="364.41" x2="47.72" y2="365.3" stroke="#505050" stroke-width="0.9"/>
<polygon points="150.15,382.2 155.04,373.93 150.15,371.04 145.27,379.28" fill="#ff1000" stroke="#101010" stroke-opacity="0.6" stroke-width="0.75" stroke-linejoin="round"/>
<polygon points="145.25,390.14 150.15,382.2 145.27,379.28 140.39,387.19" fill="#ff8000" stroke="#101010" stroke-opacity="0.6" stroke-width="0.75" stroke-linejoin="round"/>
<polygon points="155.04,373.93 159.93,365.33 155.02,362.47 150.15,371.04" fill="#ff1000" stroke="#101010" stroke-opacity="0.6" stroke-width="0.75" stroke-linejoin="round"/>
<polygon points="140.35,397.76 145.25,390.14 140.39,387.19 135.51,394.78" fill="#ffff10" stroke="#101010" stroke-opacity="0.6" stroke-width="0.75" stroke-linejoin="round"/>
<polygon points="159.93,365.33 164.83,356.4 159.9,353.57 155.02,362.47" fill="#cc0000" stroke="#101010" stroke-opacity="0.6" stroke-width="0.75" stroke-linejoin="round"/>
<polygon points="135.45,405.05 140.35,397.76 135.51,394.78 130.63,402.05" fill="#ffff10" stroke="#101010" stroke-opacity="0.6" stroke-width="0.75" stroke-linejoin="round"/>
<polygon points="164.83,356.4 169.73,347.13 164.78,344.33 159.9,353.57" fill="#9c0000" stroke="#101010" stroke-opacity="0.6" stroke-width="0.75" stroke-linejoin="round"/>
<polygon points="130.54,412.03 135.45,405.05 130.63,402.05 125.73,409" fill="#c8ff10" stroke="#101010" stroke-opacity="0.6" stroke-width="0.75" stroke-linejoin="round"/>
<polygon points="169.73,347.13 174.64,337.51 169.67,334.75 164.78,344.33" fill="#9c0000" stroke="#101010" stroke-opacity="0.6" stroke-width="0.75" stroke-linejoin="round"/>
<polygon points="125.62,418.7 130.54,412.03 125.73,409 120.82,415.64" fill="#c8ff10" stroke="#101010" stroke-opacity="0.6" stroke-width="0.75" stroke-linejoin="round"/>
<polygon points="174.64,337.51 179.55,327.55 174.56,324.82 169.67,334.75" fill="#800000" stroke="#101010" stroke-opacity="0.6" stroke-width="0.75" stroke-linejoin="round"/>
<polygon points="120.68,425.05 125.62,418.7 120.82,415.64 115.9,421.97" fill="#30ff20" stroke="#101010" stroke-opacity="0.6" stroke-width="0.75" stroke-linejoin="round"/>
<polygon points="115.74,431.09 120.68,425.05 115.9,421.97 110.97,427.98" fill="#30ff20" stroke="#101010" stroke-opacity="0.6" stroke-width="0.75" stroke-linejoin="round"/>
<polygon points="155.06,385.14 159.97,376.84 155.04,373.93 150.15,382.2" fill="#ff1000" stroke="#101010" stroke-opacity="0.6" stroke-width="0.75" stroke-linejoin="round"/>
<polygon points="150.14,393.11 155.06,385.14 150.15,382.2 145.25,390.14" fill="#ff8000" stroke="#101010" stroke-opacity="0.6" stroke-width="0.75" stroke-linejoin="round"/>
<polygon points="159.97,376.84 164.88,368.21 159.93,365.33 155.04,373.93" fill="#ff1000" stroke="#101010" stroke-opacity="0.6" stroke-width="0.75" stroke-linejoin="round"/>
<polygon points="145.23,400.76 150.14,393.11 145.25,390.14 140.35,397.76" fill="#ffff10" stroke="#101010" stroke-opacity="0.6" stroke-width="0.75" stroke-linejoin="round"/>
<polygon points="164.88,368.21 169.79,359.24 164.83,356.4 159.93,365.33" fill="#cc0000" stroke="#101010" stroke-opacity="0.6" stroke-width="0.75" stroke-linejoin="round"/>
<polygon points="140.31,408.08 145.23,400.76 140.35,397.76 135.45,405.05" fill="#ffff10" stroke="#101010" stroke-opacity="0.6" stroke-width="0.75" stroke-linejoin="round"/>
<polygon points="110.77,436.82 115.74,431.09 110.97,427.98 106.02,433.69" fill="#10c010" stroke="#101010" stroke-opacity="0.6" stroke-width="0.75" stroke-linejoin="round"/>
<polygon points="169.79,359.24 174.71,349.94 169.73,347.13 164.83,356.4" fill="#9c0000" stroke="#101010" stroke-opacity="0.6" stroke-width="0.75" stroke-linejoin="round"/>
<polygon points="135.38,415.09 140.31,408.08 135.45,405.05 130.54,412.03" fill="#c8ff10" stroke="#101010" stroke-opacity="0.6" stroke-width="0.75" stroke-linejoin="round"/>
<polygon points="174.71,349.94 179.64,340.29 174.64,337.51 169.73,347.13" fill="#9c0000" stroke="#101010" stroke-opacity="0.6" stroke-width="0.75" stroke-linejoin="round"/>
<polygon points="130.45,421.78 135.38,415.09 130.54,412.03 125.62,418.7" fill="#c8ff10" stroke="#101010" stroke-opacity="0.6" stroke-width="0.75" stroke-linejoin="round"/>
<polygon points="105.79,442.24 110.77,436.82 106.02,433.69 101.05,439.09" fill="#10c010" stroke="#101010" stroke-opacity="0.6" stroke-width="0.75" stroke-linejoin="round"/>
<polygon points="179.64,340.29 184.58,330.3 179.55,327.55 174.64,337.51" fill="#800000" stroke="#101010" stroke-opacity="0.6" stroke-width="0.75" stroke-linejoin="round"/>
<polygon points="125.5,428.15 130.45,421.78 125.62,418.7 120.68,425.05" fill="#30ff20" stroke="#101010" stroke-opacity="0.6" stroke-width="0.75" stroke-linejoin="round"/>
<polygon points="100.79,447.35 105.79,442.24 101.05,439.09 96.06,444.18" fill="#10c010" stroke="#101010" stroke-opacity="0.6" stroke-width="0.75" stroke-linejoin="round"/>
<polygon points="120.54,434.22 125.5,428.15 120.68,425.05 115.74,431.09" fill="#30ff20" stroke="#101010" stroke-opacity="0.6" stroke-width="0.75" stroke-linejoin="round"/>
<polygon points="160,388.1 164.93,379.77 159.97,376.84 155.06,385.14" fill="#ff1000" stroke="#101010" stroke-opacity="0.6" stroke-width="0.75" stroke-linejoin="round"/>
<polygon points="155.07,396.1 160,388.1 155.06,385.14 150.14,393.11" fill="#ff8000" stroke="#101010" stroke-opacity="0.6" stroke-width="0.75" stroke-linejoin="round"/>
<polygon points="164.93,379.77 169.86,371.11 164.88,368.21 159.97,376.84" fill="#ff1000" stroke="#101010" stroke-opacity="0.6" stroke-width="0.75" stroke-linejoin="round"/>
<polygon points="150.14,403.77 155.07,396.1 150.14,393.11 145.23,400.76" fill="#ffff10" stroke="#101010" stroke-opacity="0.6" stroke-width="0.75" stroke-linejoin="round"/>
<polygon points="169.86,371.11 174.79,362.11 169.79,359.24 164.88,368.21" fill="#cc0000" stroke="#101010" stroke-opacity="0.6" stroke-width="0.75" stroke-linejoin="round"/>
<polygon points="145.2,411.13 150.14,403.77 145.23,400.76 140.31,408.08" fill="#ffff10" stroke="#101010" stroke-opacity="0.6" stroke-width="0.75" stroke-linejoin="round"/>
<polygon points="115.56,439.97 120.54,434.22 115.74,431.09 110.77,436.82" fill="#10c010" stroke="#101010" stroke-opacity="0.6" stroke-width="0.75" stroke-linejoin="round"/>
<polygon points="174.79,362.11 179.73,352.78 174.71,349.94 169.79,359.24" fill="#9c0000" stroke="#101010" stroke-opacity="0.6" stroke-width="0.75" stroke-linejoin="round"/>
<polygon points="95.77,452.16 100.79,447.35 96.06,444.18 91.05,448.96" fill="#128e26" stroke="#101010" stroke-opacity="0.6" stroke-width="0.75" stroke-linejoin="round"/>
<polygon points="140.26,418.16 145.2,411.13 140.31,408.08 135.38,415.09" fill="#c8ff10" stroke="#101010" stroke-opacity="0.6" stroke-width="0.75" stroke-linejoin="round"/>
<polygon points="179.73,352.78 184.68,343.1 179.64,340.29 174.71,349.94" fill="#9c0000" stroke="#101010" stroke-opacity="0.6" stroke-width="0.75" stroke-linejoin="round"/>
<polygon points="135.31,424.88 140.26,418.16 135.38,415.09 130.45,421.78" fill="#c8ff10" stroke="#101010" stroke-opacity="0.6" stroke-width="0.75" stroke-linejoin="round"/>
<polygon points="110.57,445.42 115.56,439.97 110.77,436.82 105.79,442.24" fill="#10c010" stroke="#101010" stroke-opacity="0.6" stroke-width="0.75" stroke-linejoin="round"/>
<polygon points="184.68,343.1 189.64,333.07 184.58,330.3 179.64,340.29" fill="#800000" stroke="#101010" stroke-opacity="0.6" stroke-width="0.75" stroke-linejoin="round"/>
<polygon points="130.35,431.28 135.31,424.88 130.45,421.78 125.5,428.15" fill="#30ff20" stroke="#101010" stroke-opacity="0.6" stroke-width="0.75" stroke-linejoin="round"/>
<polygon points="90.72,456.66 95.77,452.16 91.05,448.96 86.01,453.44" fill="#128e26" stroke="#101010" stroke-opacity="0.6" stroke-width="0.75" stroke-linejoin="round"/>
<polygon points="105.56,450.55 110.57,445.42 105.79,442.24 100.79,447.35" fill="#10c010" stroke="#101010" stroke-opacity="0.6" stroke-width="0.75" stroke-linejoin="round"/>
<polygon points="125.38,437.37 130.35,431.28 125.5,428.15 120.54,434.22" fill="#30ff20" stroke="#101010" stroke-opacity="0.6" stroke-width="0.75" stroke-linejoin="round"/>
<polygon points="164.98,391.08 169.93,382.72 164.93,379.77 160,388.1" fill="#ff1000" stroke="#101010" stroke-opacity="0.6" stroke-width="0.75" stroke-linejoin="round"/>
<polygon points="160.04,399.11 164.98,391.08 160,388.1 155.07,396.1" fill="#ff8000" stroke="#101010" stroke-opacity="0.6" stroke-width="0.75" stroke-linejoin="round"/>
<polygon points="169.93,382.72 174.88,374.03 169.86,371.11 164.93,379.77" fill="#ff1000" stroke="#101010" stroke-opacity="0.6" stroke-width="0.75" stroke-linejoin="round"/>
<polygon points="155.09,406.82 160.04,399.11 155.07,396.1 150.14,403.77" fill="#ffff10" stroke="#101010" stroke-opacity="0.6" stroke-width="0.75" stroke-linejoin="round"/>
<polygon points="174.88,374.03 179.83,365 174.79,362.11 169.86,371.11" fill="#cc0000" stroke="#101010" stroke-opacity="0.6" stroke-width="0.75" stroke-linejoin="round"/>
<polygon points="150.14,414.2 155.09,406.82 150.14,403.77 145.2,411.13" fill="#ffff10" stroke="#101010" stroke-opacity="0.6" stroke-width="0.75" stroke-linejoin="round"/>
<polygon points="85.64,460.86 90.72,456.66 86.01,453.44 80.94,457.62" fill="#128e26" stroke="#101010" stroke-opacity="0.6" stroke-width="0.75" stroke-linejoin="round"/>
<polygon points="120.39,443.15 125.38,437.37 120.54,434.22 115.56,439.97" fill="#10c010" stroke="#101010" stroke-opacity="0.6" stroke-width="0.75" stroke-linejoin="round"/>
<polygon points="179.83,365 184.79,355.63 179.73,352.78 174.79,362.11" fill="#9c0000" stroke="#101010" stroke-opacity="0.6" stroke-width="0.75" stroke-linejoin="round"/>
<polygon points="100.52,455.38 105.56,450.55 100.79,447.35 95.77,452.16" fill="#128e26" stroke="#101010" stroke-opacity="0.6" stroke-width="0.75" stroke-linejoin="round"/>
<polygon points="145.18,421.26 150.14,414.2 145.2,411.13 140.26,418.16" fill="#c8ff10" stroke="#101010" stroke-opacity="0.6" stroke-width="0.75" stroke-linejoin="round"/>
<polygon points="184.79,355.63 189.76,345.92 184.68,343.1 179.73,352.78" fill="#9c0000" stroke="#101010" stroke-opacity="0.6" stroke-width="0.75" stroke-linejoin="round"/>
<polygon points="140.21,428 145.18,421.26 140.26,418.16 135.31,424.88" fill="#c8ff10" stroke="#101010" stroke-opacity="0.6" stroke-width="0.75" stroke-linejoin="round"/>
<polygon points="115.38,448.62 120.39,443.15 115.56,439.97 110.57,445.42" fill="#10c010" stroke="#101010" stroke-opacity="0.6" stroke-width="0.75" stroke-linejoin="round"/>
<polygon points="189.76,345.92 194.74,335.86 189.64,333.07 184.68,343.1" fill="#800000" stroke="#101010" stroke-opacity="0.6" stroke-width="0.75" stroke-linejoin="round"/>
<polygon points="135.24,434.43 140.21,428 135.31,424.88 130.35,431.28" fill="#30ff20" stroke="#101010" stroke-opacity="0.6" stroke-width="0.75" stroke-linejoin="round"/>
<polygon points="80.53,464.75 85.64,460.86 80.94,457.62 75.84,461.49" fill="#128e26" stroke="#101010" stroke-opacity="0.6" stroke-width="0.75" stroke-linejoin="round"/>
<polygon points="95.46,459.91 100.52,455.38 95.77,452.16 90.72,456.66" fill="#128e26" stroke="#101010" stroke-opacity="0.6" stroke-width="0.75" stroke-linejoin="round"/>
<polygon points="110.36,453.78 115.38,448.62 110.57,445.42 105.56,450.55" fill="#10c010" stroke="#101010" stroke-opacity="0.6" stroke-width="0.75" stroke-linejoin="round"/>
<polygon points="130.25,440.54 135.24,434.43 130.35,431.28 125.38,437.37" fill="#30ff20" stroke="#101010" stroke-opacity="0.6" stroke-width="0.75" stroke-linejoin="round"/>
<polygon points="170,394.09 174.96,385.7 169.93,382.72 164.98,391.08" fill="#ff1000" stroke="#101010" stroke-opacity="0.6" stroke-width="0.75" stroke-linejoin="round"/>
<polygon points="165.04,402.15 170,394.09 164.98,391.08 160.04,399.11" fill="#ff8000" stroke="#101010" stroke-opacity="0.6" stroke-width="0.75" stroke-linejoin="round"/>
<polygon points="174.96,385.7 179.93,376.98 174.88,374.03 169.93,382.72" fill="#ff1000" stroke="#101010" stroke-opacity="0.6" stroke-width="0.75" stroke-linejoin="round"/>
<polygon points="160.07,409.88 165.04,402.15 160.04,399.11 155.09,406.82" fill="#ffff10" stroke="#101010" stroke-opacity="0.6" stroke-width="0.75" stroke-linejoin="round"/>
<polygon points="179.93,376.98 184.91,367.92 179.83,365 174.88,374.03" fill="#cc0000" stroke="#101010" stroke-opacity="0.6" stroke-width="0.75" stroke-linejoin="round"/>
<polygon points="155.1,417.29 160.07,409.88 155.09,406.82 150.14,414.2" fill="#ffff10" stroke="#101010" stroke-opacity="0.6" stroke-width="0.75" stroke-linejoin="round"/>
<polygon points="90.37,464.13 95.46,459.91 90.72,456.66 85.64,460.86" fill="#128e26" stroke="#101010" stroke-opacity="0.6" stroke-width="0.75" stroke-linejoin="round"/>
<polygon points="125.25,446.35 130.25,440.54 125.38,437.37 120.39,443.15" fill="#10c010" stroke="#101010" stroke-opacity="0.6" stroke-width="0.75" stroke-linejoin="round"/>
<polygon points="184.91,367.92 189.89,358.51 184.79,355.63 179.83,365" fill="#9c0000" stroke="#101010" stroke-opacity="0.6" stroke-width="0.75" stroke-linejoin="round"/>
<polygon points="75.4,468.34 80.53,464.75 75.84,461.49 70.71,465.06" fill="#128e26" stroke="#101010" stroke-opacity="0.6" stroke-width="0.75" stroke-linejoin="round"/>
<polygon points="105.31,458.63 110.36,453.78 105.56,450.55 100.52,455.38" fill="#128e26" stroke="#101010" stroke-opacity="0.6" stroke-width="0.75" stroke-linejoin="round"/>
<polygon points="150.13,424.38 155.1,417.29 150.14,414.2 145.18,421.26" fill="#c8ff10" stroke="#101010" stroke-opacity="0.6" stroke-width="0.75" stroke-linejoin="round"/>
<polygon points="189.89,358.51 194.88,348.76 189.76,345.92 184.79,355.63" fill="#9c0000" stroke="#101010" stroke-opacity="0.6" stroke-width="0.75" stroke-linejoin="round"/>
<polygon points="145.15,431.15 150.13,424.38 145.18,421.26 140.21,428" fill="#c8ff10" stroke="#101010" stroke-opacity="0.6" stroke-width="0.75" stroke-linejoin="round"/>
<polygon points="120.23,451.84 125.25,446.35 120.39,443.15 115.38,448.62" fill="#10c010" stroke="#101010" stroke-opacity="0.6" stroke-width="0.75" stroke-linejoin="round"/>
<polygon points="194.88,348.76 199.88,338.67 194.74,335.86 189.76,345.92" fill="#800000" stroke="#101010" stroke-opacity="0.6" stroke-width="0.75" stroke-linejoin="round"/>
<polygon points="140.16,437.6 145.15,431.15 140.21,428 135.24,434.43" fill="#30ff20" stroke="#101010" stroke-opacity="0.6" stroke-width="0.75" stroke-linejoin="round"/>
<polygon points="85.26,468.04 90.37,464.13 85.64,460.86 80.53,464.75" fill="#128e26" stroke="#101010" stroke-opacity="0.6" stroke-width="0.75" stroke-linejoin="round"/>
<polygon points="100.24,463.18 105.31,458.63 100.52,455.38 95.46,459.91" fill="#128e26" stroke="#101010" stroke-opacity="0.6" stroke-width="0.75" stroke-linejoin="round"/>
<polygon points="70.22,471.62 75.4,468.34 70.71,465.06 65.55,468.32" fill="#0a6a3a" stroke="#101010" stroke-opacity="0.6" stroke-width="0.75" stroke-linejoin="round"/>
<polygon points="115.19,457.02 120.23,451.84 115.38,448.62 110.36,453.78" fill="#10c010" stroke="#101010" stroke-opacity="0.6" stroke-width="0.75" stroke-linejoin="round"/>
<polygon points="135.16,443.74 140.16,437.6 135.24,434.43 130.25,440.54" fill="#30ff20" stroke="#101010" stroke-opacity="0.6" stroke-width="0.75" stroke-linejoin="round"/>
<polygon points="175.05,397.12 180.04,388.7 174.96,385.7 170,394.09" fill="#ff1000" stroke="#101010" stroke-opacity="0.6" stroke-width="0.75" stroke-linejoin="round"/>
<polygon points="170.07,405.21 175.05,397.12 170,394.09 165.04,402.15" fill="#ff8000" stroke="#101010" stroke-opacity="0.6" stroke-width="0.75" stroke-linejoin="round"/>
<polygon points="180.04,388.7 185.03,379.94 179.93,376.98 174.96,385.7" fill="#ff1000" stroke="#101010" stroke-opacity="0.6" stroke-width="0.75" stroke-linejoin="round"/>
<polygon points="165.09,412.97 170.07,405.21 165.04,402.15 160.07,409.88" fill="#ffff10" stroke="#101010" stroke-opacity="0.6" stroke-width="0.75" stroke-linejoin="round"/>
<polygon points="185.03,379.94 190.02,370.85 184.91,367.92 179.93,376.98" fill="#cc0000" stroke="#101010" stroke-opacity="0.6" stroke-width="0.75" stroke-linejoin="round"/>
<polygon points="160.11,420.41 165.09,412.97 160.07,409.88 155.1,417.29" fill="#ffff10" stroke="#101010" stroke-opacity="0.6" stroke-width="0.75" stroke-linejoin="round"/>
<polygon points="95.14,467.42 100.24,463.18 95.46,459.91 90.37,464.13" fill="#128e26" stroke="#101010" stroke-opacity="0.6" stroke-width="0.75" stroke-linejoin="round"/>
<polygon points="130.14,449.57 135.16,443.74 130.25,440.54 125.25,446.35" fill="#10c010" stroke="#101010" stroke-opacity="0.6" stroke-width="0.75" stroke-linejoin="round"/>
<polygon points="190.02,370.85 195.02,361.41 189.89,358.51 184.91,367.92" fill="#9c0000" stroke="#101010" stroke-opacity="0.6" stroke-width="0.75" stroke-linejoin="round"/>
<polygon points="80.11,471.64 85.26,468.04 80.53,464.75 75.4,468.34" fill="#128e26" stroke="#101010" stroke-opacity="0.6" stroke-width="0.75" stroke-linejoin="round"/>
<polygon points="110.14,461.9 115.19,457.02 110.36,453.78 105.31,458.63" fill="#128e26" stroke="#101010" stroke-opacity="0.6" stroke-width="0.75" stroke-linejoin="round"/>
<polygon points="155.12,427.52 160.11,420.41 155.1,417.29 150.13,424.38" fill="#c8ff10" stroke="#101010" stroke-opacity="0.6" stroke-width="0.75" stroke-linejoin="round"/>
<polygon points="195.02,361.41 200.03,351.63 194.88,348.76 189.89,358.51" fill="#9c0000" stroke="#101010" stroke-opacity="0.6" stroke-width="0.75" stroke-linejoin="round"/>
<polygon points="150.12,434.32 155.12,427.52 150.13,424.38 145.15,431.15" fill="#c8ff10" stroke="#101010" stroke-opacity="0.6" stroke-width="0.75" stroke-linejoin="round"/>
<polygon points="65.01,474.59 70.22,471.62 65.55,468.32 60.35,471.27" fill="#0a6a3a" stroke="#101010" stroke-opacity="0.6" stroke-width="0.75" stroke-linejoin="round"/>
<polygon points="125.11,455.09 130.14,449.57 125.25,446.35 120.23,451.84" fill="#10c010" stroke="#101010" stroke-opacity="0.6" stroke-width="0.75" stroke-linejoin="round"/>
<polygon points="200.03,351.63 205.06,341.5 199.88,338.67 194.88,348.76" fill="#800000" stroke="#101010" stroke-opacity="0.6" stroke-width="0.75" stroke-linejoin="round"/>
<polygon points="145.12,440.8 150.12,434.32 145.15,431.15 140.16,437.6" fill="#30ff20" stroke="#101010" stroke-opacity="0.6" stroke-width="0.75" stroke-linejoin="round"/>
<polygon points="90.02,471.35 95.14,467.42 90.37,464.13 85.26,468.04" fill="#128e26" stroke="#101010" stroke-opacity="0.6" stroke-width="0.75" stroke-linejoin="round"/>
<polygon points="105.05,466.47 110.14,461.9 105.31,458.63 100.24,463.18" fill="#128e26" stroke="#101010" stroke-opacity="0.6" stroke-width="0.75" stroke-linejoin="round"/>
<polygon points="74.93,474.95 80.11,471.64 75.4,468.34 70.22,471.62" fill="#0a6a3a" stroke="#101010" stroke-opacity="0.6" stroke-width="0.75" stroke-linejoin="round"/>
<polygon points="120.07,460.3 125.11,455.09 120.23,451.84 115.19,457.02" fill="#10c010" stroke="#101010" stroke-opacity="0.6" stroke-width="0.75" stroke-linejoin="round"/>
<polygon points="140.1,446.97 145.12,440.8 140.16,437.6 135.16,443.74" fill="#30ff20" stroke="#101010" stroke-opacity="0.6" stroke-width="0.75" stroke-linejoin="round"/>
<polygon points="180.15,400.17 185.15,391.71 180.04,388.7 175.05,397.12" fill="#ff1000" stroke="#101010" stroke-opacity="0.6" stroke-width="0.75" stroke-linejoin="round"/>
<polygon points="175.15,408.29 180.15,400.17 175.05,397.12 170.07,405.21" fill="#ff8000" stroke="#101010" stroke-opacity="0.6" stroke-width="0.75" stroke-linejoin="round"/>
<polygon points="185.15,391.71 190.16,382.93 185.03,379.94 180.04,388.7" fill="#ff1000" stroke="#101010" stroke-opacity="0.6" stroke-width="0.75" stroke-linejoin="round"/>
<polygon points="170.15,416.08 175.15,408.29 170.07,405.21 165.09,412.97" fill="#ffff10" stroke="#101010" stroke-opacity="0.6" stroke-width="0.75" stroke-linejoin="round"/>
<polygon points="190.16,382.93 195.17,373.8 190.02,370.85 185.03,379.94" fill="#cc0000" stroke="#101010" stroke-opacity="0.6" stroke-width="0.75" stroke-linejoin="round"/>
<polygon points="59.76,477.26 65.01,474.59 60.35,471.27 55.11,473.92" fill="#0a6a3a" stroke="#101010" stroke-opacity="0.6" stroke-width="0.75" stroke-linejoin="round"/>
<polygon points="165.15,423.54 170.15,416.08 165.09,412.97 160.11,420.41" fill="#ffff10" stroke="#101010" stroke-opacity="0.6" stroke-width="0.75" stroke-linejoin="round"/>
<polygon points="99.95,470.73 105.05,466.47 100.24,463.18 95.14,467.42" fill="#128e26" stroke="#101010" stroke-opacity="0.6" stroke-width="0.75" stroke-linejoin="round"/>
<polygon points="135.08,452.82 140.1,446.97 135.16,443.74 130.14,449.57" fill="#10c010" stroke="#101010" stroke-opacity="0.6" stroke-width="0.75" stroke-linejoin="round"/>
<polygon points="195.17,373.8 200.19,364.33 195.02,361.41 190.02,370.85" fill="#9c0000" stroke="#101010" stroke-opacity="0.6" stroke-width="0.75" stroke-linejoin="round"/>
<polygon points="84.86,474.98 90.02,471.35 85.26,468.04 80.11,471.64" fill="#128e26" stroke="#101010" stroke-opacity="0.6" stroke-width="0.75" stroke-linejoin="round"/>
<polygon points="115,465.2 120.07,460.3 115.19,457.02 110.14,461.9" fill="#128e26" stroke="#101010" stroke-opacity="0.6" stroke-width="0.75" stroke-linejoin="round"/>
<polygon points="160.14,430.69 165.15,423.54 160.11,420.41 155.12,427.52" fill="#c8ff10" stroke="#101010" stroke-opacity="0.6" stroke-width="0.75" stroke-linejoin="round"/>
<polygon points="200.19,364.33 205.23,354.52 200.03,351.63 195.02,361.41" fill="#9c0000" stroke="#101010" stroke-opacity="0.6" stroke-width="0.75" stroke-linejoin="round"/>
<polygon points="155.13,437.51 160.14,430.69 155.12,427.52 150.12,434.32" fill="#c8ff10" stroke="#101010" stroke-opacity="0.6" stroke-width="0.75" stroke-linejoin="round"/>
<polygon points="69.71,477.94 74.93,474.95 70.22,471.62 65.01,474.59" fill="#0a6a3a" stroke="#101010" stroke-opacity="0.6" stroke-width="0.75" stroke-linejoin="round"/>
<polygon points="130.03,458.36 135.08,452.82 130.14,449.57 125.11,455.09" fill="#10c010" stroke="#101010" stroke-opacity="0.6" stroke-width="0.75" stroke-linejoin="round"/>
<polygon points="205.23,354.52 210.28,344.35 205.06,341.5 200.03,351.63" fill="#800000" stroke="#101010" stroke-opacity="0.6" stroke-width="0.75" stroke-linejoin="round"/>
<polygon points="150.11,444.02 155.13,437.51 150.12,434.32 145.12,440.8" fill="#30ff20" stroke="#101010" stroke-opacity="0.6" stroke-width="0.75" stroke-linejoin="round"/>
<polygon points="94.81,474.68 99.95,470.73 95.14,467.42 90.02,471.35" fill="#128e26" stroke="#101010" stroke-opacity="0.6" stroke-width="0.75" stroke-linejoin="round"/>
<polygon points="109.9,469.79 115,465.2 110.14,461.9 105.05,466.47" fill="#128e26" stroke="#101010" stroke-opacity="0.6" stroke-width="0.75" stroke-linejoin="round"/>
<polygon points="79.67,478.3 84.86,474.98 80.11,471.64 74.93,474.95" fill="#0a6a3a" stroke="#101010" stroke-opacity="0.6" stroke-width="0.75" stroke-linejoin="round"/>
<polygon points="124.97,463.59 130.03,458.36 125.11,455.09 120.07,460.3" fill="#10c010" stroke="#101010" stroke-opacity="0.6" stroke-width="0.75" stroke-linejoin="round"/>
<polygon points="145.09,450.21 150.11,444.02 145.12,440.8 140.1,446.97" fill="#30ff20" stroke="#101010" stroke-opacity="0.6" stroke-width="0.75" stroke-linejoin="round"/>
<polygon points="185.28,403.24 190.3,394.76 185.15,391.71 180.15,400.17" fill="#ff1000" stroke="#101010" stroke-opacity="0.6" stroke-width="0.75" stroke-linejoin="round"/>
<polygon points="180.26,411.39 185.28,403.24 180.15,400.17 175.15,408.29" fill="#ff8000" stroke="#101010" stroke-opacity="0.6" stroke-width="0.75" stroke-linejoin="round"/>
<polygon points="190.3,394.76 195.32,385.94 190.16,382.93 185.15,391.71" fill="#ff1000" stroke="#101010" stroke-opacity="0.6" stroke-width="0.75" stroke-linejoin="round"/>
<polygon points="175.24,419.21 180.26,411.39 175.15,408.29 170.15,416.08" fill="#ffff10" stroke="#101010" stroke-opacity="0.6" stroke-width="0.75" stroke-linejoin="round"/>
<polygon points="195.32,385.94 200.36,376.78 195.17,373.8 190.16,382.93" fill="#cc0000" stroke="#101010" stroke-opacity="0.6" stroke-width="0.75" stroke-linejoin="round"/>
<polygon points="64.46,480.62 69.71,477.94 65.01,474.59 59.76,477.26" fill="#0a6a3a" stroke="#101010" stroke-opacity="0.6" stroke-width="0.75" stroke-linejoin="round"/>
<polygon points="170.23,426.7 175.24,419.21 170.15,416.08 165.15,423.54" fill="#ffff10" stroke="#101010" stroke-opacity="0.6" stroke-width="0.75" stroke-linejoin="round"/>
<polygon points="104.79,474.07 109.9,469.79 105.05,466.47 99.95,470.73" fill="#128e26" stroke="#101010" stroke-opacity="0.6" stroke-width="0.75" stroke-linejoin="round"/>
<polygon points="140.05,456.09 145.09,450.21 140.1,446.97 135.08,452.82" fill="#10c010" stroke="#101010" stroke-opacity="0.6" stroke-width="0.75" stroke-linejoin="round"/>
<polygon points="200.36,376.78 205.4,367.28 200.19,364.33 195.17,373.8" fill="#9c0000" stroke="#101010" stroke-opacity="0.6" stroke-width="0.75" stroke-linejoin="round"/>
<polygon points="89.65,478.33 94.81,474.68 90.02,471.35 84.86,474.98" fill="#128e26" stroke="#101010" stroke-opacity="0.6" stroke-width="0.75" stroke-linejoin="round"/>
<polygon points="119.89,468.51 124.97,463.59 120.07,460.3 115,465.2" fill="#128e26" stroke="#101010" stroke-opacity="0.6" stroke-width="0.75" stroke-linejoin="round"/>
<polygon points="165.21,433.88 170.23,426.7 165.15,423.54 160.14,430.69" fill="#c8ff10" stroke="#101010" stroke-opacity="0.6" stroke-width="0.75" stroke-linejoin="round"/>
<polygon points="205.4,367.28 210.46,357.42 205.23,354.52 200.19,364.33" fill="#9c0000" stroke="#101010" stroke-opacity="0.6" stroke-width="0.75" stroke-linejoin="round"/>
<polygon points="160.18,440.73 165.21,433.88 160.14,430.69 155.13,437.51" fill="#c8ff10" stroke="#101010" stroke-opacity="0.6" stroke-width="0.75" stroke-linejoin="round"/>
<polygon points="74.45,481.31 79.67,478.3 74.93,474.95 69.71,477.94" fill="#0a6a3a" stroke="#101010" stroke-opacity="0.6" stroke-width="0.75" stroke-linejoin="round"/>
<polygon points="134.99,461.66 140.05,456.09 135.08,452.82 130.03,458.36" fill="#10c010" stroke="#101010" stroke-opacity="0.6" stroke-width="0.75" stroke-linejoin="round"/>
<polygon points="210.46,357.42 215.53,347.22 210.28,344.35 205.23,354.52" fill="#800000" stroke="#101010" stroke-opacity="0.6" stroke-width="0.75" stroke-linejoin="round"/>
<polygon points="155.15,447.26 160.18,440.73 155.13,437.51 150.11,444.02" fill="#30ff20" stroke="#101010" stroke-opacity="0.6" stroke-width="0.75" stroke-linejoin="round"/>
<polygon points="99.64,478.05 104.79,474.07 99.95,470.73 94.81,474.68" fill="#128e26" stroke="#101010" stroke-opacity="0.6" stroke-width="0.75" stroke-linejoin="round"/>
<polygon points="114.79,473.13 119.89,468.51 115,465.2 109.9,469.79" fill="#128e26" stroke="#101010" stroke-opacity="0.6" stroke-width="0.75" stroke-linejoin="round"/>
<polygon points="84.45,481.67 89.65,478.33 84.86,474.98 79.67,478.3" fill="#0a6a3a" stroke="#101010" stroke-opacity="0.6" stroke-width="0.75" stroke-linejoin="round"/>
<polygon points="129.92,466.91 134.99,461.66 130.03,458.36 124.97,463.59" fill="#10c010" stroke="#101010" stroke-opacity="0.6" stroke-width="0.75" stroke-linejoin="round"/>
<polygon points="150.11,453.48 155.15,447.26 150.11,444.02 145.09,450.21" fill="#30ff20" stroke="#101010" stroke-opacity="0.6" stroke-width="0.75" stroke-linejoin="round"/>
<polygon points="190.44,406.33 195.48,397.82 190.3,394.76 185.28,403.24" fill="#ff1000" stroke="#101010" stroke-opacity="0.6" stroke-width="0.75" stroke-linejoin="round"/>
<polygon points="185.41,414.51 190.44,406.33 185.28,403.24 180.26,411.39" fill="#ff8000" stroke="#101010" stroke-opacity="0.6" stroke-width="0.75" stroke-linejoin="round"/>
<polygon points="195.48,397.82 200.53,388.97 195.32,385.94 190.3,394.76" fill="#ff1000" stroke="#101010" stroke-opacity="0.6" stroke-width="0.75" stroke-linejoin="round"/>
<polygon points="180.37,422.36 185.41,414.51 180.26,411.39 175.24,419.21" fill="#ffff10" stroke="#101010" stroke-opacity="0.6" stroke-width="0.75" stroke-linejoin="round"/>
<polygon points="200.53,388.97 205.58,379.78 200.36,376.78 195.32,385.94" fill="#cc0000" stroke="#101010" stroke-opacity="0.6" stroke-width="0.75" stroke-linejoin="round"/>
<polygon points="69.18,484.01 74.45,481.31 69.71,477.94 64.46,480.62" fill="#0a6a3a" stroke="#101010" stroke-opacity="0.6" stroke-width="0.75" stroke-linejoin="round"/>
<polygon points="175.34,429.89 180.37,422.36 175.24,419.21 170.23,426.7" fill="#ffff10" stroke="#101010" stroke-opacity="0.6" stroke-width="0.75" stroke-linejoin="round"/>
<polygon points="109.66,477.43 114.79,473.13 109.9,469.79 104.79,474.07" fill="#128e26" stroke="#101010" stroke-opacity="0.6" stroke-width="0.75" stroke-linejoin="round"/>
<polygon points="145.05,459.39 150.11,453.48 145.09,450.21 140.05,456.09" fill="#10c010" stroke="#101010" stroke-opacity="0.6" stroke-width="0.75" stroke-linejoin="round"/>
<polygon points="205.58,379.78 210.65,370.24 205.4,367.28 200.36,376.78" fill="#9c0000" stroke="#101010" stroke-opacity="0.6" stroke-width="0.75" stroke-linejoin="round"/>
<polygon points="94.47,481.71 99.64,478.05 94.81,474.68 89.65,478.33" fill="#128e26" stroke="#101010" stroke-opacity="0.6" stroke-width="0.75" stroke-linejoin="round"/>
<polygon points="124.83,471.86 129.92,466.91 124.97,463.59 119.89,468.51" fill="#128e26" stroke="#101010" stroke-opacity="0.6" stroke-width="0.75" stroke-linejoin="round"/>
<polygon points="170.31,437.09 175.34,429.89 170.23,426.7 165.21,433.88" fill="#c8ff10" stroke="#101010" stroke-opacity="0.6" stroke-width="0.75" stroke-linejoin="round"/>
<polygon points="210.65,370.24 215.73,360.35 210.46,357.42 205.4,367.28" fill="#9c0000" stroke="#101010" stroke-opacity="0.6" stroke-width="0.75" stroke-linejoin="round"/>
<polygon points="165.26,443.97 170.31,437.09 165.21,433.88 160.18,440.73" fill="#c8ff10" stroke="#101010" stroke-opacity="0.6" stroke-width="0.75" stroke-linejoin="round"/>
<polygon points="79.22,484.7 84.45,481.67 79.67,478.3 74.45,481.31" fill="#0a6a3a" stroke="#101010" stroke-opacity="0.6" stroke-width="0.75" stroke-linejoin="round"/>
<polygon points="139.98,464.98 145.05,459.39 140.05,456.09 134.99,461.66" fill="#10c010" stroke="#101010" stroke-opacity="0.6" stroke-width="0.75" stroke-linejoin="round"/>
<polygon points="215.73,360.35 220.82,350.11 215.53,347.22 210.46,357.42" fill="#800000" stroke="#101010" stroke-opacity="0.6" stroke-width="0.75" stroke-linejoin="round"/>
<polygon points="160.22,450.53 165.26,443.97 160.18,440.73 155.15,447.26" fill="#30ff20" stroke="#101010" stroke-opacity="0.6" stroke-width="0.75" stroke-linejoin="round"/>
<polygon points="104.51,481.43 109.66,477.43 104.79,474.07 99.64,478.05" fill="#128e26" stroke="#101010" stroke-opacity="0.6" stroke-width="0.75" stroke-linejoin="round"/>
<polygon points="119.71,476.49 124.83,471.86 119.89,468.51 114.79,473.13" fill="#128e26" stroke="#101010" stroke-opacity="0.6" stroke-width="0.75" stroke-linejoin="round"/>
<polygon points="89.26,485.07 94.47,481.71 89.65,478.33 84.45,481.67" fill="#0a6a3a" stroke="#101010" stroke-opacity="0.6" stroke-width="0.75" stroke-linejoin="round"/>
<polygon points="134.9,470.26 139.98,464.98 134.99,461.66 129.92,466.91" fill="#10c010" stroke="#101010" stroke-opacity="0.6" stroke-width="0.75" stroke-linejoin="round"/>
<polygon points="155.16,456.78 160.22,450.53 155.15,447.26 150.11,453.48" fill="#30ff20" stroke="#101010" stroke-opacity="0.6" stroke-width="0.75" stroke-linejoin="round"/>
<polygon points="195.65,409.45 200.71,400.91 195.48,397.82 190.44,406.33" fill="#ff1000" stroke="#101010" stroke-opacity="0.6" stroke-width="0.75" stroke-linejoin="round"/>
<polygon points="190.6,417.66 195.65,409.45 190.44,406.33 185.41,414.51" fill="#ff8000" stroke="#101010" stroke-opacity="0.6" stroke-width="0.75" stroke-linejoin="round"/>
<polygon points="200.71,400.91 205.77,392.02 200.53,388.97 195.48,397.82" fill="#ff1000" stroke="#101010" stroke-opacity="0.6" stroke-width="0.75" stroke-linejoin="round"/>
<polygon points="185.55,425.54 190.6,417.66 185.41,414.51 180.37,422.36" fill="#ffff10" stroke="#101010" stroke-opacity="0.6" stroke-width="0.75" stroke-linejoin="round"/>
<polygon points="205.77,392.02 210.85,382.8 205.58,379.78 200.53,388.97" fill="#cc0000" stroke="#101010" stroke-opacity="0.6" stroke-width="0.75" stroke-linejoin="round"/>
<polygon points="73.95,487.43 79.22,484.7 74.45,481.31 69.18,484.01" fill="#0a6a3a" stroke="#101010" stroke-opacity="0.6" stroke-width="0.75" stroke-linejoin="round"/>
<polygon points="180.5,433.1 185.55,425.54 180.37,422.36 175.34,429.89" fill="#ffff10" stroke="#101010" stroke-opacity="0.6" stroke-width="0.75" stroke-linejoin="round"/>
<polygon points="114.58,480.82 119.71,476.49 114.79,473.13 109.66,477.43" fill="#128e26" stroke="#101010" stroke-opacity="0.6" stroke-width="0.75" stroke-linejoin="round"/>
<polygon points="150.09,462.71 155.16,456.78 150.11,453.48 145.05,459.39" fill="#10c010" stroke="#101010" stroke-opacity="0.6" stroke-width="0.75" stroke-linejoin="round"/>
<polygon points="210.85,382.8 215.94,373.23 210.65,370.24 205.58,379.78" fill="#9c0000" stroke="#101010" stroke-opacity="0.6" stroke-width="0.75" stroke-linejoin="round"/>
<polygon points="99.33,485.12 104.51,481.43 99.64,478.05 94.47,481.71" fill="#128e26" stroke="#101010" stroke-opacity="0.6" stroke-width="0.75" stroke-linejoin="round"/>
<polygon points="129.8,475.23 134.9,470.26 129.92,466.91 124.83,471.86" fill="#128e26" stroke="#101010" stroke-opacity="0.6" stroke-width="0.75" stroke-linejoin="round"/>
<polygon points="175.44,440.33 180.5,433.1 175.34,429.89 170.31,437.09" fill="#c8ff10" stroke="#101010" stroke-opacity="0.6" stroke-width="0.75" stroke-linejoin="round"/>
<polygon points="215.94,373.23 221.04,363.3 215.73,360.35 210.65,370.24" fill="#9c0000" stroke="#101010" stroke-opacity="0.6" stroke-width="0.75" stroke-linejoin="round"/>
<polygon points="170.39,447.24 175.44,440.33 170.31,437.09 165.26,443.97" fill="#c8ff10" stroke="#101010" stroke-opacity="0.6" stroke-width="0.75" stroke-linejoin="round"/>
<polygon points="84.02,488.13 89.26,485.07 84.45,481.67 79.22,484.7" fill="#0a6a3a" stroke="#101010" stroke-opacity="0.6" stroke-width="0.75" stroke-linejoin="round"/>
<polygon points="145.01,468.32 150.09,462.71 145.05,459.39 139.98,464.98" fill="#10c010" stroke="#101010" stroke-opacity="0.6" stroke-width="0.75" stroke-linejoin="round"/>
<polygon points="221.04,363.3 226.16,353.03 220.82,350.11 215.73,360.35" fill="#800000" stroke="#101010" stroke-opacity="0.6" stroke-width="0.75" stroke-linejoin="round"/>
<polygon points="165.33,453.82 170.39,447.24 165.26,443.97 160.22,450.53" fill="#30ff20" stroke="#101010" stroke-opacity="0.6" stroke-width="0.75" stroke-linejoin="round"/>
<polygon points="109.41,484.84 114.58,480.82 109.66,477.43 104.51,481.43" fill="#128e26" stroke="#101010" stroke-opacity="0.6" stroke-width="0.75" stroke-linejoin="round"/>
<polygon points="124.67,479.89 129.8,475.23 124.83,471.86 119.71,476.49" fill="#128e26" stroke="#101010" stroke-opacity="0.6" stroke-width="0.75" stroke-linejoin="round"/>
<polygon points="94.11,488.5 99.33,485.12 94.47,481.71 89.26,485.07" fill="#0a6a3a" stroke="#101010" stroke-opacity="0.6" stroke-width="0.75" stroke-linejoin="round"/>
<polygon points="139.92,473.63 145.01,468.32 139.98,464.98 134.9,470.26" fill="#10c010" stroke="#101010" stroke-opacity="0.6" stroke-width="0.75" stroke-linejoin="round"/>
<polygon points="160.26,460.1 165.33,453.82 160.22,450.53 155.16,456.78" fill="#30ff20" stroke="#101010" stroke-opacity="0.6" stroke-width="0.75" stroke-linejoin="round"/>
<polygon points="200.9,412.59 205.97,404.02 200.71,400.91 195.65,409.45" fill="#ff1000" stroke="#101010" stroke-opacity="0.6" stroke-width="0.75" stroke-linejoin="round"/>
<polygon points="195.82,420.84 200.9,412.59 195.65,409.45 190.6,417.66" fill="#ff8000" stroke="#101010" stroke-opacity="0.6" stroke-width="0.75" stroke-linejoin="round"/>
<polygon points="205.97,404.02 211.06,395.1 205.77,392.02 200.71,400.91" fill="#ff1000" stroke="#101010" stroke-opacity="0.6" stroke-width="0.75" stroke-linejoin="round"/>
<polygon points="190.76,428.75 195.82,420.84 190.6,417.66 185.55,425.54" fill="#ffff10" stroke="#101010" stroke-opacity="0.6" stroke-width="0.75" stroke-linejoin="round"/>
<polygon points="211.06,395.1 216.16,385.84 210.85,382.8 205.77,392.02" fill="#cc0000" stroke="#101010" stroke-opacity="0.6" stroke-width="0.75" stroke-linejoin="round"/>
<polygon points="78.74,490.87 84.02,488.13 79.22,484.7 73.95,487.43" fill="#0a6a3a" stroke="#101010" stroke-opacity="0.6" stroke-width="0.75" stroke-linejoin="round"/>
<polygon points="185.69,436.33 190.76,428.75 185.55,425.54 180.5,433.1" fill="#ffff10" stroke="#101010" stroke-opacity="0.6" stroke-width="0.75" stroke-linejoin="round"/>
<polygon points="119.52,484.24 124.67,479.89 119.71,476.49 114.58,480.82" fill="#128e26" stroke="#101010" stroke-opacity="0.6" stroke-width="0.75" stroke-linejoin="round"/>
<polygon points="155.18,466.05 160.26,460.1 155.16,456.78 150.09,462.71" fill="#10c010" stroke="#101010" stroke-opacity="0.6" stroke-width="0.75" stroke-linejoin="round"/>
<polygon points="216.16,385.84 221.26,376.24 215.94,373.23 210.85,382.8" fill="#9c0000" stroke="#101010" stroke-opacity="0.6" stroke-width="0.75" stroke-linejoin="round"/>
<polygon points="104.22,488.55 109.41,484.84 104.51,481.43 99.33,485.12" fill="#128e26" stroke="#101010" stroke-opacity="0.6" stroke-width="0.75" stroke-linejoin="round"/>
<polygon points="134.8,478.62 139.92,473.63 134.9,470.26 129.8,475.23" fill="#128e26" stroke="#101010" stroke-opacity="0.6" stroke-width="0.75" stroke-linejoin="round"/>
<polygon points="180.62,443.59 185.69,436.33 180.5,433.1 175.44,440.33" fill="#c8ff10" stroke="#101010" stroke-opacity="0.6" stroke-width="0.75" stroke-linejoin="round"/>
<polygon points="221.26,376.24 226.39,366.28 221.04,363.3 215.94,373.23" fill="#9c0000" stroke="#101010" stroke-opacity="0.6" stroke-width="0.75" stroke-linejoin="round"/>
<polygon points="175.55,450.53 180.62,443.59 175.44,440.33 170.39,447.24" fill="#c8ff10" stroke="#101010" stroke-opacity="0.6" stroke-width="0.75" stroke-linejoin="round"/>
<polygon points="88.86,491.57 94.11,488.5 89.26,485.07 84.02,488.13" fill="#0a6a3a" stroke="#101010" stroke-opacity="0.6" stroke-width="0.75" stroke-linejoin="round"/>
<polygon points="150.08,471.69 155.18,466.05 150.09,462.71 145.01,468.32" fill="#10c010" stroke="#101010" stroke-opacity="0.6" stroke-width="0.75" stroke-linejoin="round"/>
<polygon points="226.39,366.28 231.53,355.96 226.16,353.03 221.04,363.3" fill="#800000" stroke="#101010" stroke-opacity="0.6" stroke-width="0.75" stroke-linejoin="round"/>
<polygon points="170.47,457.14 175.55,450.53 170.39,447.24 165.33,453.82" fill="#30ff20" stroke="#101010" stroke-opacity="0.6" stroke-width="0.75" stroke-linejoin="round"/>
<polygon points="114.35,488.28 119.52,484.24 114.58,480.82 109.41,484.84" fill="#128e26" stroke="#101010" stroke-opacity="0.6" stroke-width="0.75" stroke-linejoin="round"/>
<polygon points="129.67,483.3 134.8,478.62 129.8,475.23 124.67,479.89" fill="#128e26" stroke="#101010" stroke-opacity="0.6" stroke-width="0.75" stroke-linejoin="round"/>
<polygon points="99,491.95 104.22,488.55 99.33,485.12 94.11,488.5" fill="#0a6a3a" stroke="#101010" stroke-opacity="0.6" stroke-width="0.75" stroke-linejoin="round"/>
<polygon points="144.97,477.02 150.08,471.69 145.01,468.32 139.92,473.63" fill="#10c010" stroke="#101010" stroke-opacity="0.6" stroke-width="0.75" stroke-linejoin="round"/>
<polygon points="165.39,463.44 170.47,457.14 165.33,453.82 160.26,460.1" fill="#30ff20" stroke="#101010" stroke-opacity="0.6" stroke-width="0.75" stroke-linejoin="round"/>
<polygon points="206.18,415.76 211.28,407.15 205.97,404.02 200.9,412.59" fill="#ff1000" stroke="#101010" stroke-opacity="0.6" stroke-width="0.75" stroke-linejoin="round"/>
<polygon points="201.09,424.03 206.18,415.76 200.9,412.59 195.82,420.84" fill="#ff8000" stroke="#101010" stroke-opacity="0.6" stroke-width="0.75" stroke-linejoin="round"/>
<polygon points="211.28,407.15 216.38,398.2 211.06,395.1 205.97,404.02" fill="#ff1000" stroke="#101010" stroke-opacity="0.6" stroke-width="0.75" stroke-linejoin="round"/>
<polygon points="196,431.97 201.09,424.03 195.82,420.84 190.76,428.75" fill="#ffff10" stroke="#101010" stroke-opacity="0.6" stroke-width="0.75" stroke-linejoin="round"/>
<polygon points="216.38,398.2 221.5,388.91 216.16,385.84 211.06,395.1" fill="#cc0000" stroke="#101010" stroke-opacity="0.6" stroke-width="0.75" stroke-linejoin="round"/>
<polygon points="83.58,494.33 88.86,491.57 84.02,488.13 78.74,490.87" fill="#0a6a3a" stroke="#101010" stroke-opacity="0.6" stroke-width="0.75" stroke-linejoin="round"/>
<polygon points="190.92,439.59 196,431.97 190.76,428.75 185.69,436.33" fill="#ffff10" stroke="#101010" stroke-opacity="0.6" stroke-width="0.75" stroke-linejoin="round"/>
<polygon points="124.51,487.68 129.67,483.3 124.67,479.89 119.52,484.24" fill="#128e26" stroke="#101010" stroke-opacity="0.6" stroke-width="0.75" stroke-linejoin="round"/>
<polygon points="160.29,469.42 165.39,463.44 160.26,460.1 155.18,466.05" fill="#10c010" stroke="#101010" stroke-opacity="0.6" stroke-width="0.75" stroke-linejoin="round"/>
<polygon points="221.5,388.91 226.63,379.27 221.26,376.24 216.16,385.84" fill="#9c0000" stroke="#101010" stroke-opacity="0.6" stroke-width="0.75" stroke-linejoin="round"/>
<polygon points="109.15,492.01 114.35,488.28 109.41,484.84 104.22,488.55" fill="#128e26" stroke="#101010" stroke-opacity="0.6" stroke-width="0.75" stroke-linejoin="round"/>
<polygon points="139.85,482.04 144.97,477.02 139.92,473.63 134.8,478.62" fill="#128e26" stroke="#101010" stroke-opacity="0.6" stroke-width="0.75" stroke-linejoin="round"/>
<polygon points="185.84,446.88 190.92,439.59 185.69,436.33 180.62,443.59" fill="#c8ff10" stroke="#101010" stroke-opacity="0.6" stroke-width="0.75" stroke-linejoin="round"/>
<polygon points="226.63,379.27 231.78,369.27 226.39,366.28 221.26,376.24" fill="#9c0000" stroke="#101010" stroke-opacity="0.6" stroke-width="0.75" stroke-linejoin="round"/>
<polygon points="180.75,453.84 185.84,446.88 180.62,443.59 175.55,450.53" fill="#c8ff10" stroke="#101010" stroke-opacity="0.6" stroke-width="0.75" stroke-linejoin="round"/>
<polygon points="93.74,495.04 99,491.95 94.11,488.5 88.86,491.57" fill="#0a6a3a" stroke="#101010" stroke-opacity="0.6" stroke-width="0.75" stroke-linejoin="round"/>
<polygon points="155.19,475.09 160.29,469.42 155.18,466.05 150.08,471.69" fill="#10c010" stroke="#101010" stroke-opacity="0.6" stroke-width="0.75" stroke-linejoin="round"/>
<polygon points="231.78,369.27 236.94,358.92 231.53,355.96 226.39,366.28" fill="#800000" stroke="#101010" stroke-opacity="0.6" stroke-width="0.75" stroke-linejoin="round"/>
<polygon points="175.66,460.48 180.75,453.84 175.55,450.53 170.47,457.14" fill="#30ff20" stroke="#101010" stroke-opacity="0.6" stroke-width="0.75" stroke-linejoin="round"/>
<polygon points="119.33,491.74 124.51,487.68 119.52,484.24 114.35,488.28" fill="#128e26" stroke="#101010" stroke-opacity="0.6" stroke-width="0.75" stroke-linejoin="round"/>
<polygon points="134.7,486.75 139.85,482.04 134.8,478.62 129.67,483.3" fill="#128e26" stroke="#101010" stroke-opacity="0.6" stroke-width="0.75" stroke-linejoin="round"/>
<polygon points="103.92,495.43 109.15,492.01 104.22,488.55 99,491.95" fill="#0a6a3a" stroke="#101010" stroke-opacity="0.6" stroke-width="0.75" stroke-linejoin="round"/>
<polygon points="150.07,480.44 155.19,475.09 150.08,471.69 144.97,477.02" fill="#10c010" stroke="#101010" stroke-opacity="0.6" stroke-width="0.75" stroke-linejoin="round"/>
<polygon points="170.56,466.81 175.66,460.48 170.47,457.14 165.39,463.44" fill="#30ff20" stroke="#101010" stroke-opacity="0.6" stroke-width="0.75" stroke-linejoin="round"/>
<polygon points="211.51,418.95 216.62,410.31 211.28,407.15 206.18,415.76" fill="#ff1000" stroke="#101010" stroke-opacity="0.6" stroke-width="0.75" stroke-linejoin="round"/>
<polygon points="206.4,427.25 211.51,418.95 206.18,415.76 201.09,424.03" fill="#ff8000" stroke="#101010" stroke-opacity="0.6" stroke-width="0.75" stroke-linejoin="round"/>
<polygon points="216.62,410.31 221.75,401.32 216.38,398.2 211.28,407.15" fill="#ff1000" stroke="#101010" stroke-opacity="0.6" stroke-width="0.75" stroke-linejoin="round"/>
<polygon points="201.29,435.23 206.4,427.25 201.09,424.03 196,431.97" fill="#ffff10" stroke="#101010" stroke-opacity="0.6" stroke-width="0.75" stroke-linejoin="round"/>
<polygon points="221.75,401.32 226.89,392 221.5,388.91 216.38,398.2" fill="#cc0000" stroke="#101010" stroke-opacity="0.6" stroke-width="0.75" stroke-linejoin="round"/>
<polygon points="88.45,497.83 93.74,495.04 88.86,491.57 83.58,494.33" fill="#0a6a3a" stroke="#101010" stroke-opacity="0.6" stroke-width="0.75" stroke-linejoin="round"/>
<polygon points="196.19,442.87 201.29,435.23 196,431.97 190.92,439.59" fill="#ffff10" stroke="#101010" stroke-opacity="0.6" stroke-width="0.75" stroke-linejoin="round"/>
<polygon points="129.54,491.14 134.7,486.75 129.67,483.3 124.51,487.68" fill="#128e26" stroke="#101010" stroke-opacity="0.6" stroke-width="0.75" stroke-linejoin="round"/>
<polygon points="165.45,472.82 170.56,466.81 165.39,463.44 160.29,469.42" fill="#10c010" stroke="#101010" stroke-opacity="0.6" stroke-width="0.75" stroke-linejoin="round"/>
<polygon points="226.89,392 232.04,382.32 226.63,379.27 221.5,388.91" fill="#9c0000" stroke="#101010" stroke-opacity="0.6" stroke-width="0.75" stroke-linejoin="round"/>
<polygon points="114.12,495.49 119.33,491.74 114.35,488.28 109.15,492.01" fill="#128e26" stroke="#101010" stroke-opacity="0.6" stroke-width="0.75" stroke-linejoin="round"/>
<polygon points="144.93,485.49 150.07,480.44 144.97,477.02 139.85,482.04" fill="#128e26" stroke="#101010" stroke-opacity="0.6" stroke-width="0.75" stroke-linejoin="round"/>
<polygon points="191.09,450.19 196.19,442.87 190.92,439.59 185.84,446.88" fill="#c8ff10" stroke="#101010" stroke-opacity="0.6" stroke-width="0.75" stroke-linejoin="round"/>
<polygon points="232.04,382.32 237.21,372.29 231.78,369.27 226.63,379.27" fill="#9c0000" stroke="#101010" stroke-opacity="0.6" stroke-width="0.75" stroke-linejoin="round"/>
<polygon points="185.99,457.18 191.09,450.19 185.84,446.88 180.75,453.84" fill="#c8ff10" stroke="#101010" stroke-opacity="0.6" stroke-width="0.75" stroke-linejoin="round"/>
<polygon points="98.66,498.54 103.92,495.43 99,491.95 93.74,495.04" fill="#0a6a3a" stroke="#101010" stroke-opacity="0.6" stroke-width="0.75" stroke-linejoin="round"/>
<polygon points="160.33,478.51 165.45,472.82 160.29,469.42 155.19,475.09" fill="#10c010" stroke="#101010" stroke-opacity="0.6" stroke-width="0.75" stroke-linejoin="round"/>
<polygon points="237.21,372.29 242.4,361.91 236.94,358.92 231.78,369.27" fill="#800000" stroke="#101010" stroke-opacity="0.6" stroke-width="0.75" stroke-linejoin="round"/>
<polygon points="180.88,463.85 185.99,457.18 180.75,453.84 175.66,460.48" fill="#30ff20" stroke="#101010" stroke-opacity="0.6" stroke-width="0.75" stroke-linejoin="round"/>
<polygon points="124.34,495.23 129.54,491.14 124.51,487.68 119.33,491.74" fill="#128e26" stroke="#101010" stroke-opacity="0.6" stroke-width="0.75" stroke-linejoin="round"/>
<polygon points="139.78,490.22 144.93,485.49 139.85,482.04 134.7,486.75" fill="#128e26" stroke="#101010" stroke-opacity="0.6" stroke-width="0.75" stroke-linejoin="round"/>
<polygon points="108.88,498.94 114.12,495.49 109.15,492.01 103.92,495.43" fill="#0a6a3a" stroke="#101010" stroke-opacity="0.6" stroke-width="0.75" stroke-linejoin="round"/>
<polygon points="155.2,483.89 160.33,478.51 155.19,475.09 150.07,480.44" fill="#10c010" stroke="#101010" stroke-opacity="0.6" stroke-width="0.75" stroke-linejoin="round"/>
<polygon points="175.77,470.2 180.88,463.85 175.66,460.48 170.56,466.81" fill="#30ff20" stroke="#101010" stroke-opacity="0.6" stroke-width="0.75" stroke-linejoin="round"/>
<polygon points="216.87,422.16 222.01,413.49 216.62,410.31 211.51,418.95" fill="#ff1000" stroke="#101010" stroke-opacity="0.6" stroke-width="0.75" stroke-linejoin="round"/>
<polygon points="211.74,430.5 216.87,422.16 211.51,418.95 206.4,427.25" fill="#ff8000" stroke="#101010" stroke-opacity="0.6" stroke-width="0.75" stroke-linejoin="round"/>
<polygon points="222.01,413.49 227.15,404.47 221.75,401.32 216.62,410.31" fill="#ff1000" stroke="#101010" stroke-opacity="0.6" stroke-width="0.75" stroke-linejoin="round"/>
<polygon points="206.62,438.5 211.74,430.5 206.4,427.25 201.29,435.23" fill="#ffff10" stroke="#101010" stroke-opacity="0.6" stroke-width="0.75" stroke-linejoin="round"/>
<polygon points="227.15,404.47 232.31,395.11 226.89,392 221.75,401.32" fill="#cc0000" stroke="#101010" stroke-opacity="0.6" stroke-width="0.75" stroke-linejoin="round"/>
<polygon points="93.36,501.34 98.66,498.54 93.74,495.04 88.45,497.83" fill="#0a6a3a" stroke="#101010" stroke-opacity="0.6" stroke-width="0.75" stroke-linejoin="round"/>
<polygon points="201.5,446.18 206.62,438.5 201.29,435.23 196.19,442.87" fill="#ffff10" stroke="#101010" stroke-opacity="0.6" stroke-width="0.75" stroke-linejoin="round"/>
<polygon points="134.6,494.64 139.78,490.22 134.7,486.75 129.54,491.14" fill="#128e26" stroke="#101010" stroke-opacity="0.6" stroke-width="0.75" stroke-linejoin="round"/>
<polygon points="170.65,476.24 175.77,470.2 170.56,466.81 165.45,472.82" fill="#10c010" stroke="#101010" stroke-opacity="0.6" stroke-width="0.75" stroke-linejoin="round"/>
<polygon points="232.31,395.11 237.49,385.4 232.04,382.32 226.89,392" fill="#9c0000" stroke="#101010" stroke-opacity="0.6" stroke-width="0.75" stroke-linejoin="round"/>
<polygon points="119.13,499 124.34,495.23 119.33,491.74 114.12,495.49" fill="#128e26" stroke="#101010" stroke-opacity="0.6" stroke-width="0.75" stroke-linejoin="round"/>
<polygon points="150.05,488.96 155.2,483.89 150.07,480.44 144.93,485.49" fill="#128e26" stroke="#101010" stroke-opacity="0.6" stroke-width="0.75" stroke-linejoin="round"/>
<polygon points="196.39,453.52 201.5,446.18 196.19,442.87 191.09,450.19" fill="#c8ff10" stroke="#101010" stroke-opacity="0.6" stroke-width="0.75" stroke-linejoin="round"/>
<polygon points="237.49,385.4 242.68,375.33 237.21,372.29 232.04,382.32" fill="#9c0000" stroke="#101010" stroke-opacity="0.6" stroke-width="0.75" stroke-linejoin="round"/>
<polygon points="191.27,460.55 196.39,453.52 191.09,450.19 185.99,457.18" fill="#c8ff10" stroke="#101010" stroke-opacity="0.6" stroke-width="0.75" stroke-linejoin="round"/>
<polygon points="103.61,502.07 108.88,498.94 103.92,495.43 98.66,498.54" fill="#0a6a3a" stroke="#101010" stroke-opacity="0.6" stroke-width="0.75" stroke-linejoin="round"/>
<polygon points="165.52,481.96 170.65,476.24 165.45,472.82 160.33,478.51" fill="#10c010" stroke="#101010" stroke-opacity="0.6" stroke-width="0.75" stroke-linejoin="round"/>
<polygon points="242.68,375.33 247.89,364.91 242.4,361.91 237.21,372.29" fill="#800000" stroke="#101010" stroke-opacity="0.6" stroke-width="0.75" stroke-linejoin="round"/>
<polygon points="186.15,467.25 191.27,460.55 185.99,457.18 180.88,463.85" fill="#30ff20" stroke="#101010" stroke-opacity="0.6" stroke-width="0.75" stroke-linejoin="round"/>
<polygon points="129.4,498.74 134.6,494.64 129.54,491.14 124.34,495.23" fill="#128e26" stroke="#101010" stroke-opacity="0.6" stroke-width="0.75" stroke-linejoin="round"/>
<polygon points="144.89,493.71 150.05,488.96 144.93,485.49 139.78,490.22" fill="#128e26" stroke="#101010" stroke-opacity="0.6" stroke-width="0.75" stroke-linejoin="round"/>
<polygon points="113.88,502.47 119.13,499 114.12,495.49 108.88,498.94" fill="#0a6a3a" stroke="#101010" stroke-opacity="0.6" stroke-width="0.75" stroke-linejoin="round"/>
<polygon points="160.37,487.36 165.52,481.96 160.33,478.51 155.2,483.89" fill="#10c010" stroke="#101010" stroke-opacity="0.6" stroke-width="0.75" stroke-linejoin="round"/>
<polygon points="181.02,473.63 186.15,467.25 180.88,463.85 175.77,470.2" fill="#30ff20" stroke="#101010" stroke-opacity="0.6" stroke-width="0.75" stroke-linejoin="round"/>
<polygon points="222.28,425.4 227.43,416.69 222.01,413.49 216.87,422.16" fill="#ff1000" stroke="#101010" stroke-opacity="0.6" stroke-width="0.75" stroke-linejoin="round"/>
<polygon points="217.13,433.77 222.28,425.4 216.87,422.16 211.74,430.5" fill="#ff8000" stroke="#101010" stroke-opacity="0.6" stroke-width="0.75" stroke-linejoin="round"/>
<polygon points="227.43,416.69 232.6,407.64 227.15,404.47 222.01,413.49" fill="#ff1000" stroke="#101010" stroke-opacity="0.6" stroke-width="0.75" stroke-linejoin="round"/>
<polygon points="211.99,441.8 217.13,433.77 211.74,430.5 206.62,438.5" fill="#ffff10" stroke="#101010" stroke-opacity="0.6" stroke-width="0.75" stroke-linejoin="round"/>
<polygon points="232.6,407.64 237.78,398.25 232.31,395.11 227.15,404.47" fill="#cc0000" stroke="#101010" stroke-opacity="0.6" stroke-width="0.75" stroke-linejoin="round"/>
<polygon points="98.3,504.89 103.61,502.07 98.66,498.54 93.36,501.34" fill="#0a6a3a" stroke="#101010" stroke-opacity="0.6" stroke-width="0.75" stroke-linejoin="round"/>
<polygon points="206.85,449.51 211.99,441.8 206.62,438.5 201.5,446.18" fill="#ffff10" stroke="#101010" stroke-opacity="0.6" stroke-width="0.75" stroke-linejoin="round"/>
<polygon points="139.7,498.15 144.89,493.71 139.78,490.22 134.6,494.64" fill="#128e26" stroke="#101010" stroke-opacity="0.6" stroke-width="0.75" stroke-linejoin="round"/>
<polygon points="175.89,479.69 181.02,473.63 175.77,470.2 170.65,476.24" fill="#10c010" stroke="#101010" stroke-opacity="0.6" stroke-width="0.75" stroke-linejoin="round"/>
<polygon points="237.78,398.25 242.98,388.5 237.49,385.4 232.31,395.11" fill="#9c0000" stroke="#101010" stroke-opacity="0.6" stroke-width="0.75" stroke-linejoin="round"/>
<polygon points="124.17,502.54 129.4,498.74 124.34,495.23 119.13,499" fill="#128e26" stroke="#101010" stroke-opacity="0.6" stroke-width="0.75" stroke-linejoin="round"/>
<polygon points="155.21,492.46 160.37,487.36 155.2,483.89 150.05,488.96" fill="#128e26" stroke="#101010" stroke-opacity="0.6" stroke-width="0.75" stroke-linejoin="round"/>
<polygon points="201.72,456.89 206.85,449.51 201.5,446.18 196.39,453.52" fill="#c8ff10" stroke="#101010" stroke-opacity="0.6" stroke-width="0.75" stroke-linejoin="round"/>
<polygon points="242.98,388.5 248.19,378.4 242.68,375.33 237.49,385.4" fill="#9c0000" stroke="#101010" stroke-opacity="0.6" stroke-width="0.75" stroke-linejoin="round"/>
<polygon points="196.59,463.94 201.72,456.89 196.39,453.52 191.27,460.55" fill="#c8ff10" stroke="#101010" stroke-opacity="0.6" stroke-width="0.75" stroke-linejoin="round"/>
<polygon points="108.6,505.62 113.88,502.47 108.88,498.94 103.61,502.07" fill="#0a6a3a" stroke="#101010" stroke-opacity="0.6" stroke-width="0.75" stroke-linejoin="round"/>
<polygon points="170.74,485.43 175.89,479.69 170.65,476.24 165.52,481.96" fill="#10c010" stroke="#101010" stroke-opacity="0.6" stroke-width="0.75" stroke-linejoin="round"/>
<polygon points="248.19,378.4 253.43,367.94 247.89,364.91 242.68,375.33" fill="#800000" stroke="#101010" stroke-opacity="0.6" stroke-width="0.75" stroke-linejoin="round"/>
<polygon points="191.45,470.67 196.59,463.94 191.27,460.55 186.15,467.25" fill="#30ff20" stroke="#101010" stroke-opacity="0.6" stroke-width="0.75" stroke-linejoin="round"/>
<polygon points="134.49,502.29 139.7,498.15 134.6,494.64 129.4,498.74" fill="#128e26" stroke="#101010" stroke-opacity="0.6" stroke-width="0.75" stroke-linejoin="round"/>
<polygon points="150.04,497.23 155.21,492.46 150.05,488.96 144.89,493.71" fill="#128e26" stroke="#101010" stroke-opacity="0.6" stroke-width="0.75" stroke-linejoin="round"/>
<polygon points="118.91,506.03 124.17,502.54 119.13,499 113.88,502.47" fill="#0a6a3a" stroke="#101010" stroke-opacity="0.6" stroke-width="0.75" stroke-linejoin="round"/>
<polygon points="165.59,490.86 170.74,485.43 165.52,481.96 160.37,487.36" fill="#10c010" stroke="#101010" stroke-opacity="0.6" stroke-width="0.75" stroke-linejoin="round"/>
<polygon points="186.31,477.07 191.45,470.67 186.15,467.25 181.02,473.63" fill="#30ff20" stroke="#101010" stroke-opacity="0.6" stroke-width="0.75" stroke-linejoin="round"/>
<polygon points="227.72,428.66 232.9,419.92 227.43,416.69 222.28,425.4" fill="#ff1000" stroke="#101010" stroke-opacity="0.6" stroke-width="0.75" stroke-linejoin="round"/>
<polygon points="222.56,437.06 227.72,428.66 222.28,425.4 217.13,433.77" fill="#ff8000" stroke="#101010" stroke-opacity="0.6" stroke-width="0.75" stroke-linejoin="round"/>
<polygon points="232.9,419.92 238.09,410.84 232.6,407.64 227.43,416.69" fill="#ff1000" stroke="#101010" stroke-opacity="0.6" stroke-width="0.75" stroke-linejoin="round"/>
<polygon points="217.4,445.13 222.56,437.06 217.13,433.77 211.99,441.8" fill="#ffff10" stroke="#101010" stroke-opacity="0.6" stroke-width="0.75" stroke-linejoin="round"/>
<polygon points="238.09,410.84 243.29,401.41 237.78,398.25 232.6,407.64" fill="#cc0000" stroke="#101010" stroke-opacity="0.6" stroke-width="0.75" stroke-linejoin="round"/>
<polygon points="103.28,508.46 108.6,505.62 103.61,502.07 98.3,504.89" fill="#0a6a3a" stroke="#101010" stroke-opacity="0.6" stroke-width="0.75" stroke-linejoin="round"/>
<polygon points="212.25,452.87 217.4,445.13 211.99,441.8 206.85,449.51" fill="#ffff10" stroke="#101010" stroke-opacity="0.6" stroke-width="0.75" stroke-linejoin="round"/>
<polygon points="144.84,501.7 150.04,497.23 144.89,493.71 139.7,498.15" fill="#128e26" stroke="#101010" stroke-opacity="0.6" stroke-width="0.75" stroke-linejoin="round"/>
<polygon points="181.16,483.16 186.31,477.07 181.02,473.63 175.89,479.69" fill="#10c010" stroke="#101010" stroke-opacity="0.6" stroke-width="0.75" stroke-linejoin="round"/>
<polygon points="243.29,401.41 248.51,391.63 242.98,388.5 237.78,398.25" fill="#9c0000" stroke="#101010" stroke-opacity="0.6" stroke-width="0.75" stroke-linejoin="round"/>
<polygon points="129.25,506.11 134.49,502.29 129.4,498.74 124.17,502.54" fill="#128e26" stroke="#101010" stroke-opacity="0.6" stroke-width="0.75" stroke-linejoin="round"/>
<polygon points="160.41,495.98 165.59,490.86 160.37,487.36 155.21,492.46" fill="#128e26" stroke="#101010" stroke-opacity="0.6" stroke-width="0.75" stroke-linejoin="round"/>
<polygon points="207.1,460.27 212.25,452.87 206.85,449.51 201.72,456.89" fill="#c8ff10" stroke="#101010" stroke-opacity="0.6" stroke-width="0.75" stroke-linejoin="round"/>
<polygon points="248.51,391.63 253.75,381.49 248.19,378.4 242.98,388.5" fill="#9c0000" stroke="#101010" stroke-opacity="0.6" stroke-width="0.75" stroke-linejoin="round"/>
<polygon points="201.95,467.35 207.1,460.27 201.72,456.89 196.59,463.94" fill="#c8ff10" stroke="#101010" stroke-opacity="0.6" stroke-width="0.75" stroke-linejoin="round"/>
<polygon points="113.63,509.2 118.91,506.03 113.88,502.47 108.6,505.62" fill="#0a6a3a" stroke="#101010" stroke-opacity="0.6" stroke-width="0.75" stroke-linejoin="round"/>
<polygon points="176.01,488.93 181.16,483.16 175.89,479.69 170.74,485.43" fill="#10c010" stroke="#101010" stroke-opacity="0.6" stroke-width="0.75" stroke-linejoin="round"/>
<polygon points="253.75,381.49 259.01,370.99 253.43,367.94 248.19,378.4" fill="#800000" stroke="#101010" stroke-opacity="0.6" stroke-width="0.75" stroke-linejoin="round"/>
<polygon points="196.8,474.11 201.95,467.35 196.59,463.94 191.45,470.67" fill="#30ff20" stroke="#101010" stroke-opacity="0.6" stroke-width="0.75" stroke-linejoin="round"/>
<polygon points="139.62,505.86 144.84,501.7 139.7,498.15 134.49,502.29" fill="#128e26" stroke="#101010" stroke-opacity="0.6" stroke-width="0.75" stroke-linejoin="round"/>
<polygon points="155.23,500.78 160.41,495.98 155.21,492.46 150.04,497.23" fill="#128e26" stroke="#101010" stroke-opacity="0.6" stroke-width="0.75" stroke-linejoin="round"/>
<polygon points="123.99,509.61 129.25,506.11 124.17,502.54 118.91,506.03" fill="#0a6a3a" stroke="#101010" stroke-opacity="0.6" stroke-width="0.75" stroke-linejoin="round"/>
<polygon points="170.84,494.39 176.01,488.93 170.74,485.43 165.59,490.86" fill="#10c010" stroke="#101010" stroke-opacity="0.6" stroke-width="0.75" stroke-linejoin="round"/>
<polygon points="191.64,480.55 196.8,474.11 191.45,470.67 186.31,477.07" fill="#30ff20" stroke="#101010" stroke-opacity="0.6" stroke-width="0.75" stroke-linejoin="round"/>
<polygon points="233.21,431.95 238.41,423.17 232.9,419.92 227.72,428.66" fill="#ff1000" stroke="#101010" stroke-opacity="0.6" stroke-width="0.75" stroke-linejoin="round"/>
<polygon points="228.03,440.38 233.21,431.95 227.72,428.66 222.56,437.06" fill="#ff8000" stroke="#101010" stroke-opacity="0.6" stroke-width="0.75" stroke-linejoin="round"/>
<polygon points="238.41,423.17 243.62,414.06 238.09,410.84 232.9,419.92" fill="#ff1000" stroke="#101010" stroke-opacity="0.6" stroke-width="0.75" stroke-linejoin="round"/>
<polygon points="222.85,448.48 228.03,440.38 222.56,437.06 217.4,445.13" fill="#ffff10" stroke="#101010" stroke-opacity="0.6" stroke-width="0.75" stroke-linejoin="round"/>
<polygon points="243.62,414.06 248.84,404.59 243.29,401.41 238.09,410.84" fill="#cc0000" stroke="#101010" stroke-opacity="0.6" stroke-width="0.75" stroke-linejoin="round"/>
<polygon points="108.3,512.06 113.63,509.2 108.6,505.62 103.28,508.46" fill="#0a6a3a" stroke="#101010" stroke-opacity="0.6" stroke-width="0.75" stroke-linejoin="round"/>
<polygon points="217.68,456.25 222.85,448.48 217.4,445.13 212.25,452.87" fill="#ffff10" stroke="#101010" stroke-opacity="0.6" stroke-width="0.75" stroke-linejoin="round"/>
<polygon points="150.02,505.27 155.23,500.78 150.04,497.23 144.84,501.7" fill="#128e26" stroke="#101010" stroke-opacity="0.6" stroke-width="0.75" stroke-linejoin="round"/>
<polygon points="186.48,486.66 191.64,480.55 186.31,477.07 181.16,483.16" fill="#10c010" stroke="#101010" stroke-opacity="0.6" stroke-width="0.75" stroke-linejoin="round"/>
<polygon points="248.84,404.59 254.09,394.77 248.51,391.63 243.29,401.41" fill="#9c0000" stroke="#101010" stroke-opacity="0.6" stroke-width="0.75" stroke-linejoin="round"/>
<polygon points="134.37,509.7 139.62,505.86 134.49,502.29 129.25,506.11" fill="#128e26" stroke="#101010" stroke-opacity="0.6" stroke-width="0.75" stroke-linejoin="round"/>
<polygon points="165.66,499.53 170.84,494.39 165.59,490.86 160.41,495.98" fill="#128e26" stroke="#101010" stroke-opacity="0.6" stroke-width="0.75" stroke-linejoin="round"/>
<polygon points="212.51,463.69 217.68,456.25 212.25,452.87 207.1,460.27" fill="#c8ff10" stroke="#101010" stroke-opacity="0.6" stroke-width="0.75" stroke-linejoin="round"/>
<polygon points="254.09,394.77 259.35,384.6 253.75,381.49 248.51,391.63" fill="#9c0000" stroke="#101010" stroke-opacity="0.6" stroke-width="0.75" stroke-linejoin="round"/>
<polygon points="207.35,470.8 212.51,463.69 207.1,460.27 201.95,467.35" fill="#c8ff10" stroke="#101010" stroke-opacity="0.6" stroke-width="0.75" stroke-linejoin="round"/>
<polygon points="118.69,512.81 123.99,509.61 118.91,506.03 113.63,509.2" fill="#0a6a3a" stroke="#101010" stroke-opacity="0.6" stroke-width="0.75" stroke-linejoin="round"/>
<polygon points="181.31,492.46 186.48,486.66 181.16,483.16 176.01,488.93" fill="#10c010" stroke="#101010" stroke-opacity="0.6" stroke-width="0.75" stroke-linejoin="round"/>
<polygon points="259.35,384.6 264.63,374.06 259.01,370.99 253.75,381.49" fill="#800000" stroke="#101010" stroke-opacity="0.6" stroke-width="0.75" stroke-linejoin="round"/>
<polygon points="202.18,477.58 207.35,470.8 201.95,467.35 196.8,474.11" fill="#30ff20" stroke="#101010" stroke-opacity="0.6" stroke-width="0.75" stroke-linejoin="round"/>
<polygon points="144.79,509.45 150.02,505.27 144.84,501.7 139.62,505.86" fill="#128e26" stroke="#101010" stroke-opacity="0.6" stroke-width="0.75" stroke-linejoin="round"/>
<polygon points="160.46,504.36 165.66,499.53 160.41,495.98 155.23,500.78" fill="#128e26" stroke="#101010" stroke-opacity="0.6" stroke-width="0.75" stroke-linejoin="round"/>
<polygon points="129.1,513.23 134.37,509.7 129.25,506.11 123.99,509.61" fill="#0a6a3a" stroke="#101010" stroke-opacity="0.6" stroke-width="0.75" stroke-linejoin="round"/>
<polygon points="176.13,497.94 181.31,492.46 176.01,488.93 170.84,494.39" fill="#10c010" stroke="#101010" stroke-opacity="0.6" stroke-width="0.75" stroke-linejoin="round"/>
<polygon points="197.01,484.05 202.18,477.58 196.8,474.11 191.64,480.55" fill="#30ff20" stroke="#101010" stroke-opacity="0.6" stroke-width="0.75" stroke-linejoin="round"/>
<polygon points="238.75,435.26 243.96,426.45 238.41,423.17 233.21,431.95" fill="#ff1000" stroke="#101010" stroke-opacity="0.6" stroke-width="0.75" stroke-linejoin="round"/>
<polygon points="233.54,443.73 238.75,435.26 233.21,431.95 228.03,440.38" fill="#ff8000" stroke="#101010" stroke-opacity="0.6" stroke-width="0.75" stroke-linejoin="round"/>
<polygon points="243.96,426.45 249.19,417.3 243.62,414.06 238.41,423.17" fill="#ff1000" stroke="#101010" stroke-opacity="0.6" stroke-width="0.75" stroke-linejoin="round"/>
<polygon points="228.35,451.86 233.54,443.73 228.03,440.38 222.85,448.48" fill="#ffff10" stroke="#101010" stroke-opacity="0.6" stroke-width="0.75" stroke-linejoin="round"/>
<polygon points="249.19,417.3 254.44,407.8 248.84,404.59 243.62,414.06" fill="#cc0000" stroke="#101010" stroke-opacity="0.6" stroke-width="0.75" stroke-linejoin="round"/>
<polygon points="113.36,515.69 118.69,512.81 113.63,509.2 108.3,512.06" fill="#0a6a3a" stroke="#101010" stroke-opacity="0.6" stroke-width="0.75" stroke-linejoin="round"/>
<polygon points="223.16,459.66 228.35,451.86 222.85,448.48 217.68,456.25" fill="#ffff10" stroke="#101010" stroke-opacity="0.6" stroke-width="0.75" stroke-linejoin="round"/>
<polygon points="155.24,508.88 160.46,504.36 155.23,500.78 150.02,505.27" fill="#128e26" stroke="#101010" stroke-opacity="0.6" stroke-width="0.75" stroke-linejoin="round"/>
<polygon points="191.84,490.19 197.01,484.05 191.64,480.55 186.48,486.66" fill="#10c010" stroke="#101010" stroke-opacity="0.6" stroke-width="0.75" stroke-linejoin="round"/>
<polygon points="254.44,407.8 259.7,397.95 254.09,394.77 248.84,404.59" fill="#9c0000" stroke="#101010" stroke-opacity="0.6" stroke-width="0.75" stroke-linejoin="round"/>
<polygon points="139.54,513.32 144.79,509.45 139.62,505.86 134.37,509.7" fill="#128e26" stroke="#101010" stroke-opacity="0.6" stroke-width="0.75" stroke-linejoin="round"/>
<polygon points="170.94,503.11 176.13,497.94 170.84,494.39 165.66,499.53" fill="#128e26" stroke="#101010" stroke-opacity="0.6" stroke-width="0.75" stroke-linejoin="round"/>
<polygon points="217.97,467.13 223.16,459.66 217.68,456.25 212.51,463.69" fill="#c8ff10" stroke="#101010" stroke-opacity="0.6" stroke-width="0.75" stroke-linejoin="round"/>
<polygon points="259.7,397.95 264.99,387.74 259.35,384.6 254.09,394.77" fill="#9c0000" stroke="#101010" stroke-opacity="0.6" stroke-width="0.75" stroke-linejoin="round"/>
<polygon points="212.79,474.27 217.97,467.13 212.51,463.69 207.35,470.8" fill="#c8ff10" stroke="#101010" stroke-opacity="0.6" stroke-width="0.75" stroke-linejoin="round"/>
<polygon points="123.8,516.44 129.1,513.23 123.99,509.61 118.69,512.81" fill="#0a6a3a" stroke="#101010" stroke-opacity="0.6" stroke-width="0.75" stroke-linejoin="round"/>
<polygon points="186.66,496.02 191.84,490.19 186.48,486.66 181.31,492.46" fill="#10c010" stroke="#101010" stroke-opacity="0.6" stroke-width="0.75" stroke-linejoin="round"/>
<polygon points="264.99,387.74 270.3,377.16 264.63,374.06 259.35,384.6" fill="#800000" stroke="#101010" stroke-opacity="0.6" stroke-width="0.75" stroke-linejoin="round"/>
<polygon points="207.61,481.08 212.79,474.27 207.35,470.8 202.18,477.58" fill="#30ff20" stroke="#101010" stroke-opacity="0.6" stroke-width="0.75" stroke-linejoin="round"/>
<polygon points="150,513.08 155.24,508.88 150.02,505.27 144.79,509.45" fill="#128e26" stroke="#101010" stroke-opacity="0.6" stroke-width="0.75" stroke-linejoin="round"/>
<polygon points="165.73,507.96 170.94,503.11 165.66,499.53 160.46,504.36" fill="#128e26" stroke="#101010" stroke-opacity="0.6" stroke-width="0.75" stroke-linejoin="round"/>
<polygon points="134.25,516.87 139.54,513.32 134.37,509.7 129.1,513.23" fill="#0a6a3a" stroke="#101010" stroke-opacity="0.6" stroke-width="0.75" stroke-linejoin="round"/>
<polygon points="181.46,501.53 186.66,496.02 181.31,492.46 176.13,497.94" fill="#10c010" stroke="#101010" stroke-opacity="0.6" stroke-width="0.75" stroke-linejoin="round"/>
<polygon points="202.43,487.57 207.61,481.08 202.18,477.58 197.01,484.05" fill="#30ff20" stroke="#101010" stroke-opacity="0.6" stroke-width="0.75" stroke-linejoin="round"/>
<polygon points="244.32,438.6 249.56,429.76 243.96,426.45 238.75,435.26" fill="#ff1000" stroke="#101010" stroke-opacity="0.6" stroke-width="0.75" stroke-linejoin="round"/>
<polygon points="239.1,447.1 244.32,438.6 238.75,435.26 233.54,443.73" fill="#ff8000" stroke="#101010" stroke-opacity="0.6" stroke-width="0.75" stroke-linejoin="round"/>
<polygon points="249.56,429.76 254.81,420.57 249.19,417.3 243.96,426.45" fill="#ff1000" stroke="#101010" stroke-opacity="0.6" stroke-width="0.75" stroke-linejoin="round"/>
<polygon points="233.88,455.26 239.1,447.1 233.54,443.73 228.35,451.86" fill="#ffff10" stroke="#101010" stroke-opacity="0.6" stroke-width="0.75" stroke-linejoin="round"/>
<polygon points="254.81,420.57 260.08,411.04 254.44,407.8 249.19,417.3" fill="#cc0000" stroke="#101010" stroke-opacity="0.6" stroke-width="0.75" stroke-linejoin="round"/>
<polygon points="118.46,519.35 123.8,516.44 118.69,512.81 113.36,515.69" fill="#0a6a3a" stroke="#101010" stroke-opacity="0.6" stroke-width="0.75" stroke-linejoin="round"/>
<polygon points="228.68,463.09 233.88,455.26 228.35,451.86 223.16,459.66" fill="#ffff10" stroke="#101010" stroke-opacity="0.6" stroke-width="0.75" stroke-linejoin="round"/>
<polygon points="160.5,512.5 165.73,507.96 160.46,504.36 155.24,508.88" fill="#128e26" stroke="#101010" stroke-opacity="0.6" stroke-width="0.75" stroke-linejoin="round"/>
<polygon points="197.24,493.75 202.43,487.57 197.01,484.05 191.84,490.19" fill="#10c010" stroke="#101010" stroke-opacity="0.6" stroke-width="0.75" stroke-linejoin="round"/>
<polygon points="260.08,411.04 265.36,401.15 259.7,397.95 254.44,407.8" fill="#9c0000" stroke="#101010" stroke-opacity="0.6" stroke-width="0.75" stroke-linejoin="round"/>
<polygon points="144.74,516.96 150,513.08 144.79,509.45 139.54,513.32" fill="#128e26" stroke="#101010" stroke-opacity="0.6" stroke-width="0.75" stroke-linejoin="round"/>
<polygon points="176.26,506.72 181.46,501.53 176.13,497.94 170.94,503.11" fill="#128e26" stroke="#101010" stroke-opacity="0.6" stroke-width="0.75" stroke-linejoin="round"/>
<polygon points="223.48,470.59 228.68,463.09 223.16,459.66 217.97,467.13" fill="#c8ff10" stroke="#101010" stroke-opacity="0.6" stroke-width="0.75" stroke-linejoin="round"/>
<polygon points="265.36,401.15 270.67,390.9 264.99,387.74 259.7,397.95" fill="#9c0000" stroke="#101010" stroke-opacity="0.6" stroke-width="0.75" stroke-linejoin="round"/>
<polygon points="218.28,477.76 223.48,470.59 217.97,467.13 212.79,474.27" fill="#c8ff10" stroke="#101010" stroke-opacity="0.6" stroke-width="0.75" stroke-linejoin="round"/>
<polygon points="128.94,520.11 134.25,516.87 129.1,513.23 123.8,516.44" fill="#0a6a3a" stroke="#101010" stroke-opacity="0.6" stroke-width="0.75" stroke-linejoin="round"/>
<polygon points="192.04,499.6 197.24,493.75 191.84,490.19 186.66,496.02" fill="#10c010" stroke="#101010" stroke-opacity="0.6" stroke-width="0.75" stroke-linejoin="round"/>
<polygon points="270.67,390.9 276.01,380.28 270.3,377.16 264.99,387.74" fill="#800000" stroke="#101010" stroke-opacity="0.6" stroke-width="0.75" stroke-linejoin="round"/>
<polygon points="213.08,484.61 218.28,477.76 212.79,474.27 207.61,481.08" fill="#30ff20" stroke="#101010" stroke-opacity="0.6" stroke-width="0.75" stroke-linejoin="round"/>
<polygon points="155.25,516.73 160.5,512.5 155.24,508.88 150,513.08" fill="#128e26" stroke="#101010" stroke-opacity="0.6" stroke-width="0.75" stroke-linejoin="round"/>
<polygon points="171.04,511.6 176.26,506.72 170.94,503.11 165.73,507.96" fill="#128e26" stroke="#101010" stroke-opacity="0.6" stroke-width="0.75" stroke-linejoin="round"/>
<polygon points="139.45,520.54 144.74,516.96 139.54,513.32 134.25,516.87" fill="#0a6a3a" stroke="#101010" stroke-opacity="0.6" stroke-width="0.75" stroke-linejoin="round"/>
<polygon points="186.84,505.14 192.04,499.6 186.66,496.02 181.46,501.53" fill="#10c010" stroke="#101010" stroke-opacity="0.6" stroke-width="0.75" stroke-linejoin="round"/>
<polygon points="207.88,491.13 213.08,484.61 207.61,481.08 202.43,487.57" fill="#30ff20" stroke="#101010" stroke-opacity="0.6" stroke-width="0.75" stroke-linejoin="round"/>
<polygon points="249.94,441.96 255.19,433.09 249.56,429.76 244.32,438.6" fill="#ff1000" stroke="#101010" stroke-opacity="0.6" stroke-width="0.75" stroke-linejoin="round"/>
<polygon points="244.69,450.5 249.94,441.96 244.32,438.6 239.1,447.1" fill="#ff8000" stroke="#101010" stroke-opacity="0.6" stroke-width="0.75" stroke-linejoin="round"/>
<polygon points="255.19,433.09 260.47,423.87 254.81,420.57 249.56,429.76" fill="#ff1000" stroke="#101010" stroke-opacity="0.6" stroke-width="0.75" stroke-linejoin="round"/>
<polygon points="239.46,458.69 244.69,450.5 239.1,447.1 233.88,455.26" fill="#ffff10" stroke="#101010" stroke-opacity="0.6" stroke-width="0.75" stroke-linejoin="round"/>
<polygon points="260.47,423.87 265.76,414.29 260.08,411.04 254.81,420.57" fill="#cc0000" stroke="#101010" stroke-opacity="0.6" stroke-width="0.75" stroke-linejoin="round"/>
<polygon points="123.6,523.03 128.94,520.11 123.8,516.44 118.46,519.35" fill="#0a6a3a" stroke="#101010" stroke-opacity="0.6" stroke-width="0.75" stroke-linejoin="round"/>
<polygon points="234.24,466.56 239.46,458.69 233.88,455.26 228.68,463.09" fill="#ffff10" stroke="#101010" stroke-opacity="0.6" stroke-width="0.75" stroke-linejoin="round"/>
<polygon points="165.8,516.16 171.04,511.6 165.73,507.96 160.5,512.5" fill="#128e26" stroke="#101010" stroke-opacity="0.6" stroke-width="0.75" stroke-linejoin="round"/>
<polygon points="202.68,497.33 207.88,491.13 202.43,487.57 197.24,493.75" fill="#10c010" stroke="#101010" stroke-opacity="0.6" stroke-width="0.75" stroke-linejoin="round"/>
<polygon points="265.76,414.29 271.07,404.37 265.36,401.15 260.08,411.04" fill="#9c0000" stroke="#101010" stroke-opacity="0.6" stroke-width="0.75" stroke-linejoin="round"/>
<polygon points="149.98,520.64 155.25,516.73 150,513.08 144.74,516.96" fill="#128e26" stroke="#101010" stroke-opacity="0.6" stroke-width="0.75" stroke-linejoin="round"/>
<polygon points="181.62,510.35 186.84,505.14 181.46,501.53 176.26,506.72" fill="#128e26" stroke="#101010" stroke-opacity="0.6" stroke-width="0.75" stroke-linejoin="round"/>
<polygon points="229.02,474.09 234.24,466.56 228.68,463.09 223.48,470.59" fill="#c8ff10" stroke="#101010" stroke-opacity="0.6" stroke-width="0.75" stroke-linejoin="round"/>
<polygon points="271.07,404.37 276.4,394.08 270.67,390.9 265.36,401.15" fill="#9c0000" stroke="#101010" stroke-opacity="0.6" stroke-width="0.75" stroke-linejoin="round"/>
<polygon points="223.81,481.29 229.02,474.09 223.48,470.59 218.28,477.76" fill="#c8ff10" stroke="#101010" stroke-opacity="0.6" stroke-width="0.75" stroke-linejoin="round"/>
<polygon points="134.13,523.8 139.45,520.54 134.25,516.87 128.94,520.11" fill="#0a6a3a" stroke="#101010" stroke-opacity="0.6" stroke-width="0.75" stroke-linejoin="round"/>
<polygon points="197.47,503.21 202.68,497.33 197.24,493.75 192.04,499.6" fill="#10c010" stroke="#101010" stroke-opacity="0.6" stroke-width="0.75" stroke-linejoin="round"/>
<polygon points="276.4,394.08 281.76,383.43 276.01,380.28 270.67,390.9" fill="#800000" stroke="#101010" stroke-opacity="0.6" stroke-width="0.75" stroke-linejoin="round"/>
<polygon points="218.59,488.16 223.81,481.29 218.28,477.76 213.08,484.61" fill="#30ff20" stroke="#101010" stroke-opacity="0.6" stroke-width="0.75" stroke-linejoin="round"/>
<polygon points="160.54,520.41 165.8,516.16 160.5,512.5 155.25,516.73" fill="#128e26" stroke="#101010" stroke-opacity="0.6" stroke-width="0.75" stroke-linejoin="round"/>
<polygon points="176.39,515.26 181.62,510.35 176.26,506.72 171.04,511.6" fill="#128e26" stroke="#101010" stroke-opacity="0.6" stroke-width="0.75" stroke-linejoin="round"/>
<polygon points="144.68,524.24 149.98,520.64 144.74,516.96 139.45,520.54" fill="#0a6a3a" stroke="#101010" stroke-opacity="0.6" stroke-width="0.75" stroke-linejoin="round"/>
<polygon points="192.25,508.77 197.47,503.21 192.04,499.6 186.84,505.14" fill="#10c010" stroke="#101010" stroke-opacity="0.6" stroke-width="0.75" stroke-linejoin="round"/>
<polygon points="213.38,494.71 218.59,488.16 213.08,484.61 207.88,491.13" fill="#30ff20" stroke="#101010" stroke-opacity="0.6" stroke-width="0.75" stroke-linejoin="round"/>
<polygon points="128.78,526.74 134.13,523.8 128.94,520.11 123.6,523.03" fill="#0a6a3a" stroke="#101010" stroke-opacity="0.6" stroke-width="0.75" stroke-linejoin="round"/>
<polygon points="171.14,519.85 176.39,515.26 171.04,511.6 165.8,516.16" fill="#128e26" stroke="#101010" stroke-opacity="0.6" stroke-width="0.75" stroke-linejoin="round"/>
<polygon points="208.16,500.94 213.38,494.71 207.88,491.13 202.68,497.33" fill="#10c010" stroke="#101010" stroke-opacity="0.6" stroke-width="0.75" stroke-linejoin="round"/>
<polygon points="155.26,524.34 160.54,520.41 155.25,516.73 149.98,520.64" fill="#128e26" stroke="#101010" stroke-opacity="0.6" stroke-width="0.75" stroke-linejoin="round"/>
<polygon points="187.03,514.02 192.25,508.77 186.84,505.14 181.62,510.35" fill="#128e26" stroke="#101010" stroke-opacity="0.6" stroke-width="0.75" stroke-linejoin="round"/>
<polygon points="139.36,527.52 144.68,524.24 139.45,520.54 134.13,523.8" fill="#0a6a3a" stroke="#101010" stroke-opacity="0.6" stroke-width="0.75" stroke-linejoin="round"/>
<polygon points="202.94,506.85 208.16,500.94 202.68,497.33 197.47,503.21" fill="#10c010" stroke="#101010" stroke-opacity="0.6" stroke-width="0.75" stroke-linejoin="round"/>
<polygon points="165.87,524.12 171.14,519.85 165.8,516.16 160.54,520.41" fill="#128e26" stroke="#101010" stroke-opacity="0.6" stroke-width="0.75" stroke-linejoin="round"/>
<polygon points="181.78,518.95 187.03,514.02 181.62,510.35 176.39,515.26" fill="#128e26" stroke="#101010" stroke-opacity="0.6" stroke-width="0.75" stroke-linejoin="round"/>
<polygon points="149.96,527.96 155.26,524.34 149.98,520.64 144.68,524.24" fill="#0a6a3a" stroke="#101010" stroke-opacity="0.6" stroke-width="0.75" stroke-linejoin="round"/>
<polygon points="197.71,512.44 202.94,506.85 197.47,503.21 192.25,508.77" fill="#10c010" stroke="#101010" stroke-opacity="0.6" stroke-width="0.75" stroke-linejoin="round"/>
<polygon points="134,530.49 139.36,527.52 134.13,523.8 128.78,526.74" fill="#0a6a3a" stroke="#101010" stroke-opacity="0.6" stroke-width="0.75" stroke-linejoin="round"/>
<polygon points="176.53,523.56 181.78,518.95 176.39,515.26 171.14,519.85" fill="#128e26" stroke="#101010" stroke-opacity="0.6" stroke-width="0.75" stroke-linejoin="round"/>
<polygon points="160.59,528.08 165.87,524.12 160.54,520.41 155.26,524.34" fill="#128e26" stroke="#101010" stroke-opacity="0.6" stroke-width="0.75" stroke-linejoin="round"/>
<polygon points="192.47,517.71 197.71,512.44 192.25,508.77 187.03,514.02" fill="#128e26" stroke="#101010" stroke-opacity="0.6" stroke-width="0.75" stroke-linejoin="round"/>
<polygon points="144.62,531.27 149.96,527.96 144.68,524.24 139.36,527.52" fill="#0a6a3a" stroke="#101010" stroke-opacity="0.6" stroke-width="0.75" stroke-linejoin="round"/>
<polygon points="171.25,527.86 176.53,523.56 171.14,519.85 165.87,524.12" fill="#128e26" stroke="#101010" stroke-opacity="0.6" stroke-width="0.75" stroke-linejoin="round"/>
<polygon points="187.22,522.67 192.47,517.71 187.03,514.02 181.78,518.95" fill="#128e26" stroke="#101010" stroke-opacity="0.6" stroke-width="0.75" stroke-linejoin="round"/>
<polygon points="155.27,531.72 160.59,528.08 155.26,524.34 149.96,527.96" fill="#0a6a3a" stroke="#101010" stroke-opacity="0.6" stroke-width="0.75" stroke-linejoin="round"/>
<polygon points="139.26,534.26 144.62,531.27 139.36,527.52 134,530.49" fill="#0a6a3a" stroke="#101010" stroke-opacity="0.6" stroke-width="0.75" stroke-linejoin="round"/>
<polygon points="181.95,527.3 187.22,522.67 181.78,518.95 176.53,523.56" fill="#128e26" stroke="#101010" stroke-opacity="0.6" stroke-width="0.75" stroke-linejoin="round"/>
<polygon points="165.95,531.84 171.25,527.86 165.87,524.12 160.59,528.08" fill="#128e26" stroke="#101010" stroke-opacity="0.6" stroke-width="0.75" stroke-linejoin="round"/>
<polygon points="149.93,535.05 155.27,531.72 149.96,527.96 144.62,531.27" fill="#0a6a3a" stroke="#101010" stroke-opacity="0.6" stroke-width="0.75" stroke-linejoin="round"/>
<polygon points="176.67,531.63 181.95,527.3 176.53,523.56 171.25,527.86" fill="#128e26" stroke="#101010" stroke-opacity="0.6" stroke-width="0.75" stroke-linejoin="round"/>
<polygon points="160.63,535.51 165.95,531.84 160.59,528.08 155.27,531.72" fill="#0a6a3a" stroke="#101010" stroke-opacity="0.6" stroke-width="0.75" stroke-linejoin="round"/>
<polygon points="144.56,538.06 149.93,535.05 144.62,531.27 139.26,534.26" fill="#0a6a3a" stroke="#101010" stroke-opacity="0.6" stroke-width="0.75" stroke-linejoin="round"/>
<polygon points="171.36,535.63 176.67,531.63 171.25,527.86 165.95,531.84" fill="#128e26" stroke="#101010" stroke-opacity="0.6" stroke-width="0.75" stroke-linejoin="round"/>
<polygon points="155.28,538.86 160.63,535.51 155.27,531.72 149.93,535.05" fill="#0a6a3a" stroke="#101010" stroke-opacity="0.6" stroke-width="0.75" stroke-linejoin="round"/>
<polygon points="166.03,539.32 171.36,535.63 165.95,531.84 160.63,535.51" fill="#0a6a3a" stroke="#101010" stroke-opacity="0.6" stroke-width="0.75" stroke-linejoin="round"/>
<polygon points="149.91,541.89 155.28,538.86 149.93,535.05 144.56,538.06" fill="#0a6a3a" stroke="#101010" stroke-opacity="0.6" stroke-width="0.75" stroke-linejoin="round"/>
<polygon points="160.68,542.7 166.03,539.32 160.63,535.51 155.28,538.86" fill="#0a6a3a" stroke="#101010" stroke-opacity="0.6" stroke-width="0.75" stroke-linejoin="round"/>
<polygon points="155.29,545.75 160.68,542.7 155.28,538.86 149.91,541.89" fill="#0a6a3a" stroke="#101010" stroke-opacity="0.6" stroke-width="0.75" stroke-linejoin="round"/>
<polygon points="155.29,545.75 160.68,542.7 166.03,539.32 171.36,535.63 176.67,531.63 181.95,527.3 187.22,522.67 192.47,517.71 197.71,512.44 202.94,506.85 208.16,500.94 213.38,494.71 218.59,488.16 223.81,481.29 229.02,474.09 234.24,466.56 239.46,458.69 244.69,450.5 249.94,441.96 255.19,433.09 260.47,423.87 265.76,414.29 271.07,404.37 276.4,394.08 281.76,383.43 281.76,383.43 276.01,380.28 270.3,377.16 264.63,374.06 259.01,370.99 253.43,367.94 247.89,364.91 242.4,361.91 236.94,358.92 231.53,355.96 226.16,353.03 220.82,350.11 215.53,347.22 210.28,344.35 205.06,341.5 199.88,338.67 194.74,335.86 189.64,333.07 184.58,330.3 179.55,327.55 174.56,324.82 174.56,324.82 169.67,334.75 164.78,344.33 159.9,353.57 155.02,362.47 150.15,371.04 145.27,379.28 140.39,387.19 135.51,394.78 130.63,402.05 125.73,409 120.82,415.64 115.9,421.97 110.97,427.98 106.02,433.69 101.05,439.09 96.06,444.18 91.05,448.96 86.01,453.44 80.94,457.62 75.84,461.49 70.71,465.06 65.55,468.32 60.35,471.27 55.11,473.92 55.11,473.92 59.76,477.26 64.46,480.62 69.18,484.01 73.95,487.43 78.74,490.87 83.58,494.33 88.45,497.83 93.36,501.34 98.3,504.89 103.28,508.46 108.3,512.06 113.36,515.69 118.46,519.35 123.6,523.03 128.78,526.74 134,530.49 139.26,534.26 144.56,538.06 149.91,541.89 155.29,545.75" fill="none" stroke="#181818" stroke-opacity="0.75" stroke-width="0.8" stroke-linejoin="round"/>
<polyline points="56.29,499.46 155.33,572.42 275.05,510.48" fill="none" stroke="#404040" stroke-width="1"/>
<line x1="144.73" y1="564.61" x2="143.14" y2="565.42" stroke="#404040" stroke-width="0.9"/>
<line x1="134.3" y1="556.92" x2="132.7" y2="557.72" stroke="#404040" stroke-width="0.9"/>
<line x1="124.02" y1="549.35" x2="122.43" y2="550.14" stroke="#404040" stroke-width="0.9"/>
<line x1="113.9" y1="541.9" x2="112.32" y2="542.68" stroke="#404040" stroke-width="0.9"/>
<line x1="103.94" y1="534.56" x2="102.35" y2="535.32" stroke="#404040" stroke-width="0.9"/>
<line x1="94.12" y1="527.33" x2="92.54" y2="528.08" stroke="#404040" stroke-width="0.9"/>
<line x1="84.45" y1="520.2" x2="82.88" y2="520.95" stroke="#404040" stroke-width="0.9"/>
<line x1="74.92" y1="513.19" x2="73.35" y2="513.92" stroke="#404040" stroke-width="0.9"/>
<line x1="65.54" y1="506.27" x2="63.97" y2="506.99" stroke="#404040" stroke-width="0.9"/>
<line x1="171.19" y1="564.21" x2="175.49" y2="567.32" stroke="#404040" stroke-width="0.9"/>
<line x1="186.78" y1="556.15" x2="191.09" y2="559.2" stroke="#404040" stroke-width="0.9"/>
<line x1="202.11" y1="548.21" x2="206.43" y2="551.22" stroke="#404040" stroke-width="0.9"/>
<line x1="217.19" y1="540.42" x2="221.52" y2="543.37" stroke="#404040" stroke-width="0.9"/>
<line x1="232.01" y1="532.75" x2="236.35" y2="535.65" stroke="#404040" stroke-width="0.9"/>
<line x1="246.59" y1="525.2" x2="250.94" y2="528.06" stroke="#404040" stroke-width="0.9"/>
<line x1="260.94" y1="517.78" x2="265.29" y2="520.59" stroke="#404040" stroke-width="0.9"/>
<text transform="matrix(0.91 -0.41 0.05 1 48.48 487.22)" font-family="Liberation Serif" font-size="11" text-anchor="end" stroke="#1a1a1a" stroke-width="0.18"  >8</text>
<text transform="matrix(0.92 -0.4 0.05 1 47.56 468.53)" font-family="Liberation Serif" font-size="11" text-anchor="end" stroke="#1a1a1a" stroke-width="0.18"  >10</text>
<text transform="matrix(0.92 -0.39 0.05 1 46.62 449.54)" font-family="Liberation Serif" font-size="11" text-anchor="end" stroke="#1a1a1a" stroke-width="0.18"  >12</text>
<text transform="matrix(0.92 -0.38 0.05 1 45.67 430.21)" font-family="Liberation Serif" font-size="11" text-anchor="end" stroke="#1a1a1a" stroke-width="0.18"  >14</text>
<text transform="matrix(0.93 -0.38 0.05 1 44.7 410.56)" font-family="Liberation Serif" font-size="11" text-anchor="end" stroke="#1a1a1a" stroke-width="0.18"  >16</text>
<text transform="matrix(0.93 -0.37 0.05 1 43.72 390.57)" font-family="Liberation Serif" font-size="11" text-anchor="end" stroke="#1a1a1a" stroke-width="0.18"  >18</text>
<text transform="matrix(0.93 -0.36 0.05 1 42.71 370.23)" font-family="Liberation Serif" font-size="11" text-anchor="end" stroke="#1a1a1a" stroke-width="0.18"  >20</text>
<text transform="matrix(0.91 -0.41 0.81 0.59 52.53 504.16)" font-family="Liberation Serif" font-size="11" text-anchor="end" stroke="#1a1a1a" stroke-width="0.18"  >150</text>
<text transform="matrix(0.91 -0.42 0.81 0.59 61.77 511)" font-family="Liberation Serif" font-size="11" text-anchor="end" stroke="#1a1a1a" stroke-width="0.18"  >140</text>
<text transform="matrix(0.91 -0.42 0.81 0.59 71.15 517.94)" font-family="Liberation Serif" font-size="11" text-anchor="end" stroke="#1a1a1a" stroke-width="0.18"  >130</text>
<text transform="matrix(0.9 -0.43 0.81 0.59 80.67 524.99)" font-family="Liberation Serif" font-size="11" text-anchor="end" stroke="#1a1a1a" stroke-width="0.18"  >120</text>
<text transform="matrix(0.9 -0.43 0.81 0.59 90.33 532.14)" font-family="Liberation Serif" font-size="11" text-anchor="end" stroke="#1a1a1a" stroke-width="0.18"  >110</text>
<text transform="matrix(0.9 -0.44 0.81 0.59 100.13 539.4)" font-family="Liberation Serif" font-size="11" text-anchor="end" stroke="#1a1a1a" stroke-width="0.18"  >100</text>
<text transform="matrix(0.9 -0.44 0.81 0.59 110.09 546.77)" font-family="Liberation Serif" font-size="11" text-anchor="end" stroke="#1a1a1a" stroke-width="0.18"  >90</text>
<text transform="matrix(0.9 -0.44 0.81 0.59 120.2 554.25)" font-family="Liberation Serif" font-size="11" text-anchor="end" stroke="#1a1a1a" stroke-width="0.18"  >80</text>
<text transform="matrix(0.89 -0.45 0.81 0.59 130.47 561.85)" font-family="Liberation Serif" font-size="11" text-anchor="end" stroke="#1a1a1a" stroke-width="0.18"  >70</text>
<text transform="matrix(0.89 -0.45 0.81 0.59 140.89 569.57)" font-family="Liberation Serif" font-size="11" text-anchor="end" stroke="#1a1a1a" stroke-width="0.18"  >60</text>
<text transform="matrix(0.89 -0.46 0.81 0.59 151.49 577.41)" font-family="Liberation Serif" font-size="11" text-anchor="end" stroke="#1a1a1a" stroke-width="0.18"  >50</text>
<text transform="matrix(0.81 0.59 -0.89 0.46 156.02 578.57)" font-family="Liberation Serif" font-size="11" text-anchor="start" stroke="#1a1a1a" stroke-width="0.18"  >6.0</text>
<text transform="matrix(0.81 0.59 -0.89 0.46 171.89 570.32)" font-family="Liberation Serif" font-size="11" text-anchor="start" stroke="#1a1a1a" stroke-width="0.18"  >6.5</text>
<text transform="matrix(0.82 0.58 -0.89 0.46 187.49 562.2)" font-family="Liberation Serif" font-size="11" text-anchor="start" stroke="#1a1a1a" stroke-width="0.18"  >7.0</text>
<text transform="matrix(0.82 0.57 -0.89 0.46 202.83 554.22)" font-family="Liberation Serif" font-size="11" text-anchor="start" stroke="#1a1a1a" stroke-width="0.18"  >7.5</text>
<text transform="matrix(0.83 0.56 -0.89 0.46 217.92 546.37)" font-family="Liberation Serif" font-size="11" text-anchor="start" stroke="#1a1a1a" stroke-width="0.18"  >8.0</text>
<text transform="matrix(0.83 0.56 -0.89 0.46 232.75 538.65)" font-family="Liberation Serif" font-size="11" text-anchor="start" stroke="#1a1a1a" stroke-width="0.18"  >8.5</text>
<text transform="matrix(0.84 0.55 -0.89 0.46 247.34 531.06)" font-family="Liberation Serif" font-size="11" text-anchor="start" stroke="#1a1a1a" stroke-width="0.18"  >9.0</text>
<text transform="matrix(0.84 0.54 -0.89 0.46 261.69 523.59)" font-family="Liberation Serif" font-size="11" text-anchor="start" stroke="#1a1a1a" stroke-width="0.18"  >9.5</text>
<text transform="matrix(0.84 0.54 -0.89 0.46 275.82 516.25)" font-family="Liberation Serif" font-size="11" text-anchor="start" stroke="#1a1a1a" stroke-width="0.18"  >10</text>
<text transform="matrix(0.81 0.59 -0.9 0.44 69 551)" font-family="Liberation Serif" font-size="11.5" text-anchor="middle" stroke="#1a1a1a" stroke-width="0.18"  >Protease (U/mL)</text>
<text transform="matrix(0.83 0.56 -0.89 0.46 240.2 562.2)" font-family="Liberation Serif" font-size="12" text-anchor="middle" stroke="#1a1a1a" stroke-width="0.18"  >pH</text>
<text transform="matrix(0.05 1 -0.92 0.39 19.2 446)" font-family="Liberation Serif" font-size="12.4" text-anchor="middle" stroke="#1a1a1a" stroke-width="0.18"  >Trolox EQ (&#956;mol/g)</text>
<defs><clipPath id="cA"><rect x="416" y="10" width="262" height="234.7"/></clipPath><clipPath id="cB"><rect x="416" y="312.5" width="273.5" height="234.8"/></clipPath></defs>
<g clip-path="url(#cA)"><rect x="416" y="10" width="262" height="234.7" fill="#700000"/>
<ellipse cx="510.98" cy="161.41" rx="277.58" ry="187.36" transform="rotate(-75.07 510.98 161.41)" fill="#700000"/>
<ellipse cx="510.98" cy="161.41" rx="275.5" ry="185.96" transform="rotate(-75.07 510.98 161.41)" fill="#730000"/>
<ellipse cx="510.98" cy="161.41" rx="273.41" ry="184.54" transform="rotate(-75.07 510.98 161.41)" fill="#770000"/>
<ellipse cx="510.98" cy="161.41" rx="271.3" ry="183.12" transform="rotate(-75.07 510.98 161.41)" fill="#7b0000"/>
<ellipse cx="510.98" cy="161.41" rx="269.17" ry="181.68" transform="rotate(-75.07 510.98 161.41)" fill="#7f0000"/>
<ellipse cx="510.98" cy="161.41" rx="267.03" ry="180.24" transform="rotate(-75.07 510.98 161.41)" fill="#830000"/>
<ellipse cx="510.98" cy="161.41" rx="264.87" ry="178.78" transform="rotate(-75.07 510.98 161.41)" fill="#870000"/>
<ellipse cx="510.98" cy="161.41" rx="262.69" ry="177.31" transform="rotate(-75.07 510.98 161.41)" fill="#8c0000"/>
<ellipse cx="510.98" cy="161.41" rx="260.49" ry="175.82" transform="rotate(-75.07 510.98 161.41)" fill="#920000"/>
<ellipse cx="510.98" cy="161.41" rx="258.27" ry="174.33" transform="rotate(-75.07 510.98 161.41)" fill="#970000"/>
<ellipse cx="510.98" cy="161.41" rx="256.04" ry="172.82" transform="rotate(-75.07 510.98 161.41)" fill="#9f0000"/>
<ellipse cx="510.98" cy="161.41" rx="253.78" ry="171.3" transform="rotate(-75.07 510.98 161.41)" fill="#aa0000"/>
<ellipse cx="510.98" cy="161.41" rx="251.51" ry="169.76" transform="rotate(-75.07 510.98 161.41)" fill="#b40000"/>
<ellipse cx="510.98" cy="161.41" rx="249.21" ry="168.21" transform="rotate(-75.07 510.98 161.41)" fill="#c10000"/>
<ellipse cx="510.98" cy="161.41" rx="246.89" ry="166.65" transform="rotate(-75.07 510.98 161.41)" fill="#ce0000"/>
<ellipse cx="510.98" cy="161.41" rx="244.55" ry="165.07" transform="rotate(-75.07 510.98 161.41)" fill="#d80000"/>
<ellipse cx="510.98" cy="161.41" rx="242.19" ry="163.47" transform="rotate(-75.07 510.98 161.41)" fill="#e10000"/>
<ellipse cx="510.98" cy="161.41" rx="239.81" ry="161.86" transform="rotate(-75.07 510.98 161.41)" fill="#e90000"/>
<ellipse cx="510.98" cy="161.41" rx="237.4" ry="160.24" transform="rotate(-75.07 510.98 161.41)" fill="#f10200"/>
<ellipse cx="510.98" cy="161.41" rx="234.96" ry="158.59" transform="rotate(-75.07 510.98 161.41)" fill="#f50b00"/>
<ellipse cx="510.98" cy="161.41" rx="232.5" ry="156.93" transform="rotate(-75.07 510.98 161.41)" fill="#fa1500"/>
<ellipse cx="510.98" cy="161.41" rx="230.02" ry="155.26" transform="rotate(-75.07 510.98 161.41)" fill="#fe1e00"/>
<ellipse cx="510.98" cy="161.41" rx="227.51" ry="153.56" transform="rotate(-75.07 510.98 161.41)" fill="#ff3000"/>
<ellipse cx="510.98" cy="161.41" rx="224.97" ry="151.85" transform="rotate(-75.07 510.98 161.41)" fill="#ff4300"/>
<ellipse cx="510.98" cy="161.41" rx="222.4" ry="150.11" transform="rotate(-75.07 510.98 161.41)" fill="#ff5600"/>
<ellipse cx="510.98" cy="161.41" rx="219.8" ry="148.36" transform="rotate(-75.07 510.98 161.41)" fill="#ff6a00"/>
<ellipse cx="510.98" cy="161.41" rx="217.16" ry="146.58" transform="rotate(-75.07 510.98 161.41)" fill="#ff7d00"/>
<ellipse cx="510.98" cy="161.41" rx="214.5" ry="144.78" transform="rotate(-75.07 510.98 161.41)" fill="#ff9300"/>
<ellipse cx="510.98" cy="161.41" rx="211.8" ry="142.96" transform="rotate(-75.07 510.98 161.41)" fill="#ffaa00"/>
<ellipse cx="510.98" cy="161.41" rx="209.07" ry="141.12" transform="rotate(-75.07 510.98 161.41)" fill="#ffc100"/>
<ellipse cx="510.98" cy="161.41" rx="206.31" ry="139.25" transform="rotate(-75.07 510.98 161.41)" fill="#ffd400"/>
<ellipse cx="510.98" cy="161.41" rx="203.5" ry="137.36" transform="rotate(-75.07 510.98 161.41)" fill="#ffe300"/>
<ellipse cx="510.98" cy="161.41" rx="200.66" ry="135.44" transform="rotate(-75.07 510.98 161.41)" fill="#fff200"/>
<ellipse cx="510.98" cy="161.41" rx="197.77" ry="133.49" transform="rotate(-75.07 510.98 161.41)" fill="#feff00"/>
<ellipse cx="510.98" cy="161.41" rx="194.84" ry="131.51" transform="rotate(-75.07 510.98 161.41)" fill="#f6ff00"/>
<ellipse cx="510.98" cy="161.41" rx="191.87" ry="129.51" transform="rotate(-75.07 510.98 161.41)" fill="#edff00"/>
<ellipse cx="510.98" cy="161.41" rx="188.85" ry="127.47" transform="rotate(-75.07 510.98 161.41)" fill="#e1ff00"/>
<ellipse cx="510.98" cy="161.41" rx="185.78" ry="125.4" transform="rotate(-75.07 510.98 161.41)" fill="#cdff00"/>
<ellipse cx="510.98" cy="161.41" rx="182.66" ry="123.29" transform="rotate(-75.07 510.98 161.41)" fill="#b9ff00"/>
<ellipse cx="510.98" cy="161.41" rx="179.49" ry="121.15" transform="rotate(-75.07 510.98 161.41)" fill="#a4ff00"/>
<ellipse cx="510.98" cy="161.41" rx="176.25" ry="118.97" transform="rotate(-75.07 510.98 161.41)" fill="#90ff00"/>
<ellipse cx="510.98" cy="161.41" rx="172.96" ry="116.74" transform="rotate(-75.07 510.98 161.41)" fill="#7aff00"/>
<ellipse cx="510.98" cy="161.41" rx="169.61" ry="114.48" transform="rotate(-75.07 510.98 161.41)" fill="#64ff00"/>
<ellipse cx="510.98" cy="161.41" rx="166.18" ry="112.17" transform="rotate(-75.07 510.98 161.41)" fill="#4fff00"/>
<ellipse cx="510.98" cy="161.41" rx="162.69" ry="109.81" transform="rotate(-75.07 510.98 161.41)" fill="#3afe00"/>
<ellipse cx="510.98" cy="161.41" rx="159.11" ry="107.4" transform="rotate(-75.07 510.98 161.41)" fill="#29fa00"/>
<ellipse cx="510.98" cy="161.41" rx="155.46" ry="104.93" transform="rotate(-75.07 510.98 161.41)" fill="#17f700"/>
<ellipse cx="510.98" cy="161.41" rx="151.72" ry="102.4" transform="rotate(-75.07 510.98 161.41)" fill="#06f300"/>
<ellipse cx="510.98" cy="161.41" rx="147.88" ry="99.81" transform="rotate(-75.07 510.98 161.41)" fill="#00ed00"/>
<ellipse cx="510.98" cy="161.41" rx="143.94" ry="97.16" transform="rotate(-75.07 510.98 161.41)" fill="#00e700"/>
<ellipse cx="510.98" cy="161.41" rx="139.89" ry="94.42" transform="rotate(-75.07 510.98 161.41)" fill="#00e000"/>
<ellipse cx="510.98" cy="161.41" rx="135.72" ry="91.61" transform="rotate(-75.07 510.98 161.41)" fill="#00d900"/>
<ellipse cx="510.98" cy="161.41" rx="131.41" ry="88.7" transform="rotate(-75.07 510.98 161.41)" fill="#00d000"/>
<ellipse cx="510.98" cy="161.41" rx="126.96" ry="85.7" transform="rotate(-75.07 510.98 161.41)" fill="#00c600"/>
<ellipse cx="510.98" cy="161.41" rx="122.35" ry="82.58" transform="rotate(-75.07 510.98 161.41)" fill="#00bd03"/>
<ellipse cx="510.98" cy="161.41" rx="117.56" ry="79.35" transform="rotate(-75.07 510.98 161.41)" fill="#00b60c"/>
<ellipse cx="510.98" cy="161.41" rx="112.57" ry="75.98" transform="rotate(-75.07 510.98 161.41)" fill="#00ae14"/>
<ellipse cx="510.98" cy="161.41" rx="107.34" ry="72.45" transform="rotate(-75.07 510.98 161.41)" fill="#00a71d"/>
<ellipse cx="510.98" cy="161.41" rx="101.84" ry="68.74" transform="rotate(-75.07 510.98 161.41)" fill="#019f21"/>
<ellipse cx="510.98" cy="161.41" rx="96.03" ry="64.82" transform="rotate(-75.07 510.98 161.41)" fill="#049824"/>
<ellipse cx="510.98" cy="161.41" rx="89.85" ry="60.64" transform="rotate(-75.07 510.98 161.41)" fill="#069126"/>
<ellipse cx="510.98" cy="161.41" rx="83.2" ry="56.16" transform="rotate(-75.07 510.98 161.41)" fill="#088a28"/>
<ellipse cx="510.98" cy="161.41" rx="75.98" ry="51.28" transform="rotate(-75.07 510.98 161.41)" fill="#09812c"/>
<ellipse cx="510.98" cy="161.41" rx="67.99" ry="45.89" transform="rotate(-75.07 510.98 161.41)" fill="#0a7930"/>
<ellipse cx="510.98" cy="161.41" rx="58.94" ry="39.78" transform="rotate(-75.07 510.98 161.41)" fill="#0b7531"/>
<ellipse cx="510.98" cy="161.41" rx="48.21" ry="32.54" transform="rotate(-75.07 510.98 161.41)" fill="#0b7134"/>
<ellipse cx="510.98" cy="161.41" rx="34.27" ry="23.13" transform="rotate(-75.07 510.98 161.41)" fill="#0b6c39"/>
</g>
<rect x="416" y="10" width="262" height="234.7" fill="none" stroke="#202020" stroke-width="1" stroke-opacity="0.8"/>
<rect x="416" y="312.5" width="36.27" height="234.8" fill="#0b6a3a"/>
<rect x="451.97" y="312.5" width="53.91" height="234.8" fill="#058c1e"/>
<rect x="505.57" y="312.5" width="33.8" height="234.8" fill="#00c800"/>
<rect x="539.08" y="312.5" width="26.97" height="234.8" fill="#1eff00"/>
<rect x="565.74" y="312.5" width="22.86" height="234.8" fill="#c0ff00"/>
<rect x="588.3" y="312.5" width="20.13" height="234.8" fill="#ffff00"/>
<rect x="608.13" y="312.5" width="18.76" height="234.8" fill="#ff8000"/>
<rect x="626.6" y="312.5" width="17.39" height="234.8" fill="#ff0000"/>
<rect x="643.69" y="312.5" width="15.34" height="234.8" fill="#c00000"/>
<rect x="658.73" y="312.5" width="14.66" height="234.8" fill="#8a0000"/>
<rect x="673.09" y="312.5" width="16.71" height="234.8" fill="#6e0000"/>
<rect x="416" y="312.5" width="273.5" height="234.8" fill="none" stroke="#202020" stroke-width="1" stroke-opacity="0.8"/>
<text x="416" y="262.9" font-family="Liberation Serif" font-size="14.5" text-anchor="middle">6.0</text>
<line x1="416" y1="244.7" x2="416" y2="242.2" stroke="#202020" stroke-width="0.8"/>
<text x="448.75" y="262.9" font-family="Liberation Serif" font-size="14.5" text-anchor="middle">6.5</text>
<line x1="448.75" y1="244.7" x2="448.75" y2="242.2" stroke="#202020" stroke-width="0.8"/>
<text x="481.5" y="262.9" font-family="Liberation Serif" font-size="14.5" text-anchor="middle">7.0</text>
<line x1="481.5" y1="244.7" x2="481.5" y2="242.2" stroke="#202020" stroke-width="0.8"/>
<text x="514.25" y="262.9" font-family="Liberation Serif" font-size="14.5" text-anchor="middle">7.5</text>
<line x1="514.25" y1="244.7" x2="514.25" y2="242.2" stroke="#202020" stroke-width="0.8"/>
<text x="547" y="262.9" font-family="Liberation Serif" font-size="14.5" text-anchor="middle">8.0</text>
<line x1="547" y1="244.7" x2="547" y2="242.2" stroke="#202020" stroke-width="0.8"/>
<text x="579.75" y="262.9" font-family="Liberation Serif" font-size="14.5" text-anchor="middle">8.5</text>
<line x1="579.75" y1="244.7" x2="579.75" y2="242.2" stroke="#202020" stroke-width="0.8"/>
<text x="612.5" y="262.9" font-family="Liberation Serif" font-size="14.5" text-anchor="middle">9.0</text>
<line x1="612.5" y1="244.7" x2="612.5" y2="242.2" stroke="#202020" stroke-width="0.8"/>
<text x="645.25" y="262.9" font-family="Liberation Serif" font-size="14.5" text-anchor="middle">9.5</text>
<line x1="645.25" y1="244.7" x2="645.25" y2="242.2" stroke="#202020" stroke-width="0.8"/>
<text x="678" y="262.9" font-family="Liberation Serif" font-size="14.5" text-anchor="middle">10</text>
<line x1="678" y1="244.7" x2="678" y2="242.2" stroke="#202020" stroke-width="0.8"/>
<text x="412" y="249.7" font-family="Liberation Serif" font-size="14.5" text-anchor="end">50</text>
<line x1="416" y1="244.7" x2="418.5" y2="244.7" stroke="#202020" stroke-width="0.8"/>
<text x="412" y="226.23" font-family="Liberation Serif" font-size="14.5" text-anchor="end">60</text>
<line x1="416" y1="221.23" x2="418.5" y2="221.23" stroke="#202020" stroke-width="0.8"/>
<text x="412" y="202.76" font-family="Liberation Serif" font-size="14.5" text-anchor="end">70</text>
<line x1="416" y1="197.76" x2="418.5" y2="197.76" stroke="#202020" stroke-width="0.8"/>
<text x="412" y="179.29" font-family="Liberation Serif" font-size="14.5" text-anchor="end">80</text>
<line x1="416" y1="174.29" x2="418.5" y2="174.29" stroke="#202020" stroke-width="0.8"/>
<text x="412" y="155.82" font-family="Liberation Serif" font-size="14.5" text-anchor="end">90</text>
<line x1="416" y1="150.82" x2="418.5" y2="150.82" stroke="#202020" stroke-width="0.8"/>
<text x="412" y="132.35" font-family="Liberation Serif" font-size="14.5" text-anchor="end">100</text>
<line x1="416" y1="127.35" x2="418.5" y2="127.35" stroke="#202020" stroke-width="0.8"/>
<text x="412" y="108.88" font-family="Liberation Serif" font-size="14.5" text-anchor="end">110</text>
<line x1="416" y1="103.88" x2="418.5" y2="103.88" stroke="#202020" stroke-width="0.8"/>
<text x="412" y="85.41" font-family="Liberation Serif" font-size="14.5" text-anchor="end">120</text>
<line x1="416" y1="80.41" x2="418.5" y2="80.41" stroke="#202020" stroke-width="0.8"/>
<text x="412" y="61.94" font-family="Liberation Serif" font-size="14.5" text-anchor="end">130</text>
<line x1="416" y1="56.94" x2="418.5" y2="56.94" stroke="#202020" stroke-width="0.8"/>
<text x="412" y="38.47" font-family="Liberation Serif" font-size="14.5" text-anchor="end">140</text>
<line x1="416" y1="33.47" x2="418.5" y2="33.47" stroke="#202020" stroke-width="0.8"/>
<text x="412" y="15" font-family="Liberation Serif" font-size="14.5" text-anchor="end">150</text>
<line x1="416" y1="10" x2="418.5" y2="10" stroke="#202020" stroke-width="0.8"/>
<line x1="442.2" y1="10" x2="442.2" y2="12.5" stroke="#202020" stroke-width="0.8"/>
<line x1="468.4" y1="10" x2="468.4" y2="12.5" stroke="#202020" stroke-width="0.8"/>
<line x1="494.6" y1="10" x2="494.6" y2="12.5" stroke="#202020" stroke-width="0.8"/>
<line x1="520.8" y1="10" x2="520.8" y2="12.5" stroke="#202020" stroke-width="0.8"/>
<line x1="547" y1="10" x2="547" y2="12.5" stroke="#202020" stroke-width="0.8"/>
<line x1="573.2" y1="10" x2="573.2" y2="12.5" stroke="#202020" stroke-width="0.8"/>
<line x1="599.4" y1="10" x2="599.4" y2="12.5" stroke="#202020" stroke-width="0.8"/>
<line x1="625.6" y1="10" x2="625.6" y2="12.5" stroke="#202020" stroke-width="0.8"/>
<line x1="651.8" y1="10" x2="651.8" y2="12.5" stroke="#202020" stroke-width="0.8"/>
<text x="547" y="286.5" font-family="Liberation Serif" font-size="17" text-anchor="middle">pH</text>
<text transform="translate(380 127.35) rotate(-90)" font-family="Liberation Serif" font-size="17" text-anchor="middle" stroke="#202020" stroke-width="0.5">Protease (U/mL)</text>
<text x="416" y="565.5" font-family="Liberation Serif" font-size="14.5" text-anchor="middle">6.0</text>
<line x1="416" y1="547.3" x2="416" y2="544.8" stroke="#202020" stroke-width="0.8"/>
<text x="450.19" y="565.5" font-family="Liberation Serif" font-size="14.5" text-anchor="middle">6.5</text>
<line x1="450.19" y1="547.3" x2="450.19" y2="544.8" stroke="#202020" stroke-width="0.8"/>
<text x="484.38" y="565.5" font-family="Liberation Serif" font-size="14.5" text-anchor="middle">7.0</text>
<line x1="484.38" y1="547.3" x2="484.38" y2="544.8" stroke="#202020" stroke-width="0.8"/>
<text x="518.56" y="565.5" font-family="Liberation Serif" font-size="14.5" text-anchor="middle">7.5</text>
<line x1="518.56" y1="547.3" x2="518.56" y2="544.8" stroke="#202020" stroke-width="0.8"/>
<text x="552.75" y="565.5" font-family="Liberation Serif" font-size="14.5" text-anchor="middle">8.0</text>
<line x1="552.75" y1="547.3" x2="552.75" y2="544.8" stroke="#202020" stroke-width="0.8"/>
<text x="586.94" y="565.5" font-family="Liberation Serif" font-size="14.5" text-anchor="middle">8.5</text>
<line x1="586.94" y1="547.3" x2="586.94" y2="544.8" stroke="#202020" stroke-width="0.8"/>
<text x="621.12" y="565.5" font-family="Liberation Serif" font-size="14.5" text-anchor="middle">9.0</text>
<line x1="621.12" y1="547.3" x2="621.12" y2="544.8" stroke="#202020" stroke-width="0.8"/>
<text x="655.31" y="565.5" font-family="Liberation Serif" font-size="14.5" text-anchor="middle">9.5</text>
<line x1="655.31" y1="547.3" x2="655.31" y2="544.8" stroke="#202020" stroke-width="0.8"/>
<text x="689.5" y="565.5" font-family="Liberation Serif" font-size="14.5" text-anchor="middle">10</text>
<line x1="689.5" y1="547.3" x2="689.5" y2="544.8" stroke="#202020" stroke-width="0.8"/>
<text x="412" y="552.3" font-family="Liberation Serif" font-size="14.5" text-anchor="end">50</text>
<line x1="416" y1="547.3" x2="418.5" y2="547.3" stroke="#202020" stroke-width="0.8"/>
<text x="412" y="528.82" font-family="Liberation Serif" font-size="14.5" text-anchor="end">60</text>
<line x1="416" y1="523.82" x2="418.5" y2="523.82" stroke="#202020" stroke-width="0.8"/>
<text x="412" y="505.34" font-family="Liberation Serif" font-size="14.5" text-anchor="end">70</text>
<line x1="416" y1="500.34" x2="418.5" y2="500.34" stroke="#202020" stroke-width="0.8"/>
<text x="412" y="481.86" font-family="Liberation Serif" font-size="14.5" text-anchor="end">80</text>
<line x1="416" y1="476.86" x2="418.5" y2="476.86" stroke="#202020" stroke-width="0.8"/>
<text x="412" y="458.38" font-family="Liberation Serif" font-size="14.5" text-anchor="end">90</text>
<line x1="416" y1="453.38" x2="418.5" y2="453.38" stroke="#202020" stroke-width="0.8"/>
<text x="412" y="434.9" font-family="Liberation Serif" font-size="14.5" text-anchor="end">100</text>
<line x1="416" y1="429.9" x2="418.5" y2="429.9" stroke="#202020" stroke-width="0.8"/>
<text x="412" y="411.42" font-family="Liberation Serif" font-size="14.5" text-anchor="end">110</text>
<line x1="416" y1="406.42" x2="418.5" y2="406.42" stroke="#202020" stroke-width="0.8"/>
<text x="412" y="387.94" font-family="Liberation Serif" font-size="14.5" text-anchor="end">120</text>
<line x1="416" y1="382.94" x2="418.5" y2="382.94" stroke="#202020" stroke-width="0.8"/>
<text x="412" y="364.46" font-family="Liberation Serif" font-size="14.5" text-anchor="end">130</text>
<line x1="416" y1="359.46" x2="418.5" y2="359.46" stroke="#202020" stroke-width="0.8"/>
<text x="412" y="340.98" font-family="Liberation Serif" font-size="14.5" text-anchor="end">140</text>
<line x1="416" y1="335.98" x2="418.5" y2="335.98" stroke="#202020" stroke-width="0.8"/>
<text x="412" y="317.5" font-family="Liberation Serif" font-size="14.5" text-anchor="end">150</text>
<line x1="416" y1="312.5" x2="418.5" y2="312.5" stroke="#202020" stroke-width="0.8"/>
<line x1="443.35" y1="312.5" x2="443.35" y2="315" stroke="#202020" stroke-width="0.8"/>
<line x1="470.7" y1="312.5" x2="470.7" y2="315" stroke="#202020" stroke-width="0.8"/>
<line x1="498.05" y1="312.5" x2="498.05" y2="315" stroke="#202020" stroke-width="0.8"/>
<line x1="525.4" y1="312.5" x2="525.4" y2="315" stroke="#202020" stroke-width="0.8"/>
<line x1="552.75" y1="312.5" x2="552.75" y2="315" stroke="#202020" stroke-width="0.8"/>
<line x1="580.1" y1="312.5" x2="580.1" y2="315" stroke="#202020" stroke-width="0.8"/>
<line x1="607.45" y1="312.5" x2="607.45" y2="315" stroke="#202020" stroke-width="0.8"/>
<line x1="634.8" y1="312.5" x2="634.8" y2="315" stroke="#202020" stroke-width="0.8"/>
<line x1="662.15" y1="312.5" x2="662.15" y2="315" stroke="#202020" stroke-width="0.8"/>
<text x="552.75" y="589.1" font-family="Liberation Serif" font-size="17" text-anchor="middle">pH</text>
<text transform="translate(380 429.9) rotate(-90)" font-family="Liberation Serif" font-size="17" text-anchor="middle" stroke="#202020" stroke-width="0">Protease (U/mL)</text>
<rect x="689.3" y="151.5" width="18.5" height="10.5" fill="#6e0000" stroke="#303030" stroke-width="0.9"/>
<text x="712.8" y="161" font-family="Liberation Serif" font-size="12.6" letter-spacing="-0.35">&gt; 1100</text>
<rect x="689.3" y="165.58" width="18.5" height="10.5" fill="#8a0000" stroke="#303030" stroke-width="0.9"/>
<text x="712.8" y="175.08" font-family="Liberation Serif" font-size="12.6" letter-spacing="-0.35">&lt; 1100</text>
<rect x="689.3" y="179.66" width="18.5" height="10.5" fill="#c00000" stroke="#303030" stroke-width="0.9"/>
<text x="712.8" y="189.16" font-family="Liberation Serif" font-size="12.6" letter-spacing="-0.35">&lt; 1050</text>
<rect x="689.3" y="193.74" width="18.5" height="10.5" fill="#ff0000" stroke="#303030" stroke-width="0.9"/>
<text x="712.8" y="203.24" font-family="Liberation Serif" font-size="12.6" letter-spacing="-0.35">&lt; 1000</text>
<rect x="689.3" y="207.82" width="18.5" height="10.5" fill="#ff8000" stroke="#303030" stroke-width="0.9"/>
<text x="712.8" y="217.32" font-family="Liberation Serif" font-size="12.6" letter-spacing="-0.35">&lt; 950</text>
<rect x="689.3" y="221.9" width="18.5" height="10.5" fill="#f5ff00" stroke="#303030" stroke-width="0.9"/>
<text x="712.8" y="231.4" font-family="Liberation Serif" font-size="12.6" letter-spacing="-0.35">&lt; 900</text>
<rect x="689.3" y="235.98" width="18.5" height="10.5" fill="#50ff10" stroke="#303030" stroke-width="0.9"/>
<text x="712.8" y="245.48" font-family="Liberation Serif" font-size="12.6" letter-spacing="-0.35">&lt; 850</text>
<rect x="689.3" y="250.06" width="18.5" height="10.5" fill="#00c000" stroke="#303030" stroke-width="0.9"/>
<text x="712.8" y="259.56" font-family="Liberation Serif" font-size="12.6" letter-spacing="-0.35">&lt; 800</text>
<rect x="689.3" y="264.14" width="18.5" height="10.5" fill="#0b6e30" stroke="#303030" stroke-width="0.9"/>
<text x="712.8" y="273.64" font-family="Liberation Serif" font-size="12.6" letter-spacing="-0.35">&lt; 750</text>
<rect x="701.2" y="496.8" width="18.5" height="10.5" fill="#6e0000" stroke="#303030" stroke-width="0.9"/>
<text x="724.7" y="506.3" font-family="Liberation Serif" font-size="12.6" letter-spacing="-0.35">&gt; 18</text>
<rect x="701.2" y="510.95" width="18.5" height="10.5" fill="#8a0000" stroke="#303030" stroke-width="0.9"/>
<text x="724.7" y="520.45" font-family="Liberation Serif" font-size="12.6" letter-spacing="-0.35">&lt; 18</text>
<rect x="701.2" y="525.1" width="18.5" height="10.5" fill="#ff0000" stroke="#303030" stroke-width="0.9"/>
<text x="724.7" y="534.6" font-family="Liberation Serif" font-size="12.6" letter-spacing="-0.35">&lt; 16</text>
<rect x="701.2" y="539.25" width="18.5" height="10.5" fill="#ffff00" stroke="#303030" stroke-width="0.9"/>
<text x="724.7" y="548.75" font-family="Liberation Serif" font-size="12.6" letter-spacing="-0.35">&lt; 14</text>
<rect x="701.2" y="553.4" width="18.5" height="10.5" fill="#22ff11" stroke="#303030" stroke-width="0.9"/>
<text x="724.7" y="562.9" font-family="Liberation Serif" font-size="12.6" letter-spacing="-0.35">&lt; 12</text>
<rect x="701.2" y="567.55" width="18.5" height="10.5" fill="#0a8a28" stroke="#303030" stroke-width="0.9"/>
<text x="724.7" y="577.05" font-family="Liberation Serif" font-size="12.6" letter-spacing="-0.35">&lt; 10</text>
<text x="6.3" y="21.8" font-family="Liberation Sans" font-weight="bold" font-size="25.3" stroke="#000" stroke-width="0.3">A</text>
<text x="6.3" y="313.1" font-family="Liberation Sans" font-weight="bold" font-size="25.3" stroke="#000" stroke-width="0.3">B</text>
</svg>
</body></html>
